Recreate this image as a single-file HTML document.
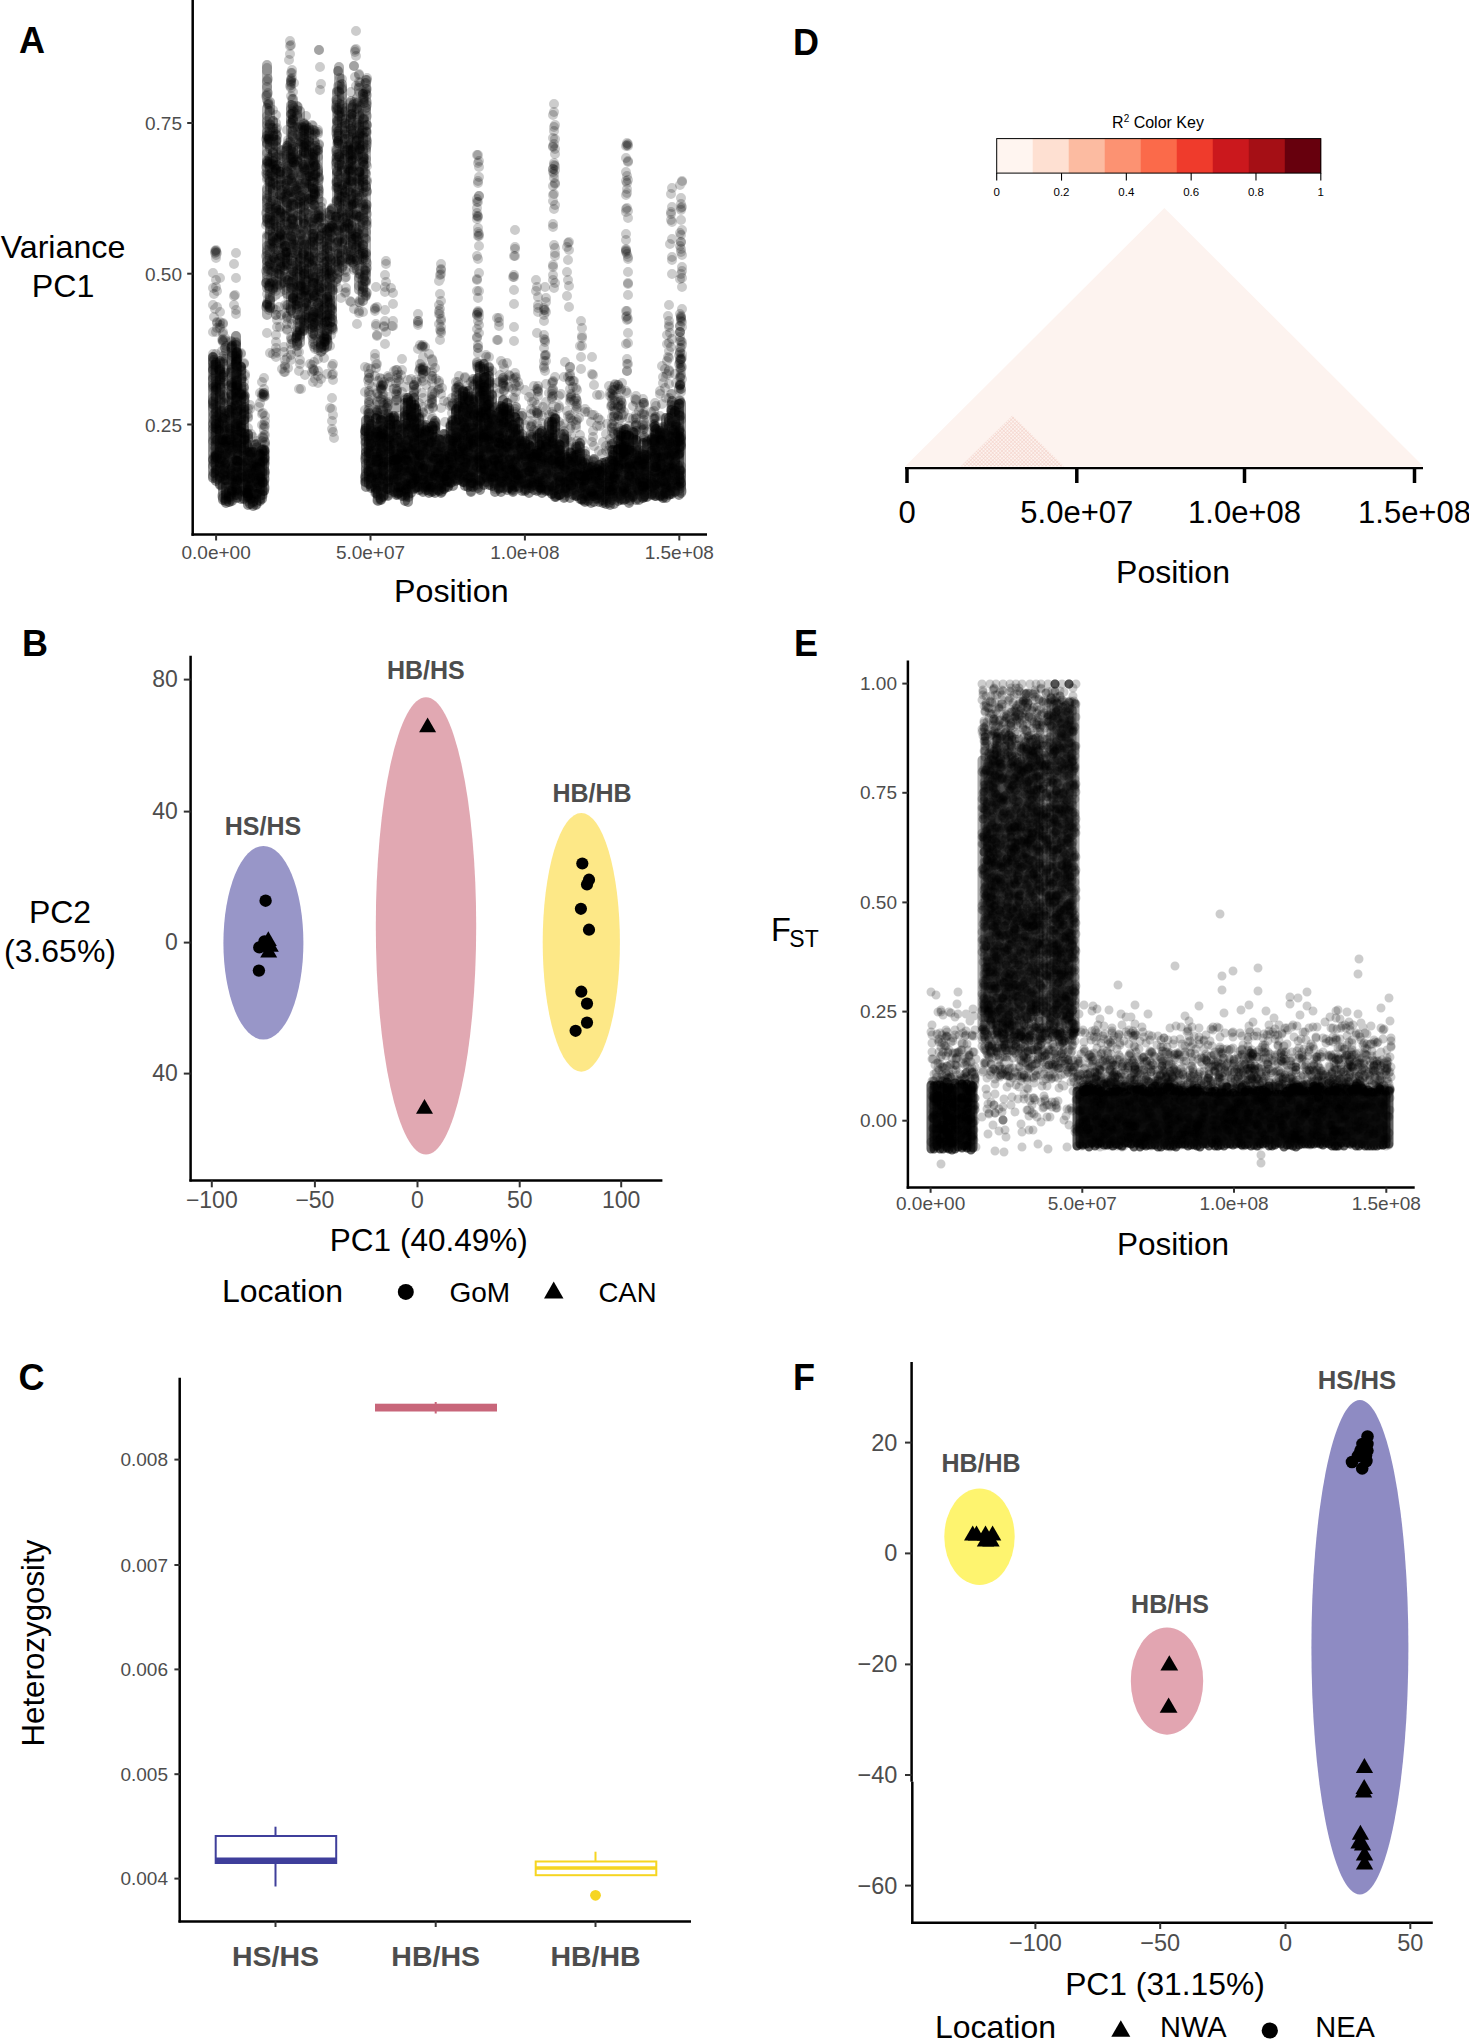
<!DOCTYPE html>
<html><head><meta charset="utf-8"><style>
html,body{margin:0;padding:0;background:#fff;}
svg{display:block;}
.s{stroke:#000;stroke-linecap:round;fill:none;}
text{font-family:"Liberation Sans",sans-serif;}
</style></head><body>
<svg width="1469" height="2040" viewBox="0 0 1469 2040">
<text x="19" y="52.8" font-size="36" text-anchor="start" font-weight="bold" fill="#000" >A</text>
<line x1="192.7" y1="0" x2="192.7" y2="535.8" stroke="#000" stroke-width="2.5"/>
<line x1="191.5" y1="534.6" x2="707" y2="534.6" stroke="#000" stroke-width="2.5"/>
<line x1="187.2" y1="123.0" x2="192.7" y2="123.0" stroke="#333" stroke-width="2"/>
<text x="182" y="130.0" font-size="19" text-anchor="end" fill="#4d4d4d" >0.75</text>
<line x1="187.2" y1="273.7" x2="192.7" y2="273.7" stroke="#333" stroke-width="2"/>
<text x="182" y="280.7" font-size="19" text-anchor="end" fill="#4d4d4d" >0.50</text>
<line x1="187.2" y1="424.5" x2="192.7" y2="424.5" stroke="#333" stroke-width="2"/>
<text x="182" y="431.5" font-size="19" text-anchor="end" fill="#4d4d4d" >0.25</text>
<line x1="216.1" y1="534.6" x2="216.1" y2="540.5" stroke="#333" stroke-width="2"/>
<text x="216.1" y="559" font-size="19" text-anchor="middle" fill="#4d4d4d" >0.0e+00</text>
<line x1="370.5" y1="534.6" x2="370.5" y2="540.5" stroke="#333" stroke-width="2"/>
<text x="370.5" y="559" font-size="19" text-anchor="middle" fill="#4d4d4d" >5.0e+07</text>
<line x1="524.9" y1="534.6" x2="524.9" y2="540.5" stroke="#333" stroke-width="2"/>
<text x="524.9" y="559" font-size="19" text-anchor="middle" fill="#4d4d4d" >1.0e+08</text>
<line x1="679.3" y1="534.6" x2="679.3" y2="540.5" stroke="#333" stroke-width="2"/>
<text x="679.3" y="559" font-size="19" text-anchor="middle" fill="#4d4d4d" >1.5e+08</text>
<text x="451.3" y="602" font-size="32.2" text-anchor="middle" fill="#000" >Position</text>
<text x="63" y="258" font-size="32.2" text-anchor="middle" fill="#000" >Variance</text>
<text x="63" y="297" font-size="32.2" text-anchor="middle" fill="#000" >PC1</text>
<text x="793.1" y="54.8" font-size="36" text-anchor="start" font-weight="bold" fill="#000" >D</text>
<rect x="996.70" y="138.6" width="36.31" height="34.5" fill="#FFF5F0"/>
<rect x="1032.71" y="138.6" width="36.31" height="34.5" fill="#FEE0D2"/>
<rect x="1068.72" y="138.6" width="36.31" height="34.5" fill="#FCBBA1"/>
<rect x="1104.73" y="138.6" width="36.31" height="34.5" fill="#FC9272"/>
<rect x="1140.74" y="138.6" width="36.31" height="34.5" fill="#FB6A4A"/>
<rect x="1176.76" y="138.6" width="36.31" height="34.5" fill="#EF3B2C"/>
<rect x="1212.77" y="138.6" width="36.31" height="34.5" fill="#CB181D"/>
<rect x="1248.78" y="138.6" width="36.31" height="34.5" fill="#A50F15"/>
<rect x="1284.79" y="138.6" width="36.31" height="34.5" fill="#67000D"/>
<rect x="996.7" y="138.6" width="324.0999999999999" height="34.5" fill="none" stroke="#000" stroke-width="1"/>
<line x1="996.7" y1="173.1" x2="996.7" y2="180.6" stroke="#000" stroke-width="1.1"/>
<text x="996.7" y="196.2" font-size="11.5" text-anchor="middle" fill="#000" >0</text>
<line x1="1061.52" y1="173.1" x2="1061.52" y2="180.6" stroke="#000" stroke-width="1.1"/>
<text x="1061.52" y="196.2" font-size="11.5" text-anchor="middle" fill="#000" >0.2</text>
<line x1="1126.34" y1="173.1" x2="1126.34" y2="180.6" stroke="#000" stroke-width="1.1"/>
<text x="1126.34" y="196.2" font-size="11.5" text-anchor="middle" fill="#000" >0.4</text>
<line x1="1191.16" y1="173.1" x2="1191.16" y2="180.6" stroke="#000" stroke-width="1.1"/>
<text x="1191.16" y="196.2" font-size="11.5" text-anchor="middle" fill="#000" >0.6</text>
<line x1="1255.98" y1="173.1" x2="1255.98" y2="180.6" stroke="#000" stroke-width="1.1"/>
<text x="1255.98" y="196.2" font-size="11.5" text-anchor="middle" fill="#000" >0.8</text>
<line x1="1320.8" y1="173.1" x2="1320.8" y2="180.6" stroke="#000" stroke-width="1.1"/>
<text x="1320.8" y="196.2" font-size="11.5" text-anchor="middle" fill="#000" >1</text>
<text x="1158" y="128" font-size="16" text-anchor="middle">R<tspan font-size="10" dy="-6">2</tspan><tspan dy="6"> Color Key</tspan></text>
<polygon points="905,466.5 1164.4,208 1423.5,466.5" fill="#FDF3EF"/>
<defs><pattern id="ch" width="2.6" height="2.6" patternUnits="userSpaceOnUse" patternTransform="rotate(45)"><path d="M0 0.3H2.6M0.3 0V2.6" stroke="#EBB5AA" stroke-width="0.7"/></pattern></defs>
<polygon points="960.6,466.5 1012.4,415.5 1064.2,466.5" fill="url(#ch)" opacity="0.55"/>
<line x1="905" y1="468.1" x2="1423" y2="468.1" stroke="#000" stroke-width="2.2"/>
<line x1="907" y1="467" x2="907" y2="483" stroke="#000" stroke-width="3.5"/>
<line x1="1076.8" y1="467" x2="1076.8" y2="483" stroke="#000" stroke-width="3.5"/>
<line x1="1244.5" y1="467" x2="1244.5" y2="483" stroke="#000" stroke-width="3.5"/>
<line x1="1414.5" y1="467" x2="1414.5" y2="483" stroke="#000" stroke-width="3.5"/>
<text x="907" y="523" font-size="31" text-anchor="middle" fill="#000" >0</text>
<text x="1076.8" y="523" font-size="31" text-anchor="middle" fill="#000" >5.0e+07</text>
<text x="1244.5" y="523" font-size="31" text-anchor="middle" fill="#000" >1.0e+08</text>
<text x="1414.5" y="523" font-size="31" text-anchor="middle" fill="#000" >1.5e+08</text>
<text x="1173" y="583" font-size="32" text-anchor="middle" fill="#000" >Position</text>
<text x="22" y="655.9" font-size="36" text-anchor="start" font-weight="bold" fill="#000" >B</text>
<ellipse cx="263.4" cy="942.8" rx="40" ry="96.8" fill="#9896C8"/>
<ellipse cx="426" cy="925.9" rx="50.2" ry="228.7" fill="#E1A8B2"/>
<ellipse cx="581.3" cy="942.3" rx="38.6" ry="129.4" fill="#FDE887"/>
<line x1="190.6" y1="655.7" x2="190.6" y2="1181.6" stroke="#000" stroke-width="2.5"/>
<line x1="189.4" y1="1180.4" x2="662.4" y2="1180.4" stroke="#000" stroke-width="2.5"/>
<line x1="183.8" y1="679.6" x2="190.6" y2="679.6" stroke="#333" stroke-width="2"/>
<text x="177.9" y="687.3000000000001" font-size="23" text-anchor="end" fill="#4d4d4d" >80</text>
<line x1="183.8" y1="811.6" x2="190.6" y2="811.6" stroke="#333" stroke-width="2"/>
<text x="177.9" y="819.3000000000001" font-size="23" text-anchor="end" fill="#4d4d4d" >40</text>
<line x1="183.8" y1="942.6" x2="190.6" y2="942.6" stroke="#333" stroke-width="2"/>
<text x="177.9" y="950.3000000000001" font-size="23" text-anchor="end" fill="#4d4d4d" >0</text>
<line x1="183.8" y1="1073.6" x2="190.6" y2="1073.6" stroke="#333" stroke-width="2"/>
<text x="177.9" y="1081.3" font-size="23" text-anchor="end" fill="#4d4d4d" >40</text>
<line x1="211.8" y1="1180.4" x2="211.8" y2="1187.3" stroke="#333" stroke-width="2"/>
<text x="211.8" y="1208.2" font-size="23" text-anchor="middle" fill="#4d4d4d" >−100</text>
<line x1="314.9" y1="1180.4" x2="314.9" y2="1187.3" stroke="#333" stroke-width="2"/>
<text x="314.9" y="1208.2" font-size="23" text-anchor="middle" fill="#4d4d4d" >−50</text>
<line x1="417.5" y1="1180.4" x2="417.5" y2="1187.3" stroke="#333" stroke-width="2"/>
<text x="417.5" y="1208.2" font-size="23" text-anchor="middle" fill="#4d4d4d" >0</text>
<line x1="519.7" y1="1180.4" x2="519.7" y2="1187.3" stroke="#333" stroke-width="2"/>
<text x="519.7" y="1208.2" font-size="23" text-anchor="middle" fill="#4d4d4d" >50</text>
<line x1="621.2" y1="1180.4" x2="621.2" y2="1187.3" stroke="#333" stroke-width="2"/>
<text x="621.2" y="1208.2" font-size="23" text-anchor="middle" fill="#4d4d4d" >100</text>
<text x="428.8" y="1251" font-size="31.5" text-anchor="middle" fill="#000" >PC1 (40.49%)</text>
<text x="60" y="922.9" font-size="32" text-anchor="middle" fill="#000" >PC2</text>
<text x="60" y="961.5" font-size="32" text-anchor="middle" fill="#000" >(3.65%)</text>
<text x="263" y="834.7" font-size="25" text-anchor="middle" font-weight="bold" fill="#4d4d4d" >HS/HS</text>
<text x="425.9" y="678.7" font-size="25" text-anchor="middle" font-weight="bold" fill="#4d4d4d" >HB/HS</text>
<text x="592" y="801.7" font-size="25" text-anchor="middle" font-weight="bold" fill="#4d4d4d" >HB/HB</text>
<circle cx="265.6" cy="900.7" r="6.2" fill="#000"/>
<circle cx="264.5" cy="941.5" r="6.2" fill="#000"/>
<circle cx="259.3" cy="947.4" r="6.2" fill="#000"/>
<circle cx="258.9" cy="970.6" r="6.2" fill="#000"/>
<polygon points="259.8,945.9 276.8,945.9 268.3,931.2" fill="#000"/>
<polygon points="260.2,957.6 277.2,957.6 268.7,942.9" fill="#000"/>
<polygon points="261.8,951.7 278.8,951.7 270.3,937.0" fill="#000"/>
<polygon points="419.1,732.3 436.1,732.3 427.6,717.6" fill="#000"/>
<polygon points="416.0,1113.7 433.0,1113.7 424.5,1099.0" fill="#000"/>
<circle cx="582.3" cy="863.5" r="6.1" fill="#000"/>
<circle cx="589" cy="879.7" r="6.1" fill="#000"/>
<circle cx="587" cy="884.5" r="6.1" fill="#000"/>
<circle cx="580.9" cy="908.8" r="6.1" fill="#000"/>
<circle cx="589" cy="929.7" r="6.1" fill="#000"/>
<circle cx="581.3" cy="991.7" r="6.1" fill="#000"/>
<circle cx="587" cy="1003.6" r="6.1" fill="#000"/>
<circle cx="587" cy="1022.6" r="6.1" fill="#000"/>
<circle cx="575.6" cy="1030.8" r="6.1" fill="#000"/>
<text x="222" y="1301.7" font-size="32" text-anchor="start" fill="#000" >Location</text>
<circle cx="405.8" cy="1291.9" r="8" fill="#000"/>
<text x="449.5" y="1302.4" font-size="28" text-anchor="start" fill="#000" >GoM</text>
<polygon points="544.0,1298.5 563.5,1298.5 553.7,1281.6" fill="#000"/>
<text x="598.5" y="1302.4" font-size="27.5" text-anchor="start" fill="#000" >CAN</text>
<text x="18.6" y="1390" font-size="36" text-anchor="start" font-weight="bold" fill="#000" >C</text>
<line x1="179.7" y1="1377.7" x2="179.7" y2="1922.6" stroke="#000" stroke-width="2.5"/>
<line x1="178.5" y1="1921.4" x2="691" y2="1921.4" stroke="#000" stroke-width="2.5"/>
<line x1="174.4" y1="1459.6" x2="179.9" y2="1459.6" stroke="#333" stroke-width="2"/>
<text x="168" y="1466.1" font-size="19" text-anchor="end" fill="#4d4d4d" >0.008</text>
<line x1="174.4" y1="1565" x2="179.9" y2="1565" stroke="#333" stroke-width="2"/>
<text x="168" y="1571.5" font-size="19" text-anchor="end" fill="#4d4d4d" >0.007</text>
<line x1="174.4" y1="1669.4" x2="179.9" y2="1669.4" stroke="#333" stroke-width="2"/>
<text x="168" y="1675.9" font-size="19" text-anchor="end" fill="#4d4d4d" >0.006</text>
<line x1="174.4" y1="1774.2" x2="179.9" y2="1774.2" stroke="#333" stroke-width="2"/>
<text x="168" y="1780.7" font-size="19" text-anchor="end" fill="#4d4d4d" >0.005</text>
<line x1="174.4" y1="1878.6" x2="179.9" y2="1878.6" stroke="#333" stroke-width="2"/>
<text x="168" y="1885.1" font-size="19" text-anchor="end" fill="#4d4d4d" >0.004</text>
<line x1="275.5" y1="1921.3" x2="275.5" y2="1927" stroke="#333" stroke-width="2"/>
<text x="275.5" y="1966" font-size="28.5" text-anchor="middle" font-weight="bold" fill="#4d4d4d" >HS/HS</text>
<line x1="435.7" y1="1921.3" x2="435.7" y2="1927" stroke="#333" stroke-width="2"/>
<text x="435.7" y="1966" font-size="28.5" text-anchor="middle" font-weight="bold" fill="#4d4d4d" >HB/HS</text>
<line x1="595.5" y1="1921.3" x2="595.5" y2="1927" stroke="#333" stroke-width="2"/>
<text x="595.5" y="1966" font-size="28.5" text-anchor="middle" font-weight="bold" fill="#4d4d4d" >HB/HB</text>
<text transform="translate(44,1643.1) rotate(-90)" font-size="31.3" text-anchor="middle">Heterozygosity</text>
<line x1="275.5" y1="1826.7" x2="275.5" y2="1836" stroke="#3F3F9B" stroke-width="2"/>
<line x1="275.5" y1="1863" x2="275.5" y2="1886.5" stroke="#3F3F9B" stroke-width="2"/>
<rect x="215.7" y="1836" width="120.5" height="27" fill="#fff" stroke="#3F3F9B" stroke-width="2"/>
<line x1="215.7" y1="1860" x2="336.2" y2="1860" stroke="#3F3F9B" stroke-width="5"/>
<rect x="375" y="1403.7" width="122" height="7.8" fill="#C8667A"/>
<line x1="435.7" y1="1402" x2="435.7" y2="1413.5" stroke="#C8667A" stroke-width="2"/>
<line x1="595.5" y1="1851.7" x2="595.5" y2="1861.5" stroke="#F6D521" stroke-width="2"/>
<rect x="535.7" y="1861.5" width="120.6" height="13.7" fill="none" stroke="#F6D521" stroke-width="2"/>
<line x1="535.7" y1="1868" x2="656.3" y2="1868" stroke="#F6D521" stroke-width="3.5"/>
<circle cx="595.5" cy="1895.3" r="5.4" fill="#F6D521"/>
<text x="794.1" y="655.8" font-size="36" text-anchor="start" font-weight="bold" fill="#000" >E</text>
<line x1="907.9" y1="660.6" x2="907.9" y2="1188.7" stroke="#000" stroke-width="2.5"/>
<line x1="906.7" y1="1187.5" x2="1414.7" y2="1187.5" stroke="#000" stroke-width="2.5"/>
<line x1="902.3" y1="683.6" x2="907.9" y2="683.6" stroke="#333" stroke-width="2"/>
<text x="897" y="690.1" font-size="19" text-anchor="end" fill="#4d4d4d" >1.00</text>
<line x1="902.3" y1="792.8" x2="907.9" y2="792.8" stroke="#333" stroke-width="2"/>
<text x="897" y="799.3" font-size="19" text-anchor="end" fill="#4d4d4d" >0.75</text>
<line x1="902.3" y1="902.4" x2="907.9" y2="902.4" stroke="#333" stroke-width="2"/>
<text x="897" y="908.9" font-size="19" text-anchor="end" fill="#4d4d4d" >0.50</text>
<line x1="902.3" y1="1011.6" x2="907.9" y2="1011.6" stroke="#333" stroke-width="2"/>
<text x="897" y="1018.1" font-size="19" text-anchor="end" fill="#4d4d4d" >0.25</text>
<line x1="902.3" y1="1120.7" x2="907.9" y2="1120.7" stroke="#333" stroke-width="2"/>
<text x="897" y="1127.2" font-size="19" text-anchor="end" fill="#4d4d4d" >0.00</text>
<line x1="930.6" y1="1187.5" x2="930.6" y2="1192.8" stroke="#333" stroke-width="2"/>
<text x="930.6" y="1209.8" font-size="19" text-anchor="middle" fill="#4d4d4d" >0.0e+00</text>
<line x1="1082.3" y1="1187.5" x2="1082.3" y2="1192.8" stroke="#333" stroke-width="2"/>
<text x="1082.3" y="1209.8" font-size="19" text-anchor="middle" fill="#4d4d4d" >5.0e+07</text>
<line x1="1234" y1="1187.5" x2="1234" y2="1192.8" stroke="#333" stroke-width="2"/>
<text x="1234" y="1209.8" font-size="19" text-anchor="middle" fill="#4d4d4d" >1.0e+08</text>
<line x1="1386.3" y1="1187.5" x2="1386.3" y2="1192.8" stroke="#333" stroke-width="2"/>
<text x="1386.3" y="1209.8" font-size="19" text-anchor="middle" fill="#4d4d4d" >1.5e+08</text>
<text x="1173" y="1254.6" font-size="31.5" text-anchor="middle" fill="#000" >Position</text>
<text x="771" y="940.6" font-size="32.5">F<tspan font-size="23" dx="-1.5" dy="6.5">ST</tspan></text>
<text x="793.1" y="1389.7" font-size="36" text-anchor="start" font-weight="bold" fill="#000" >F</text>
<ellipse cx="979.5" cy="1536.8" rx="35.2" ry="48.2" fill="#FEF46F"/>
<ellipse cx="1167" cy="1681.1" rx="36.2" ry="53.6" fill="#E2A5B1"/>
<ellipse cx="1359.9" cy="1647.3" rx="48.5" ry="247.2" fill="#8E8BC3"/>
<line x1="911.6" y1="1362" x2="911.6" y2="1781.7" stroke="#000" stroke-width="2.5"/>
<line x1="912.3" y1="1781.7" x2="912.3" y2="1924" stroke="#000" stroke-width="2.5"/>
<line x1="911.1" y1="1922.7" x2="1432.8" y2="1922.7" stroke="#000" stroke-width="2.5"/>
<line x1="905" y1="1442.6" x2="911.5" y2="1442.6" stroke="#333" stroke-width="2"/>
<text x="897.4" y="1450.6" font-size="23.5" text-anchor="end" fill="#4d4d4d" >20</text>
<line x1="905" y1="1553.4" x2="911.5" y2="1553.4" stroke="#333" stroke-width="2"/>
<text x="897.4" y="1561.4" font-size="23.5" text-anchor="end" fill="#4d4d4d" >0</text>
<line x1="905" y1="1664.4" x2="911.5" y2="1664.4" stroke="#333" stroke-width="2"/>
<text x="897.4" y="1672.4" font-size="23.5" text-anchor="end" fill="#4d4d4d" >−20</text>
<line x1="905" y1="1775.0" x2="911.5" y2="1775.0" stroke="#333" stroke-width="2"/>
<text x="897.4" y="1783.0" font-size="23.5" text-anchor="end" fill="#4d4d4d" >−40</text>
<line x1="905" y1="1885.6" x2="911.5" y2="1885.6" stroke="#333" stroke-width="2"/>
<text x="897.4" y="1893.6" font-size="23.5" text-anchor="end" fill="#4d4d4d" >−60</text>
<line x1="1035.4" y1="1922.7" x2="1035.4" y2="1929" stroke="#333" stroke-width="2"/>
<text x="1035.4" y="1950.6" font-size="23.5" text-anchor="middle" fill="#4d4d4d" >−100</text>
<line x1="1160.2" y1="1922.7" x2="1160.2" y2="1929" stroke="#333" stroke-width="2"/>
<text x="1160.2" y="1950.6" font-size="23.5" text-anchor="middle" fill="#4d4d4d" >−50</text>
<line x1="1285.5" y1="1922.7" x2="1285.5" y2="1929" stroke="#333" stroke-width="2"/>
<text x="1285.5" y="1950.6" font-size="23.5" text-anchor="middle" fill="#4d4d4d" >0</text>
<line x1="1410.3" y1="1922.7" x2="1410.3" y2="1929" stroke="#333" stroke-width="2"/>
<text x="1410.3" y="1950.6" font-size="23.5" text-anchor="middle" fill="#4d4d4d" >50</text>
<text x="1165" y="1995" font-size="31.8" text-anchor="middle" fill="#000" >PC1 (31.15%)</text>
<text x="981" y="1472" font-size="25" text-anchor="middle" font-weight="bold" fill="#4d4d4d" >HB/HB</text>
<text x="1170" y="1613" font-size="25" text-anchor="middle" font-weight="bold" fill="#4d4d4d" >HB/HS</text>
<text x="1357" y="1389" font-size="25.7" text-anchor="middle" font-weight="bold" fill="#4d4d4d" >HS/HS</text>
<polygon points="964.0,1540.6 981.4,1540.6 972.7,1525.5" fill="#000"/>
<polygon points="967.8,1540.6 985.2,1540.6 976.5,1525.5" fill="#000"/>
<polygon points="976.8,1540.6 994.2,1540.6 985.5,1525.5" fill="#000"/>
<polygon points="983.9,1540.6 1001.3,1540.6 992.6,1525.5" fill="#000"/>
<polygon points="976.8,1546.6 994.2,1546.6 985.5,1531.5" fill="#000"/>
<polygon points="982.3,1546.6 999.7,1546.6 991.0,1531.5" fill="#000"/>
<polygon points="1160.4,1670.6 1178.2,1670.6 1169.3,1655.2" fill="#000"/>
<polygon points="1159.7,1712.8 1177.5,1712.8 1168.6,1697.4" fill="#000"/>
<circle cx="1367.5" cy="1436.5" r="6.3" fill="#000"/>
<circle cx="1367.4" cy="1444" r="6.3" fill="#000"/>
<circle cx="1362.5" cy="1444" r="6.3" fill="#000"/>
<circle cx="1367.4" cy="1450.6" r="6.3" fill="#000"/>
<circle cx="1360.5" cy="1450.6" r="6.3" fill="#000"/>
<circle cx="1366" cy="1455.5" r="6.3" fill="#000"/>
<circle cx="1358" cy="1456" r="6.3" fill="#000"/>
<circle cx="1366.4" cy="1461" r="6.3" fill="#000"/>
<circle cx="1352" cy="1462" r="6.3" fill="#000"/>
<circle cx="1362.2" cy="1468.4" r="6.3" fill="#000"/>
<polygon points="1355.8,1772.9 1373.1,1772.9 1364.4,1757.9" fill="#000"/>
<polygon points="1354.9,1797.5 1372.2,1797.5 1363.6,1782.5" fill="#000"/>
<polygon points="1355.5,1794.0 1372.9,1794.0 1364.2,1779.0" fill="#000"/>
<polygon points="1351.8,1839.8 1369.1,1839.8 1360.4,1824.8" fill="#000"/>
<polygon points="1350.4,1848.4 1367.8,1848.4 1359.1,1833.4" fill="#000"/>
<polygon points="1353.9,1850.6 1371.2,1850.6 1362.6,1835.6" fill="#000"/>
<polygon points="1355.8,1860.5 1373.2,1860.5 1364.5,1845.5" fill="#000"/>
<polygon points="1355.9,1869.4 1373.2,1869.4 1364.6,1854.4" fill="#000"/>
<text x="935" y="2038" font-size="32" text-anchor="start" fill="#000" >Location</text>
<polygon points="1111.3,2036.7 1130.3,2036.7 1120.8,2020.2" fill="#000"/>
<text x="1160" y="2036.5" font-size="29" text-anchor="start" fill="#000" >NWA</text>
<circle cx="1269.8" cy="2030.5" r="8.1" fill="#000"/>
<text x="1315.3" y="2036.5" font-size="29" text-anchor="start" fill="#000" >NEA</text>
<path d="M213 357V478M223 418V500M232 346V501M241 367V499M250 452V504M260 454V501M366 420V487M376 418V493M383 421V497M394 416V492M402 425V496M411 401V493M419 418V490M429 431V493M439 439V491M448 439V487M456 409V481M465 392V486M473 400V487M484 364V485M492 395V486M501 406V492M509 408V488M519 422V488M529 445V493M537 451V491M546 439V491M555 418V497M564 434V498M573 456V495M582 462V500M591 467V503M599 465V502M610 460V505M618 449V501M626 429V499M636 440V500M644 455V497M655 426V496M663 427V498M672 401V494M681 403V493" stroke-opacity="0.42" stroke-width="10" class="s"/>
<path d="M216 363V481M226 439V503M236 336V495M244 397V499M253 452V506M262 450V499M369 413V484M378 432V501M388 428V496M397 425V495M405 403V501M414 398V489M423 445V492M432 426V492M441 440V493M451 425V483M459 406V480M468 391V487M478 378V488M486 377V482M495 416V492M503 400V488M513 425V492M522 434V491M531 447V488M540 433V488M549 422V491M559 444V495M567 457V493M576 455V496M585 454V502M594 459V502M603 463V503M612 461V500M621 436V500M629 436V503M639 456V500M647 442V497M656 429V496M666 418V498M675 411V492" stroke-opacity="0.42" stroke-width="10" class="s"/>
<path d="M220 361V485M229 410V502M237 352V498M248 434V505M256 444V505M264 450V491M371 424V488M381 420V500M390 418V490M398 438V494M408 398V502M416 408V488M426 425V490M435 421V493M444 434V489M453 421V486M463 391V482M471 405V492M480 366V490M489 376V485M499 412V489M507 403V490M515 417V487M525 441V491M534 454V490M542 431V493M552 422V494M560 445V495M570 461V498M580 443V499M588 468V501M597 469V499M606 462V504M614 463V504M624 430V500M633 432V497M643 443V498M652 438V495M660 431V496M669 418V495M679 404V495" stroke-opacity="0.42" stroke-width="10" class="s"/>
<path d="M267 65V100M267 188V222M270 102V149M270 284V308M273 201V241M276 140V185M280 162V215M281 150V211M285 179V246M287 230V265M291 149V192M291 282V311M293 204V253M297 153V194M297 335V346M300 230V295M304 172V225M304 331V331M306 212V265M309 128V177M309 296V324M313 267V302M315 190V218M318 153V211M318 298V325M321 346V352M327 230V273M330 279V323M337 91V138M339 67V114M339 253V272M342 209V250M345 192V227M348 184V227M351 143V205M353 105V141M357 98V136M359 88V149M359 277V290M363 162V188M366 80V108M366 253V282" stroke-opacity="0.3" stroke-width="10" class="s"/>
<path d="M267 108V144M267 237V288M270 158V197M273 121V163M273 250V288M276 202V247M280 215V242M281 225V264M285 253V286M287 265V294M291 204V236M293 99V160M293 266V313M297 207V241M300 111V141M300 302V343M304 232V284M306 125V154M306 278V306M309 196V235M313 157V225M313 312V334M315 239V290M318 211V256M321 207V277M324 221V285M327 282V347M332 208V246M337 149V209M339 131V164M342 84V140M342 250V268M345 227V257M348 242V259M351 215V251M353 149V206M357 136V189M359 167V216M363 94V136M363 200V260M366 108V164" stroke-opacity="0.3" stroke-width="10" class="s"/>
<path d="M267 144V171M267 305V315M270 212V263M273 170V201M273 295V297M276 268V295M280 258V292M281 276V284M287 148V208M291 105V149M291 236V261M293 160V197M297 106V139M297 251V315M300 161V209M304 124V155M304 284V321M306 162V196M306 313V319M309 247V296M313 234V267M315 146V177M315 308V335M318 268V298M321 289V346M324 291V349M330 211V279M332 261V329M337 225V279M339 175V235M342 162V195M345 126V182M348 131V164M351 101V135M351 251V262M353 220V256M357 203V270M359 224V267M363 136V162M363 269V301M366 185V253" stroke-opacity="0.3" stroke-width="10" class="s"/>
<path d="M213 370h0m0-82h0m0 171h0m0-97h0m3 113h0m7-35h0m0-65h0m0 48h0m2-3h0m11 47h0m0-70h0m1-11h0m0 75h0m0-18h0m0-32h0m4-40h0m3 11h0m1 14h0m0 5h0m2 82h0m3 1h0m2 9h0m5 1h0m0-27h0m4 4h0m2 11h0m0 13h0m4-272h0m0-88h0m3 74h0m3 48h0m1-61h0m2-73h0m0 43h0m1 118h0m2-53h0m1-56h0m1 60h0m4 78h0m1-61h0m2 28h0m3-101h0m0 97h0m1 48h0m0 16h0m0-235h0m0 30h0m0 138h0m1 25h0m0-136h0m3 92h0m1 81h0m0 17h0m1-224h0m0 34h0m1 209h0m1-39h0m0-129h0m1 12h0m3 8h0m0-76h0m6 110h0m2-35h0m1-74h0m0 152h0m2 2h0m3-131h0m0 48h0m0-85h0m1 157h0m2-47h0m3 82h0m3-65h0m4 39h0m5-79h0m0-69h0m0 99h0m0 11h0m1-8h0m1-65h0m3 50h0m4-46h0m3-2h0m0-46h0m1 67h0m0 25h0m4-32h0m0 31h0m4-96h0m2 94h0m1 66h0m0-115h0m2 18h0m1-81h0m1-19h0m0 16h0m2 363h0m1-342h0m0-38h0m2 333h0m3 42h0m4-24h0m0-129h0m1 40h0m4 21h0m0 35h0m1 14h0m1 32h0m3-134h0m3 161h0m7-39h0m1 17h0m0-1h0m5-15h0m0 8h0m3 8h0m0-56h0m2 75h0m1-36h0m0 1h0m3-53h0m3 6h0m1 51h0m2-77h0m1-33h0m1 131h0m3 10h0m1-143h0m5 101h0m0-6h0m1 45h0m10-21h0m3-78h0m2 89h0m4-7h0m5-66h0m6 3h0m3-11h0m0 2h0m1 61h0m1-40h0m1 63h0m3-3h0m2-2h0m1-6h0m0-7h0m0-28h0m0 7h0m1-15h0m1 39h0m1-51h0m3-261h0m0 64h0m1 262h0m1-285h0m1 285h0m0-117h0m0 21h0m3 29h0m1-36h0m0 99h0m1 0h0m1-120h0m0 60h0m3 6h0m2-2h0m2 45h0m1 6h0m0-52h0m3-102h0m1 88h0m1 56h0m0-69h0m1 45h0m1-20h0m2-32h0m0 65h0m9 19h0m1 21h0m0-93h0m2 19h0m6 31h0m1 27h0m9-29h0m0-8h0m3-8h0m5 14h0m7 29h0m2-15h0m1-1h0m7-12h0m3 17h0m5 7h0m4-189h0m2 118h0m0 17h0m0 31h0m1 17h0m6-43h0m0-19h0m2 45h0m0 6h0m0 24h0m3-130h0m2 155h0m8-21h0m14 18h0m1-11h0m5-59h0m0 31h0m1-9h0m0 41h0m1-5h0m1-12h0m2-17h0m4-57h0m3 45h0m2-194h0m0 60h0m3 158h0m7 9h0m0-12h0m1 6h0m3-5h0m2-53h0m1 64h0m2 1h0m9-39h0m6 0h0m1 7h0m1 21h0m4 9h0m1-116h0m1 97h0m1 17h0m0-18h0m0-152h0m3 125h0m0 54h0m0-58h0m3 40h0m3 0h0m1-30h0m2-115h0m0 123h0" stroke-opacity="0.2" stroke-width="10" class="s"/>
<path d="M214 294h0m2 130h0m0-172h0m3 140h0m4 78h0m0-106h0m1 105h0m1-38h0m3 22h0m1-20h0m1 7h0m2-95h0m3 140h0m1-123h0m0 23h0m1 96h0m3-50h0m11 23h0m0 15h0m2 6h0m1 1h0m5-20h0m6-30h0m1-213h0m1 90h0m0-51h0m2-87h0m0 79h0m3-80h0m2 19h0m2 3h0m0-57h0m1 198h0m0-121h0m2 76h0m6 78h0m1-107h0m1 71h0m0-8h0m4-271h0m1 91h0m0-5h0m1-25h0m0 14h0m1 18h0m2 167h0m2-117h0m2 142h0m1-130h0m0 70h0m0-54h0m2 37h0m0-60h0m1-22h0m0-48h0m0 108h0m0-99h0m1 52h0m0-38h0m0 150h0m4-130h0m3 34h0m1-46h0m0 185h0m1-157h0m2 136h0m2 0h0m1-129h0m0 27h0m2 64h0m5 56h0m0-108h0m3 46h0m1-12h0m0-3h0m0-31h0m0-13h0m2 95h0m0 99h0m1 6h0m3-227h0m0-26h0m1 38h0m0-28h0m1-31h0m3 55h0m0 65h0m2-42h0m0-73h0m3 51h0m2-47h0m2 111h0m0-2h0m6-12h0m0-52h0m1-70h0m0 1h0m2 104h0m0-59h0m1-88h0m3 124h0m1 3h0m0-92h0m1 163h0m1 183h0m1-282h0m2 196h0m0 25h0m7 88h0m0-54h0m2 41h0m3-92h0m2 3h0m1 48h0m0 58h0m3-12h0m1-79h0m1 56h0m1-40h0m1-132h0m2 178h0m2-6h0m1-25h0m1-37h0m0-3h0m1 98h0m1-33h0m2 2h0m4-7h0m6-32h0m1 23h0m2-7h0m15 4h0m1 12h0m2-53h0m0 2h0m1 25h0m3 59h0m2 2h0m0-21h0m3 19h0m0 1h0m0-42h0m1-4h0m6-5h0m4-4h0m7 42h0m1-16h0m3-51h0m1-2h0m0 34h0m1 9h0m3-41h0m1 13h0m3 22h0m2 4h0m3-235h0m1 169h0m1 67h0m0-215h0m1 191h0m0 29h0m1-34h0m2 51h0m1-38h0m1 2h0m3-4h0m1-57h0m1 60h0m1 18h0m3-64h0m1 99h0m0-8h0m4-21h0m0-136h0m2 67h0m0 20h0m2-27h0m4 42h0m3-11h0m5-183h0m3 227h0m7-32h0m5 46h0m1-62h0m6 27h0m1 34h0m2 0h0m1-18h0m1 38h0m0-26h0m0-32h0m4-120h0m3 175h0m0-45h0m5-1h0m1-22h0m0 37h0m1 11h0m0-5h0m8-9h0m1 13h0m2-7h0m3-7h0m14 29h0m1-30h0m3 20h0m1 27h0m8-72h0m3 45h0m0 22h0m13-35h0m1-32h0m0 46h0m4-87h0m1 65h0m0 28h0m2-43h0m0-30h0m0 28h0m1 42h0m2 0h0m3-111h0m6 132h0m3-38h0m7-28h0m3 36h0m9-7h0m1 4h0m1 23h0m6 12h0m9-88h0m0 54h0m3 16h0m1-47h0m0 26h0m3-4h0m2-85h0m0 46h0m1-235h0" stroke-opacity="0.2" stroke-width="10" class="s"/>
<path d="M213 354h0m1 119h0m9-117h0m2 16h0m1 69h0m0-95h0m3 83h0m3 33h0m1 21h0m2-78h0m1-52h0m0 40h0m1 98h0m1-86h0m3 1h0m0-11h0m4-21h0m4 116h0m4-37h0m3-5h0m1 56h0m0-30h0m4-20h0m1 18h0m1-34h0m1 44h0m1-66h0m2-263h0m0 25h0m1-39h0m1 147h0m1-111h0m0 131h0m1-104h0m3-36h0m2 176h0m1-163h0m0 141h0m4-108h0m1-14h0m0 31h0m0-73h0m10 57h0m0 14h0m1 18h0m3 56h0m1-1h0m0 33h0m1-37h0m2-51h0m0-117h0m0 110h0m0-111h0m1 164h0m2-61h0m2 45h0m5-88h0m0 142h0m3-133h0m0 103h0m1-16h0m0-26h0m0-127h0m4 139h0m3-185h0m3 184h0m2 14h0m1 33h0m0-37h0m5-51h0m0 92h0m0-10h0m5-207h0m1 128h0m0-87h0m0 99h0m1-29h0m0-9h0m0-47h0m3 40h0m0-88h0m0 42h0m3-28h0m0 135h0m0-61h0m1-14h0m2 45h0m5-58h0m2-93h0m3 78h0m1 85h0m0-130h0m4 144h0m0-68h0m4-97h0m0 204h0m2 107h0m1 21h0m8-27h0m2 44h0m1-2h0m2-50h0m5 28h0m0 75h0m2-1h0m5-30h0m1-38h0m6 30h0m4-10h0m6 9h0m2-55h0m0 4h0m0-11h0m3 90h0m5-40h0m4-10h0m7 60h0m6-7h0m2-159h0m0 143h0m0-56h0m0 52h0m1 31h0m3-35h0m3 5h0m1 8h0m8-36h0m2-48h0m5 47h0m0-38h0m4 31h0m2 27h0m1-37h0m2 11h0m0 20h0m0-9h0m1-27h0m3-119h0m1 164h0m0 25h0m0-113h0m0 41h0m2 25h0m4-48h0m2 49h0m0-1h0m3-20h0m0 60h0m2 4h0m4-35h0m3 17h0m0-30h0m0-16h0m4-6h0m2 15h0m5-12h0m0 31h0m3 44h0m1-96h0m0 78h0m0-22h0m2-196h0m1 217h0m5-24h0m4 1h0m1 5h0m2 19h0m6 12h0m2-10h0m8-159h0m0 29h0m4 91h0m4 0h0m1-284h0m0-8h0m1 150h0m2 209h0m4-12h0m0-40h0m4-6h0m0 23h0m1 5h0m2-8h0m4 26h0m2-98h0m3 71h0m4 1h0m5 19h0m3-5h0m3 19h0m12 9h0m7-31h0m4 8h0m4-38h0m3-50h0m0 70h0m1-77h0m2 74h0m2 24h0m0 2h0m0-31h0m1-198h0m1 89h0m8 72h0m8 44h0m2 16h0m8 18h0m1-76h0m1 37h0m6 42h0m1-67h0m0 42h0m2 13h0m9 7h0m1-29h0m4-62h0m1 53h0m0-268h0m0 156h0m0 44h0m1 98h0m0-124h0m0 78h0m1-255h0" stroke-opacity="0.2" stroke-width="10" class="s"/>
<path d="M214 365h0m3 114h0m0-69h0m2 20h0m1-102h0m3 54h0m2-34h0m5 81h0m1-68h0m1 86h0m0 45h0m0-97h0m4 46h0m0-96h0m2 89h0m3 57h0m0-72h0m1 29h0m3-15h0m8 69h0m1-24h0m3 5h0m3-5h0m2-22h0m0-62h0m7-257h0m1 50h0m2-59h0m0 92h0m1 18h0m0-1h0m3 115h0m3-168h0m1 27h0m1 29h0m6 23h0m0 67h0m1-47h0m3-202h0m2 216h0m0-26h0m0 9h0m3-17h0m1 11h0m0-147h0m1 74h0m0 14h0m3 100h0m0-110h0m0-21h0m0 50h0m2-27h0m1 123h0m0-106h0m1 54h0m0 4h0m1-9h0m3-43h0m0 32h0m4-122h0m1 65h0m1-63h0m3 217h0m0-118h0m3 33h0m1-40h0m0 54h0m6 14h0m2-63h0m1 88h0m0-112h0m5 47h0m4-184h0m1 220h0m5-123h0m0 76h0m2-45h0m3-75h0m0-23h0m5 50h0m2 42h0m2 103h0m3-124h0m3 28h0m1 7h0m1 257h0m8-8h0m1 11h0m0-64h0m0 90h0m1-65h0m2 20h0m1 6h0m2-50h0m4 27h0m2 39h0m7-77h0m2 91h0m1-109h0m0 104h0m2-8h0m5-91h0m0 37h0m1 62h0m4-17h0m3 7h0m1 12h0m5-25h0m0-94h0m3 83h0m2 24h0m1-105h0m2 114h0m4-7h0m0-102h0m0 21h0m1 11h0m0 82h0m0-55h0m14 47h0m4-39h0m1-2h0m0 10h0m4-40h0m0-22h0m1 43h0m2 7h0m6-11h0m3 39h0m3 11h0m3-77h0m0 32h0m3 23h0m1-108h0m6 100h0m1-71h0m3 27h0m1 53h0m0-17h0m0-59h0m1 69h0m2 5h0m0-36h0m1 64h0m1-11h0m4-9h0m0-9h0m1-23h0m1-5h0m3-48h0m1 29h0m2 20h0m0-11h0m1-3h0m0-50h0m5 78h0m1 0h0m1-137h0m2 141h0m2 41h0m0-57h0m1 52h0m10-10h0m2-44h0m6 23h0m0-12h0m3 49h0m2-30h0m4-2h0m0 35h0m2-32h0m0-34h0m1-9h0m3-24h0m1-111h0m0-133h0m1 16h0m1 42h0m1 292h0m14-123h0m1 22h0m3 86h0m3-33h0m8-37h0m1 82h0m2-22h0m12 6h0m2 4h0m1-10h0m3-26h0m6 18h0m0-47h0m1-22h0m1 55h0m7-19h0m1 3h0m0 2h0m2 15h0m2-202h0m2 84h0m0-187h0m1 290h0m0 41h0m4-10h0m3-44h0m0 4h0m4 33h0m3 25h0m0 5h0m1 6h0m1-81h0m1 63h0m1 5h0m4 11h0m5-9h0m5-21h0m0 7h0m8-45h0m1 51h0m1 11h0m0-32h0m5-73h0m4 87h0m0-237h0m0 145h0m1 69h0" stroke-opacity="0.2" stroke-width="10" class="s"/>
<path d="M213 460h0m1-69h0m2 79h0m0-58h0m6-72h0m1-16h0m6 62h0m1 45h0m1-45h0m5 20h0m0 77h0m0-134h0m1 93h0m0 39h0m0 9h0m1-64h0m0 45h0m6-15h0m3 37h0m4-14h0m4-34h0m2 34h0m0-12h0m2-60h0m4 65h0m1-4h0m0-73h0m1 67h0m0-11h0m2-232h0m1 36h0m5 35h0m3-85h0m1 33h0m3-43h0m1-2h0m3 55h0m3-34h0m0-66h0m4 9h0m0-43h0m0-29h0m0 252h0m1-105h0m0-12h0m1 78h0m1-135h0m0 64h0m4 79h0m0-29h0m0-110h0m2 123h0m0-131h0m0 129h0m1-21h0m0 19h0m0-110h0m3 26h0m0-35h0m5 123h0m0 30h0m0-170h0m0 6h0m1 16h0m3 143h0m2 12h0m0-29h0m3 21h0m0-168h0m1 26h0m4 78h0m1-22h0m3 89h0m1-23h0m3 23h0m7-236h0m0 48h0m0-63h0m0 39h0m1 87h0m0-43h0m0-63h0m2 122h0m4-58h0m0 43h0m1 17h0m1-36h0m1 43h0m2-96h0m0 129h0m0-35h0m2-106h0m1 45h0m4-8h0m0-14h0m2-2h0m1 82h0m3 28h0m2 192h0m0-156h0m0-6h0m1-192h0m0 140h0m1-43h0m0-48h0m0 59h0m4 253h0m7-18h0m2-48h0m2 5h0m0 96h0m5-72h0m2 44h0m0-26h0m1 55h0m3-4h0m1-15h0m2 18h0m1-51h0m1-12h0m3 70h0m3 4h0m3-20h0m4-4h0m0 13h0m0-18h0m1-45h0m4-3h0m2-92h0m1 147h0m1-1h0m3-29h0m3 49h0m3-10h0m7-54h0m2 44h0m1 10h0m1-137h0m0 139h0m1-27h0m1 35h0m8-81h0m7 35h0m6 27h0m4-13h0m1 24h0m1-31h0m0-47h0m1 76h0m1-34h0m0 43h0m0-22h0m1-12h0m1-73h0m1 82h0m0-47h0m0 57h0m3-263h0m0 71h0m0 59h0m1 31h0m0 20h0m0-77h0m2 130h0m1-8h0m3 9h0m0-45h0m0 39h0m1 32h0m0-92h0m3 106h0m1-103h0m1 31h0m2-1h0m2 51h0m7-36h0m2 35h0m1 12h0m6-8h0m2 12h0m1-47h0m2-45h0m0 99h0m0-99h0m1 8h0m2 91h0m4-39h0m3 29h0m3-8h0m1-14h0m3 29h0m2 2h0m3-51h0m3 49h0m1 9h0m4-202h0m0 69h0m1-58h0m0 149h0m7-172h0m2 144h0m4 76h0m1-34h0m5 36h0m8-76h0m2 41h0m2-54h0m8 77h0m8-20h0m0 0h0m0-28h0m1-52h0m1 84h0m3 1h0m9 6h0m7-44h0m1 3h0m3 14h0m0-60h0m2 53h0m1 23h0m1-62h0m3 46h0m1 2h0m0-60h0m1-32h0m1-197h0m0 110h0m1 217h0m4 6h0m0-44h0m3 4h0m0 21h0m7 13h0m0 5h0m1-28h0m3 28h0m0-13h0m8-62h0m1 46h0m1 14h0m5-113h0m4 108h0m3-20h0m4-10h0m2 3h0m4-43h0m1 25h0m0-183h0m1-26h0m1 67h0m0 22h0" stroke-opacity="0.2" stroke-width="10" class="s"/>
<path d="M214 420h0m0-33h0m2 42h0m0-174h0m0-4h0m4 120h0m3 57h0m0 22h0m0-118h0m0 103h0m2 11h0m1-27h0m0 61h0m0-58h0m5-37h0m1 82h0m0-82h0m2-80h0m1 175h0m1 3h0m0-141h0m0 59h0m0-36h0m1 33h0m0-32h0m0 123h0m1-51h0m0 16h0m3 7h0m1-56h0m0-7h0m2 63h0m0-53h0m1 29h0m6 62h0m1-10h0m9 9h0m4-39h0m0 29h0m1-181h0m1-182h0m2 99h0m1-6h0m0 47h0m0-91h0m3 9h0m6-12h0m1 63h0m0 41h0m4-5h0m1-15h0m2-80h0m5-102h0m1 133h0m0-54h0m1 18h0m0 3h0m2-8h0m1 84h0m0-49h0m1-65h0m0 117h0m2 46h0m1-13h0m0-26h0m2-61h0m0-70h0m2 162h0m0-35h0m1-124h0m3 143h0m0-144h0m1 16h0m0-16h0m2 52h0m1 200h0m1-121h0m0-19h0m1 81h0m4 5h0m0-70h0m3 13h0m2 0h0m1-17h0m0 88h0m0-39h0m1 13h0m1-19h0m2-12h0m1-7h0m3-61h0m0 59h0m3-167h0m1-9h0m2 117h0m2-104h0m1 58h0m3-21h0m1 138h0m2-93h0m3-34h0m2 33h0m0-23h0m1 31h0m0 2h0m3-23h0m3-47h0m0 43h0m2 109h0m1-41h0m1-53h0m1 84h0m1 156h0m0-300h0m0 142h0m0 155h0m1-349h0m5 358h0m0-7h0m5 6h0m0-130h0m1 109h0m3 70h0m4-211h0m6 168h0m3 14h0m4 6h0m1-22h0m3-13h0m5-16h0m1 74h0m1 11h0m2-47h0m1-22h0m2 52h0m0-94h0m1 91h0m0-17h0m0 8h0m4-29h0m4-32h0m12 41h0m4 38h0m2-212h0m1 173h0m0 15h0m3 18h0m3-21h0m2 24h0m2-30h0m1-12h0m3-28h0m0 8h0m1 54h0m6-28h0m0-10h0m1 45h0m1-69h0m0 15h0m0-50h0m7 105h0m2-104h0m5 61h0m2 16h0m0-47h0m5 6h0m3 24h0m6 11h0m5 29h0m3-95h0m1 15h0m4 42h0m2 36h0m0-43h0m2 55h0m1-20h0m3-20h0m2 26h0m6-10h0m4 18h0m2-5h0m4-21h0m1 2h0m1-168h0m1 146h0m4 24h0m4-90h0m0 79h0m2 2h0m0 3h0m1-2h0m1-3h0m3-22h0m1 2h0m0-258h0m11 283h0m1-15h0m5-22h0m4 62h0m2-33h0m1-43h0m0 56h0m3-1h0m6 0h0m2 16h0m4-4h0m0 12h0m1-2h0m4 14h0m3-11h0m2 0h0m3-19h0m2 28h0m3-27h0m2 24h0m0-30h0m3 14h0m3-42h0m3 2h0m7-254h0m6 255h0m2-17h0m7 50h0m1-65h0m7 76h0m1-11h0m4-1h0m0-34h0m3 25h0m1 4h0m6 14h0m0-28h0m0 41h0m2-21h0m1-25h0m3-255h0m3 268h0m0-17h0m4-26h0m0 17h0m1-98h0m0 53h0m1-11h0m0 65h0m0-121h0" stroke-opacity="0.2" stroke-width="10" class="s"/>
<path d="M214 463h0m0-87h0m0 29h0m0-38h0m2 90h0m0-29h0m0 43h0m3-19h0m0-76h0m0-10h0m0 64h0m0-67h0m1 47h0m2 30h0m0 26h0m1-48h0m0 57h0m1 1h0m2-107h0m3 58h0m1 64h0m1-108h0m1-3h0m3 41h0m2 76h0m0-70h0m1 27h0m3-87h0m1 117h0m2-55h0m1 55h0m0-23h0m2 40h0m0-8h0m6 9h0m7-109h0m0 68h0m2 18h0m5-175h0m1-96h0m2 75h0m0-159h0m3 113h0m0-76h0m1 106h0m0-131h0m2 80h0m1 34h0m0-64h0m2 62h0m1 79h0m1-110h0m1 50h0m3-83h0m2-38h0m4-37h0m0 116h0m1-4h0m1 40h0m1-78h0m3-23h0m0 91h0m1-108h0m0 143h0m2 49h0m1-162h0m2 22h0m1-42h0m0 170h0m6-142h0m2 146h0m1-197h0m0 73h0m2-8h0m0 10h0m2 56h0m1 60h0m1-176h0m2 173h0m6 19h0m3-94h0m1 36h0m0-18h0m2-14h0m3-46h0m2 87h0m4-28h0m3-149h0m1 106h0m2 10h0m2-56h0m1 60h0m0-114h0m0 89h0m1-2h0m1 59h0m4-48h0m3 12h0m3-50h0m0-20h0m1 97h0m0-157h0m2 34h0m0 43h0m2 295h0m1 5h0m2-105h0m5 114h0m1-25h0m1-53h0m0 52h0m4 9h0m1-33h0m2-89h0m2 99h0m1 52h0m0-98h0m3 19h0m2 61h0m3-46h0m1-10h0m0 7h0m2 65h0m0-12h0m8 0h0m1-81h0m5 38h0m4 43h0m1-167h0m5 166h0m3-48h0m6-6h0m0-47h0m1 51h0m2 45h0m5 9h0m1-183h0m15 95h0m1 12h0m1 46h0m5-62h0m4 60h0m4 28h0m0-4h0m3-21h0m3-256h0m0 226h0m0 42h0m1-156h0m0 93h0m3 8h0m11-41h0m7 72h0m1-12h0m0 46h0m2 6h0m1-74h0m1 57h0m0-3h0m8 1h0m1 26h0m0-40h0m0 5h0m1-165h0m0-34h0m0 71h0m4 109h0m1 19h0m0-16h0m2 2h0m1 33h0m3-20h0m3-6h0m1 1h0m2-2h0m0-21h0m1 32h0m4 0h0m1-47h0m5 12h0m2-88h0m1 153h0m0-55h0m1-78h0m0 130h0m0-183h0m3 151h0m4 40h0m2-7h0m0-22h0m6-38h0m5 61h0m1-9h0m4-59h0m0 64h0m0-10h0m0 11h0m2-13h0m0 14h0m3-60h0m1 71h0m3-20h0m2 2h0m0 0h0m15-10h0m10-44h0m3 15h0m3 14h0m0-56h0m0 67h0m1 13h0m0-81h0m0 21h0m1 29h0m20-20h0m1 39h0m1 23h0m3-81h0m2 51h0m1-4h0m1 33h0m0-34h0m10-14h0m1 6h0m0 27h0m2-22h0m2 3h0m1-37h0m5 58h0m0 18h0m1-30h0m4-129h0m0 128h0m0 33h0m1-4h0m1-9h0m6-26h0m3-66h0" stroke-opacity="0.2" stroke-width="10" class="s"/>
<path d="M216 390h0m0-140h0m1 208h0m2-78h0m1 98h0m2-88h0m0 10h0m1-61h0m0 54h0m6 41h0m6-53h0m1-36h0m1 116h0m0-101h0m4 20h0m0 30h0m1 33h0m0-73h0m3 93h0m0 30h0m5-25h0m0 17h0m7-14h0m0 16h0m3-24h0m0-60h0m0 62h0m2-51h0m2 37h0m0-58h0m0 35h0m0 2h0m1-34h0m1-223h0m1 62h0m0-154h0m0-10h0m0-3h0m0 140h0m0-28h0m1-78h0m0 118h0m0 39h0m1-92h0m1 141h0m0-144h0m2 77h0m1-104h0m0-5h0m3 119h0m3 23h0m3-84h0m0 59h0m4-94h0m2 16h0m0 0h0m2-29h0m3-24h0m1 44h0m0 85h0m2-93h0m1 0h0m1-4h0m2 133h0m1-38h0m0-38h0m0-16h0m0-44h0m2-14h0m0 106h0m1-109h0m1 5h0m1 145h0m0 10h0m0 28h0m1-66h0m2 53h0m0-14h0m0-140h0m1 4h0m3-20h0m0 54h0m0 155h0m1-169h0m5 64h0m2-28h0m3 13h0m3 91h0m5 60h0m5-221h0m0 116h0m1-134h0m4 106h0m1-106h0m2 65h0m0-66h0m0-11h0m2 63h0m1 1h0m0 25h0m1-22h0m8 7h0m3-26h0m2-41h0m1 118h0m0-67h0m1 106h0m2 138h0m0-145h0m3 143h0m0 15h0m1-25h0m5 74h0m0-42h0m1 15h0m0-51h0m1 85h0m0-3h0m1-17h0m5-60h0m1 20h0m2-174h0m2 153h0m0 18h0m1 1h0m2 28h0m2-168h0m3 131h0m5 47h0m0-10h0m11 23h0m2-11h0m0-25h0m0-5h0m0-38h0m1 22h0m1-47h0m3 86h0m1-121h0m2 72h0m0 9h0m1-2h0m0 39h0m4-15h0m2 14h0m2 9h0m0-3h0m1 19h0m0-115h0m2 52h0m5 16h0m0 49h0m3-42h0m12-20h0m5-32h0m3 72h0m1-67h0m2 56h0m3-18h0m0 7h0m0-48h0m0 46h0m1-27h0m2 42h0m2-51h0m4 11h0m1-65h0m0-170h0m1-16h0m1 253h0m6-65h0m0 56h0m1 52h0m3-54h0m1 5h0m2 63h0m2-5h0m4 16h0m0 0h0m0-24h0m0-26h0m2-77h0m3 61h0m0-54h0m0 96h0m4-16h0m0 14h0m1-2h0m4-12h0m2 0h0m1 33h0m2-43h0m14 38h0m5-23h0m1-64h0m0 93h0m5-37h0m2 33h0m4-14h0m0-15h0m4-8h0m2 0h0m0 10h0m1 3h0m5 10h0m4 24h0m5-112h0m1 21h0m3 74h0m2-24h0m1 2h0m3 39h0m0-2h0m1 0h0m1 13h0m10-5h0m5 4h0m1-20h0m2-58h0m2 66h0m7 17h0m1-24h0m0 13h0m3 5h0m1-36h0m0 28h0m4-40h0m0 30h0m1-11h0m2-53h0m3-3h0m5 23h0m0 40h0m7-50h0m3 35h0m1-2h0m2 28h0m2-49h0m2 22h0m6-19h0m0 11h0m2-24h0m1 17h0m2 39h0m4-25h0m1-25h0m1 24h0m2 15h0m0-103h0m0 101h0m1-34h0m3 5h0m1-10h0m1-21h0m1-171h0m2 225h0m4-21h0m1-36h0m1 43h0m1 24h0" stroke-opacity="0.2" stroke-width="10" class="s"/>
<path d="M214 436h0m1-40h0m0-145h0m1 173h0m1-36h0m2 26h0m5 81h0m1-52h0m1 20h0m0 24h0m3-74h0m1 84h0m0-2h0m2-1h0m0-6h0m1-52h0m4-49h0m4 89h0m0-7h0m1 6h0m2-111h0m4 64h0m2 72h0m4 1h0m3-36h0m10-171h0m2-6h0m0 19h0m1-101h0m0 101h0m0-165h0m1 102h0m1-68h0m2 45h0m2-52h0m0-12h0m1-21h0m2 101h0m1 48h0m5-69h0m0 30h0m1-29h0m1 35h0m1 29h0m1-221h0m1-19h0m1 278h0m0-50h0m5-36h0m0-17h0m1 49h0m3-78h0m0-3h0m0 146h0m1-44h0m0 36h0m3-170h0m2-23h0m0 159h0m1-25h0m1-49h0m1-41h0m1-20h0m3 124h0m1 3h0m1-114h0m3 54h0m0-63h0m0 12h0m0 45h0m0-42h0m3 122h0m1 21h0m1 9h0m1 14h0m0 8h0m3-13h0m5-14h0m1 3h0m3-164h0m1 85h0m0-69h0m1 56h0m0-99h0m0-23h0m1 93h0m0 31h0m1-116h0m1 86h0m1-75h0m0 103h0m7 4h0m0-64h0m2 86h0m2-68h0m1 27h0m3 45h0m2-121h0m1-23h0m3 98h0m0-122h0m2 339h0m2-306h0m0 67h0m1 219h0m4 76h0m0-58h0m4 31h0m0-29h0m2 30h0m0 19h0m3-34h0m0 6h0m0 26h0m2 3h0m0-52h0m11-40h0m0 86h0m0-57h0m3-27h0m0 80h0m4-28h0m4 36h0m1-19h0m1-13h0m5-11h0m2-43h0m0-3h0m0 18h0m2 68h0m4-20h0m0-27h0m2 51h0m0-118h0m1 82h0m0-87h0m2 95h0m0-21h0m4-27h0m6 55h0m0 16h0m4-86h0m2-70h0m3 165h0m1-62h0m0 29h0m6-2h0m1 2h0m6 22h0m0-91h0m0 23h0m2 23h0m6 35h0m5-24h0m1 33h0m1 11h0m4-20h0m0-41h0m1-77h0m0 70h0m3-32h0m2 46h0m0 21h0m2-41h0m5 41h0m5 12h0m4-19h0m1 25h0m1-59h0m0 69h0m2-95h0m4 98h0m2-40h0m0-30h0m1 7h0m0 16h0m5-187h0m1 160h0m3-21h0m2 55h0m4 15h0m1 33h0m5-21h0m1-22h0m5 8h0m3-9h0m0 3h0m2 9h0m6-22h0m4-3h0m7-26h0m2 28h0m5 54h0m0-6h0m3-240h0m10 241h0m1-14h0m2-28h0m3 22h0m8 29h0m4-20h0m1 19h0m4-28h0m1 28h0m7-18h0m0 29h0m3-112h0m5 26h0m0 45h0m0-11h0m3-61h0m1 65h0m2 16h0m0-38h0m2-198h0m1 233h0m1-172h0m7 104h0m5 81h0m3-81h0m5 59h0m3-7h0m3-40h0m0 28h0m1 55h0m1-50h0m4-10h0m1 48h0m2-54h0m0 41h0m2 15h0m6 2h0m1-279h0m0 215h0m0 49h0m3-22h0m1-12h0m5-185h0m1 26h0" stroke-opacity="0.2" stroke-width="10" class="s"/>
<path d="M213 385h0m0-17h0m1-3h0m0 98h0m0-48h0m2-34h0m0-27h0m0 11h0m1 92h0m0-2h0m3-38h0m2 70h0m0-76h0m3 60h0m1-52h0m0-68h0m3 145h0m0-56h0m0 32h0m1 3h0m4-211h0m1 171h0m1 49h0m1-103h0m0 16h0m0 70h0m1-80h0m3 41h0m0 55h0m0-88h0m3-32h0m3 122h0m1 11h0m0-36h0m2 14h0m7-19h0m2 25h0m1-25h0m2 40h0m0-98h0m5-64h0m0-158h0m3 29h0m3-28h0m1 67h0m2 0h0m3 64h0m1-112h0m1-5h0m1 20h0m3 56h0m2 63h0m0-199h0m0 64h0m1-31h0m3 60h0m0 87h0m0-110h0m0-46h0m1 64h0m1-97h0m7 140h0m0-124h0m1 181h0m2-77h0m0 35h0m1 37h0m1-143h0m0-27h0m1 98h0m0 8h0m3-118h0m0 147h0m3 47h0m0-9h0m1 26h0m1-148h0m0 118h0m3-147h0m2 46h0m0 2h0m1-123h0m1 146h0m1 69h0m0-90h0m3 87h0m2-5h0m5 69h0m4-149h0m1-125h0m0 95h0m1-44h0m1 22h0m6-6h0m0 31h0m0-59h0m0 108h0m1-18h0m3-41h0m1-9h0m0 58h0m6-198h0m3 237h0m1-119h0m0 125h0m3-81h0m2-22h0m0-1h0m1 282h0m3 27h0m1-10h0m7-58h0m1 18h0m0 40h0m3 7h0m0-87h0m2 22h0m1-6h0m2-141h0m2 114h0m2 110h0m0-63h0m7-50h0m0 59h0m8 32h0m3-4h0m3-45h0m3-25h0m2 17h0m1 69h0m0-25h0m3-19h0m3 7h0m7 48h0m3-25h0m2-34h0m0-37h0m1-14h0m0 64h0m3-129h0m2-50h0m7 206h0m0 17h0m2-13h0m3-50h0m0 9h0m2 0h0m1-11h0m0 6h0m4 9h0m3-41h0m1 34h0m1 46h0m3-18h0m4 19h0m1-60h0m1-32h0m3-22h0m0 122h0m2-13h0m1-99h0m1 12h0m2 63h0m1-8h0m5-17h0m3 25h0m0-9h0m2 6h0m1 0h0m5 43h0m0-1h0m9-22h0m0-90h0m4 62h0m2 36h0m0-56h0m0 45h0m1 10h0m3 8h0m0-34h0m9 30h0m3-41h0m7-127h0m1 169h0m6-12h0m3 8h0m4-90h0m1 55h0m1-264h0m2 245h0m9-57h0m2 97h0m3-78h0m0 72h0m1 19h0m0 19h0m5-81h0m5-89h0m4 142h0m4 36h0m5-7h0m1 7h0m2-11h0m3-93h0m2 78h0m4-22h0m3-65h0m1 105h0m1-85h0m1 44h0m0 10h0m2-39h0m1 40h0m2 12h0m4 23h0m1-35h0m0 3h0m1-17h0m3-5h0m0 50h0m13-1h0m3-8h0m2-40h0m10-24h0m1 30h0m7 4h0m0 0h0m3-19h0m0 16h0m0 44h0m1-40h0m0 32h0m3-20h0m6-92h0m4-10h0m1 37h0m0 30h0" stroke-opacity="0.2" stroke-width="10" class="s"/>
<path d="M216 365h0m3 98h0m1-78h0m2 71h0m1-81h0m0-13h0m0 81h0m3-31h0m3-2h0m1 40h0m0-37h0m0 8h0m1-8h0m0-66h0m1 40h0m0 58h0m0 29h0m3-48h0m1 55h0m0-2h0m5-85h0m0-40h0m3 66h0m1-1h0m2 78h0m1-88h0m8 61h0m1-29h0m0 47h0m3-23h0m3-29h0m0 16h0m0-58h0m1 41h0m0 3h0m1 41h0m0-7h0m1-189h0m6-12h0m2 2h0m2-131h0m0 120h0m5-111h0m1 84h0m3 42h0m2 11h0m1 80h0m0-111h0m0-107h0m0 31h0m3 179h0m0-277h0m1 115h0m2-71h0m12 118h0m0-64h0m0 142h0m0-158h0m0 115h0m0 3h0m4-38h0m3-93h0m1 195h0m0-122h0m0 6h0m4-99h0m1-82h0m0 168h0m2 130h0m1-3h0m2-103h0m3 98h0m2-83h0m3-31h0m4-126h0m0 167h0m1-84h0m0-62h0m0-11h0m1 44h0m0-13h0m0 4h0m1-22h0m0-1h0m0 57h0m0-22h0m2 16h0m0-72h0m1 67h0m3 24h0m3 59h0m0-127h0m0 83h0m0-61h0m2 23h0m1 91h0m1-100h0m2 108h0m2-115h0m0 11h0m1-55h0m1 124h0m1-158h0m1 58h0m4 27h0m1-77h0m0 155h0m1 204h0m1-337h0m1 346h0m2 13h0m6 18h0m2-71h0m3 70h0m1-1h0m2 5h0m0-158h0m2-45h0m1 141h0m1-5h0m1 21h0m0 28h0m4-43h0m1 55h0m2-85h0m1 74h0m2-9h0m6-2h0m2 2h0m0-7h0m1-34h0m1 11h0m1 42h0m3 12h0m2-18h0m0-17h0m4 5h0m1 10h0m2 8h0m1-16h0m0-87h0m3 62h0m6-71h0m0 101h0m1-98h0m12 92h0m2 28h0m4-13h0m5-14h0m0-67h0m6 60h0m1-42h0m0-11h0m0-5h0m0 65h0m1-32h0m0-26h0m1 61h0m1-28h0m2 27h0m0-38h0m0 32h0m0 27h0m2-37h0m1 4h0m6-229h0m2-55h0m4 217h0m2 40h0m1 41h0m3-9h0m0-79h0m1 82h0m3 21h0m0-8h0m1 3h0m1-20h0m0 40h0m4-36h0m2 29h0m2-12h0m0-37h0m1-22h0m8 74h0m1-41h0m9 0h0m10 13h0m0 26h0m3-15h0m3-34h0m2 53h0m0-2h0m3-7h0m6-85h0m3 31h0m1-35h0m2 66h0m0-289h0m3 311h0m2-13h0m4-21h0m0-6h0m4-177h0m2 219h0m0-27h0m1 0h0m0 34h0m0-32h0m5 18h0m4-4h0m2 8h0m0-1h0m3 20h0m8 1h0m1-25h0m8 0h0m3-1h0m1 13h0m3-16h0m0 2h0m3 19h0m1-3h0m1-17h0m0-71h0m0 10h0m3 84h0m1-93h0m3 97h0m5-300h0m1 116h0m0-166h0m3 298h0m0 18h0m3-23h0m2 24h0m1-37h0m1 69h0m3-24h0m0 17h0m1-59h0m2 70h0m2-11h0m1-15h0m5-32h0m2 25h0m1-33h0m1 40h0m0-48h0m0 16h0m1 31h0m1-13h0m4-6h0m1-11h0m3 52h0m6-41h0m1-1h0m2-9h0m1-37h0m1 46h0m3-63h0m1-36h0m1 13h0m0 72h0m0 49h0m1-141h0m0-90h0" stroke-opacity="0.2" stroke-width="10" class="s"/>
<path d="M213 408h0m0-38h0m3 71h0m3-10h0m0 8h0m1-70h0m5 49h0m0-2h0m1-33h0m5 93h0m1-25h0m0-109h0m3 14h0m5 89h0m1 26h0m0-46h0m1 49h0m2-87h0m1 95h0m0-45h0m0 12h0m0-39h0m0-14h0m2 49h0m1 44h0m2 10h0m10-13h0m1 3h0m2-28h0m3-294h0m0 104h0m1-81h0m1-62h0m1 11h0m5 3h0m2 4h0m0 65h0m0 58h0m5-46h0m0-73h0m1 219h0m0-93h0m3-37h0m2-93h0m1 85h0m4 51h0m0-63h0m1 37h0m0-12h0m4 63h0m7-62h0m0 29h0m5 44h0m3-77h0m2-12h0m1 23h0m3 37h0m0-5h0m1 7h0m0 21h0m3 3h0m2-59h0m1 86h0m2-111h0m2 83h0m1-74h0m0-11h0m1 31h0m2-51h0m5-22h0m0 44h0m1-87h0m2 112h0m1 6h0m1-58h0m2-70h0m1-16h0m2 67h0m0-16h0m2 6h0m1-60h0m1 65h0m1-13h0m1 142h0m2-93h0m0 21h0m1 23h0m2-5h0m0-109h0m1 4h0m2 130h0m1-121h0m3-67h0m2 345h0m1-46h0m2 92h0m1-15h0m0 9h0m3-6h0m2-3h0m0-133h0m3 124h0m3-56h0m1 36h0m0 37h0m0-150h0m6 115h0m0 16h0m1-38h0m2 61h0m0-62h0m4-40h0m4 71h0m1-4h0m3 23h0m0-57h0m0 3h0m1 31h0m2-4h0m0 56h0m0-82h0m1 34h0m2 36h0m3-2h0m0-8h0m0-90h0m5 18h0m4 65h0m2-33h0m1-5h0m0 55h0m3-46h0m3-20h0m4 26h0m5 14h0m1 33h0m2-27h0m1-4h0m2 25h0m0-12h0m3-34h0m1 33h0m2-26h0m0 23h0m3-51h0m0 23h0m1 21h0m2-43h0m12 13h0m3 27h0m0 5h0m3-98h0m1 119h0m0-269h0m1 217h0m5-54h0m0-11h0m0 91h0m0-69h0m1 84h0m0-41h0m3 2h0m1-79h0m6 26h0m12 94h0m2-52h0m1 16h0m3 44h0m3-26h0m2-29h0m8 43h0m3-76h0m0 62h0m2-25h0m3 42h0m4-164h0m0 170h0m4-38h0m1-3h0m0 45h0m3 3h0m6-47h0m1 30h0m2-318h0m4 325h0m0-3h0m0-26h0m1 33h0m0-13h0m5 19h0m2-13h0m0-65h0m6 51h0m27 21h0m7 9h0m2-5h0m1-11h0m2-82h0m1 17h0m1 82h0m4-30h0m3 36h0m0-86h0m1 24h0m0-19h0m0 79h0m1-43h0m4-271h0m0 312h0m1-238h0m0-39h0m2 248h0m3-22h0m0-5h0m3 8h0m11 13h0m5-9h0m2 37h0m2-25h0m9-33h0m4 6h0m0-78h0m3-84h0m4 171h0m0-18h0m2 8h0m3-87h0m0-74h0" stroke-opacity="0.2" stroke-width="10" class="s"/>
<path d="M213 402h0m3 30h0m3 15h0m0-20h0m1 57h0m0-159h0m1 134h0m4 16h0m1 19h0m5-24h0m3-174h0m2 181h0m0-17h0m2 33h0m4-115h0m2 69h0m0 5h0m3 37h0m1 8h0m3-27h0m0-7h0m8 24h0m0 2h0m1-12h0m2-15h0m2-3h0m0 0h0m3-323h0m2 174h0m1-46h0m0-38h0m3-90h0m0 29h0m3 183h0m1-183h0m0 122h0m2-48h0m0-10h0m0 45h0m2-48h0m1 15h0m0 42h0m3-59h0m0 14h0m0 44h0m1-30h0m0-27h0m1-56h0m0 34h0m4-28h0m0 49h0m0 15h0m0 100h0m1-215h0m4 62h0m1 38h0m1 31h0m1 134h0m1-69h0m1-183h0m2 31h0m0-41h0m2 74h0m1 102h0m1-72h0m3-57h0m2 154h0m0 8h0m1-95h0m0 7h0m1-50h0m0 125h0m0-89h0m4 116h0m4-99h0m2 58h0m0-63h0m5 83h0m3-40h0m0-14h0m4-44h0m0-68h0m1 115h0m6-113h0m3-13h0m1-2h0m1 19h0m1 55h0m1-32h0m1-10h0m0-53h0m2 31h0m3 40h0m1 3h0m0 121h0m0-87h0m0-134h0m2 95h0m1-18h0m0 36h0m2-70h0m1 51h0m0-63h0m1 86h0m0-87h0m1 137h0m1-90h0m0 289h0m0-209h0m0-50h0m1-115h0m2 289h0m0-10h0m0 68h0m0 20h0m2-36h0m1 10h0m3 24h0m0-151h0m3 151h0m0 2h0m5-77h0m1-3h0m1-61h0m2 82h0m2 21h0m4-120h0m1 139h0m2-73h0m1 30h0m1 58h0m0-15h0m0-70h0m10 99h0m0-32h0m0 48h0m5-17h0m2-66h0m0 56h0m2-28h0m2-62h0m4 116h0m1-21h0m2-95h0m4 104h0m3-45h0m2 22h0m9-18h0m0-33h0m5 51h0m1 7h0m2-46h0m1 46h0m2 20h0m5-7h0m3-17h0m2-78h0m2 70h0m0-29h0m3 66h0m4-85h0m3-84h0m1 6h0m2 74h0m0 44h0m0-40h0m1 14h0m3 45h0m0-71h0m1 78h0m1 12h0m1-71h0m5 68h0m0-74h0m1 69h0m2-30h0m4-121h0m0 117h0m0 11h0m5-56h0m0-4h0m6 28h0m5 54h0m1 10h0m6-62h0m0 30h0m3 11h0m0 10h0m0 17h0m0-3h0m1-18h0m11 21h0m1-46h0m0-46h0m0 61h0m1-10h0m1 27h0m1-8h0m2-55h0m2-65h0m1 129h0m1-16h0m2 28h0m0 3h0m4-317h0m0 58h0m0-112h0m6 293h0m1 46h0m5 15h0m0 23h0m0-9h0m2-9h0m1-231h0m1 64h0m1 162h0m4 1h0m2-64h0m4 63h0m1-100h0m0-12h0m3 130h0m7 5h0m1-50h0m0 25h0m0 23h0m0-12h0m6 13h0m1-2h0m0 9h0m3-44h0m1 3h0m0-15h0m0 58h0m11-20h0m1-69h0m0 54h0m0-51h0m0 62h0m6 4h0m3 7h0m0 3h0m2-281h0m1 162h0m0 79h0m1-86h0m0-220h0m1 336h0m6-21h0m0-26h0m1 47h0m8-16h0m1 1h0m2 25h0m9-23h0m0-61h0m1 25h0m8-13h0m2-83h0m2 130h0m3 7h0m7-18h0m1-128h0m1 33h0m0 30h0m0 99h0m1-161h0" stroke-opacity="0.2" stroke-width="10" class="s"/>
<path d="M214 446h0m2-29h0m1 12h0m0-10h0m2-49h0m1 24h0m1-6h0m2 0h0m0-54h0m2 130h0m0 8h0m0-134h0m4 77h0m2-63h0m0 145h0m2-91h0m2-14h0m1-30h0m1 71h0m4 45h0m4-71h0m3 10h0m2 38h0m0 40h0m4-1h0m9-11h0m2-62h0m0 43h0m2-189h0m0 0h0m0-8h0m1-163h0m1 178h0m4 72h0m3-208h0m0 62h0m0-38h0m1 183h0m3-98h0m0-38h0m1 39h0m1-42h0m2 138h0m1-106h0m1-62h0m0 18h0m2-36h0m0 30h0m3 11h0m1-29h0m2-16h0m3 174h0m0-226h0m0 191h0m9-185h0m0 28h0m3 119h0m4-70h0m1-31h0m0 209h0m1-196h0m0-42h0m2 179h0m1-125h0m0 116h0m0 39h0m4-114h0m0 95h0m2 16h0m2-7h0m4-17h0m0-42h0m0 73h0m3-18h0m3-67h0m0-94h0m1 5h0m5 17h0m9 53h0m0-92h0m0 11h0m2 43h0m1-138h0m2-10h0m0 120h0m4-4h0m0 52h0m2 68h0m2-148h0m2 308h0m0-302h0m0 105h0m1-89h0m3 293h0m5-151h0m0 154h0m1-16h0m0-13h0m2 58h0m3-32h0m0 8h0m0-37h0m1 41h0m1-51h0m0-23h0m2-110h0m2 144h0m1-14h0m0-11h0m3 62h0m3-43h0m2 24h0m0-66h0m0 81h0m1-3h0m2 7h0m0-44h0m2 24h0m4-48h0m0 30h0m1-7h0m9-6h0m1 70h0m0-8h0m2-154h0m1 89h0m0 41h0m4-12h0m0 18h0m0-88h0m2-26h0m7 80h0m0-10h0m1 40h0m2-31h0m5-151h0m2 206h0m8 1h0m1-17h0m5-3h0m1-13h0m3 19h0m0-13h0m2-33h0m0 11h0m0 6h0m1 43h0m2-11h0m4-70h0m4-4h0m4-82h0m1 112h0m1 53h0m0-189h0m1 166h0m1-8h0m2-22h0m0-5h0m0-27h0m2-8h0m0 10h0m1 13h0m1 12h0m1 26h0m1 13h0m1-25h0m0-54h0m5 81h0m3-123h0m1 83h0m1 38h0m0 11h0m4 4h0m0-23h0m2-4h0m0 9h0m2-55h0m1 37h0m3 24h0m3 7h0m0-10h0m1-54h0m15 25h0m3 51h0m0-26h0m0-46h0m0 74h0m6-40h0m0 37h0m2-45h0m4 42h0m2 11h0m0-22h0m4-74h0m1 12h0m0-25h0m2 46h0m0 22h0m1-42h0m2 55h0m1 4h0m0-44h0m5 16h0m6 51h0m0-41h0m3 13h0m0-80h0m3 74h0m1 5h0m2-11h0m0-2h0m0 40h0m4 7h0m0-17h0m2-68h0m3 67h0m3 20h0m3-34h0m13 13h0m3-79h0m4 89h0m4-36h0m0-16h0m0-26h0m4 45h0m1-6h0m1 42h0m0-60h0m1 1h0m2-240h0m1-28h0m1 302h0m0 13h0m8-11h0m5-1h0m1-39h0m0 32h0m1-17h0m8 54h0m2-76h0m2 11h0m4 11h0m1 36h0m2 20h0m3-14h0m3-32h0m3 37h0m0-19h0m1-62h0m1 48h0m1-47h0m1 77h0m2-16h0m0 23h0m1-101h0m1-29h0m0 108h0m0-28h0m0-104h0m0-23h0m0 90h0m1-44h0" stroke-opacity="0.2" stroke-width="10" class="s"/>
<path d="M214 360h0m1-51h0m1 117h0m0 29h0m1-35h0m0-113h0m6 102h0m0-14h0m0-53h0m2 85h0m0-1h0m1 13h0m0-36h0m0 92h0m4-56h0m5-33h0m2 40h0m1 10h0m4-4h0m2-42h0m1-34h0m3 103h0m11 21h0m3-51h0m2-60h0m0 3h0m3-255h0m0-5h0m1 167h0m1-117h0m0 115h0m2-135h0m2 120h0m0-121h0m1 6h0m2 143h0m1-55h0m2 15h0m0-96h0m1 39h0m1 22h0m4-4h0m0 28h0m0-18h0m6-159h0m0 206h0m0 62h0m1-89h0m0-58h0m1 39h0m4 62h0m1-34h0m2-74h0m1 100h0m0-20h0m2-21h0m0 73h0m0-36h0m1-153h0m0 28h0m0-2h0m1 141h0m1-153h0m4 31h0m2 24h0m2 88h0m0-105h0m0 35h0m1-44h0m0 167h0m0-161h0m0 191h0m0-248h0m3 252h0m1-75h0m2-61h0m1-45h0m0 145h0m5 27h0m0-133h0m2-13h0m3 20h0m4-32h0m1 58h0m0-103h0m0 71h0m4-43h0m0 37h0m1-78h0m3 70h0m1-109h0m4 117h0m1 66h0m0-210h0m5 58h0m0 42h0m1-84h0m1 12h0m1 122h0m0-156h0m0 86h0m0 114h0m0-69h0m4-34h0m0-33h0m1 83h0m1 177h0m0 47h0m1-29h0m0 30h0m0-271h0m2 232h0m2 28h0m1-3h0m5-157h0m4 154h0m0 59h0m1-74h0m2-41h0m0 90h0m0 17h0m5-68h0m5 36h0m1-32h0m3 1h0m0 12h0m2 47h0m0-22h0m6-49h0m1 47h0m0-32h0m5 49h0m1-54h0m3 47h0m0-40h0m1-17h0m3 34h0m1-34h0m2-24h0m1 64h0m3-26h0m3 15h0m0-14h0m0 10h0m2 45h0m1-88h0m4 54h0m0 20h0m2-9h0m1 13h0m9-4h0m5-35h0m3-2h0m0-24h0m2 61h0m1-71h0m1 24h0m0 34h0m0-5h0m3-37h0m0-14h0m8 23h0m0 64h0m2-95h0m4-31h0m0 27h0m2-79h0m1 168h0m1-21h0m3-69h0m0 78h0m4-64h0m1-16h0m0 52h0m4-10h0m1 29h0m8 13h0m1-49h0m0-10h0m0 25h0m3-18h0m2 66h0m2-59h0m2 42h0m4-52h0m2 59h0m4-20h0m10-55h0m0 22h0m6-9h0m3 42h0m0 2h0m2 24h0m1-117h0m0-45h0m2 126h0m1 27h0m2-14h0m3 0h0m2-215h0m1 230h0m0-350h0m0 14h0m0 10h0m5 284h0m1 41h0m2 5h0m6-229h0m2 209h0m2 3h0m3 20h0m0-54h0m0-6h0m1 22h0m3 2h0m2 41h0m6-20h0m2 8h0m3-44h0m0 30h0m4 26h0m10 13h0m5-76h0m1 31h0m2 24h0m0 1h0m3-74h0m0-4h0m4 85h0m2-40h0m2-12h0m0 33h0m1-75h0m5 71h0m4-68h0m0 6h0m4 80h0m2-17h0m1 14h0m4-47h0m9 18h0m5-11h0m1 33h0m7-51h0m2-209h0m1 191h0m2 27h0m6-30h0m0-52h0m1 44h0m0 90h0m0 1h0" stroke-opacity="0.2" stroke-width="10" class="s"/>
<path d="M214 439h0m2 17h0m1 23h0m2-109h0m0 53h0m1-54h0m0 11h0m5 12h0m1 6h0m3 50h0m3 42h0m4-11h0m0-19h0m1-14h0m0-87h0m1 52h0m3 40h0m1 14h0m0-76h0m1 36h0m1 52h0m1-32h0m2 23h0m1-21h0m6 15h0m3 19h0m3 1h0m1-20h0m6-301h0m1-68h0m2 207h0m2-40h0m1-68h0m0-4h0m0 60h0m0-95h0m3-19h0m0 5h0m0 2h0m1 49h0m0 91h0m4-18h0m0-67h0m3 176h0m0-111h0m0-14h0m2-82h0m5-92h0m1 98h0m5-57h0m0 179h0m3 43h0m1-76h0m0-118h0m0 116h0m2-102h0m2 88h0m4-103h0m1 36h0m3 192h0m1-214h0m1 123h0m0-67h0m1-61h0m2 67h0m4 11h0m0 105h0m1-71h0m3 45h0m1-94h0m0 84h0m3-27h0m0 37h0m2 20h0m1 47h0m0-44h0m0-72h0m4-76h0m0-22h0m0 66h0m2-115h0m3-6h0m0 138h0m0-164h0m3 150h0m1-78h0m3 16h0m2-16h0m0-14h0m2 44h0m0-9h0m2-120h0m1 196h0m2-92h0m1-82h0m0 53h0m1 9h0m4 38h0m0-9h0m2 282h0m0-299h0m0 25h0m1-48h0m2 323h0m3-61h0m3-33h0m1 65h0m1 60h0m1-26h0m0 25h0m3-88h0m0 48h0m1 38h0m0-46h0m0 13h0m5 3h0m0 43h0m0-81h0m6 42h0m3 35h0m1-60h0m0 32h0m5-65h0m2 81h0m1-61h0m1 56h0m0-10h0m1-49h0m1 86h0m0-26h0m5-50h0m2 25h0m2 43h0m2-20h0m1-28h0m5-9h0m0 29h0m1-10h0m2-13h0m1 21h0m0 12h0m3-87h0m0 12h0m0-34h0m0 5h0m0 11h0m1 14h0m5 100h0m5-27h0m2 12h0m3-2h0m3-24h0m1 14h0m0-3h0m0-39h0m4-39h0m2 32h0m1 38h0m3 1h0m2-52h0m5 27h0m8 9h0m1-178h0m2 132h0m1 79h0m2-103h0m3 81h0m0-11h0m1 25h0m3-22h0m11-1h0m3-26h0m3 75h0m0-79h0m2 69h0m1 6h0m0-32h0m5-54h0m1 69h0m2 8h0m7-19h0m0 33h0m3-37h0m0 32h0m3-47h0m1 35h0m1-13h0m5-73h0m0 104h0m1-33h0m3 7h0m0-48h0m4 59h0m0-8h0m2-8h0m3 14h0m1-35h0m1-24h0m2 71h0m0-237h0m0 5h0m4 211h0m1 17h0m0-26h0m0 0h0m8-78h0m2 82h0m0 12h0m3-13h0m14 17h0m4 1h0m9 4h0m3-14h0m6 24h0m0-10h0m4-12h0m0 28h0m5-80h0m6 48h0m2-214h0m0 207h0m0-11h0m0-300h0m7 260h0m1 66h0m10-67h0m1 87h0m6-15h0m5 7h0m1-18h0m5-7h0m1-1h0m2 30h0m0-41h0m4-49h0m6 87h0m0-9h0m1 8h0m2-43h0m2-56h0m0-106h0m1 191h0m0-4h0m1-195h0m0 83h0" stroke-opacity="0.2" stroke-width="10" class="s"/>
<path d="M214 473h0m0-100h0m0 41h0m5-47h0m0 33h0m0 55h0m1-133h0m0 137h0m3-119h0m0 116h0m2-9h0m1-74h0m0-32h0m3 156h0m1-124h0m3 14h0m2-9h0m1-7h0m0 19h0m1 105h0m1-46h0m3 11h0m1 31h0m3-14h0m3-59h0m0 51h0m5-32h0m12 8h0m2-241h0m0-6h0m0 106h0m1-199h0m0 181h0m0-124h0m2 69h0m0 67h0m0-82h0m0 84h0m3-91h0m0-99h0m0 198h0m1-50h0m5-22h0m1-64h0m7 92h0m0-42h0m1 83h0m0-115h0m0 63h0m2-167h0m1-6h0m0 275h0m1-172h0m0 81h0m0-73h0m1-34h0m1 31h0m2 117h0m2 18h0m2-168h0m0 73h0m3-5h0m2-95h0m0 189h0m0 58h0m0-113h0m4-9h0m1-91h0m2 67h0m1-76h0m0 98h0m1-98h0m1 62h0m0 102h0m4-118h0m2 180h0m3-80h0m5 19h0m2-10h0m1 90h0m4-290h0m1 49h0m4 21h0m2-25h0m0 65h0m2 60h0m1-170h0m2 46h0m0 6h0m1-21h0m1 162h0m0-136h0m0-20h0m1-27h0m1 66h0m0-57h0m1 130h0m0-150h0m3 40h0m0 90h0m3-41h0m5-38h0m1 319h0m1-388h0m0 339h0m5 18h0m0 40h0m0-23h0m1 18h0m5-79h0m0 10h0m1 34h0m3-10h0m0-48h0m1 50h0m1-38h0m0 70h0m1 0h0m4 12h0m5-47h0m0 17h0m1-35h0m2-16h0m1-2h0m1 60h0m0 14h0m0-20h0m3 38h0m4-58h0m0 21h0m0-9h0m0 50h0m2-80h0m0 69h0m1-82h0m3 87h0m4-84h0m1 25h0m2-107h0m0 159h0m1-64h0m1 15h0m0-12h0m3-76h0m0 100h0m3 43h0m3-134h0m0 55h0m2 33h0m1-1h0m0 15h0m2 14h0m7-6h0m0-195h0m4 187h0m5-16h0m0 0h0m2-34h0m5-18h0m2 16h0m1 11h0m4 20h0m1 32h0m0-19h0m3-6h0m9-80h0m2-116h0m5 188h0m4-34h0m1 1h0m0 81h0m0-17h0m3-58h0m1 60h0m8 20h0m3-43h0m3-29h0m0 54h0m3-2h0m2 23h0m3-234h0m0 203h0m7-19h0m0 44h0m0-30h0m16 25h0m1-26h0m5-105h0m5 98h0m4 0h0m1-252h0m1 62h0m0 197h0m0 41h0m3 1h0m0-36h0m1 10h0m2-23h0m0 16h0m6-29h0m3-31h0m0 27h0m1 27h0m2 21h0m1 13h0m2-4h0m0-23h0m1-2h0m0 22h0m2-8h0m1-129h0m2 115h0m2 20h0m4-11h0m5 0h0m12-2h0m7-24h0m9 4h0m0-42h0m3 51h0m2-205h0m2 31h0m0 36h0m6 134h0m2-18h0m3 26h0m5-46h0m13 63h0m8-45h0m1 11h0m3-73h0m1 101h0m0-29h0m2 32h0m0-19h0m0-117h0m3 94h0m4 24h0m1 14h0m1-25h0" stroke-opacity="0.2" stroke-width="10" class="s"/>
<path d="M213 305h0m3 93h0m4-3h0m0 37h0m2 8h0m0 56h0m1-77h0m1 79h0m1-150h0m0 63h0m1-58h0m5 116h0m0-99h0m1 129h0m3-85h0m1 74h0m0-127h0m1 11h0m4 55h0m1-13h0m2 26h0m8 13h0m4 10h0m12-246h0m1-113h0m1 43h0m1 26h0m3 74h0m0-23h0m2 91h0m0-102h0m0 78h0m1-156h0m4 78h0m3 134h0m0-150h0m2 19h0m1 101h0m5-155h0m1 115h0m0-158h0m1-36h0m3 147h0m1 39h0m3-94h0m3 116h0m2 24h0m3-139h0m1 122h0m2-173h0m1 135h0m0 23h0m0-94h0m5 187h0m0-228h0m0 88h0m1 98h0m1-267h0m5 256h0m2-76h0m0 1h0m0 39h0m2-16h0m1 26h0m3 135h0m0-141h0m3-74h0m1 62h0m5-113h0m2 3h0m6-66h0m3 140h0m1-41h0m0-68h0m1-84h0m1 194h0m1-98h0m0 116h0m1-25h0m0-20h0m1-92h0m0 177h0m0-220h0m4 208h0m1-125h0m1 8h0m0 124h0m4 112h0m2 42h0m0 21h0m1-18h0m4-86h0m1 81h0m1-30h0m3-20h0m1 50h0m1-15h0m6 19h0m0 9h0m1-80h0m3-56h0m0 133h0m0-38h0m0-100h0m1 119h0m2-32h0m1-17h0m0 46h0m4 55h0m0-117h0m0 77h0m0 40h0m1-46h0m3 7h0m6-57h0m1 24h0m2-23h0m9 16h0m3 73h0m3-58h0m12-101h0m3 132h0m9-18h0m3-49h0m0 18h0m2 8h0m4 4h0m0 25h0m1-9h0m1-10h0m0 47h0m3-51h0m1 36h0m9-131h0m0-16h0m1-97h0m0 20h0m0 185h0m2-25h0m1 84h0m0-79h0m2 15h0m1 11h0m7-1h0m1 29h0m2 16h0m4-22h0m2-33h0m3 17h0m0 17h0m1 4h0m6-35h0m3 9h0m5 52h0m0-12h0m0-12h0m1-13h0m2 40h0m4-23h0m1 23h0m2-39h0m6 10h0m0 20h0m2-194h0m2 111h0m1 88h0m5-171h0m4 136h0m0 2h0m0-5h0m4 19h0m1-27h0m1 58h0m1-59h0m5 29h0m4-37h0m4-8h0m1 64h0m1-99h0m1 104h0m1-8h0m4-25h0m1 19h0m5 28h0m11-33h0m3 13h0m3 16h0m3-27h0m1 21h0m3-4h0m0 4h0m6-38h0m0-52h0m0 28h0m3-23h0m0 26h0m3 28h0m0-73h0m3 44h0m0-21h0m5 51h0m1 34h0m0-10h0m0-340h0m6 293h0m1-3h0m2 10h0m2 47h0m5-39h0m1-31h0m0 7h0m1 48h0m2 0h0m1-30h0m3-5h0m0 19h0m1 28h0m0-41h0m1 37h0m1-56h0m1 40h0m1-23h0m0-27h0m4 19h0m1 20h0m2 31h0m1 1h0m2 6h0m0-11h0m3 10h0m1-48h0m0-201h0m4 186h0m0 36h0m1-3h0m3 2h0m1-27h0m0 16h0m0 22h0m1-116h0m1-118h0" stroke-opacity="0.2" stroke-width="10" class="s"/>
<path d="M213 364h0m0 34h0m0 7h0m0-45h0m0 41h0m1 26h0m0 30h0m2-177h0m1 189h0m2 2h0m0-67h0m3 44h0m1-46h0m0 72h0m2 6h0m0 21h0m4-55h0m0 34h0m0-38h0m0-30h0m1 16h0m0 74h0m0-24h0m1-39h0m1-43h0m0 84h0m1-127h0m5 5h0m3 51h0m3 11h0m4 24h0m2-35h0m3 57h0m3-21h0m3 33h0m0-27h0m1 19h0m2-45h0m2-32h0m3-147h0m0-151h0m1-16h0m1 156h0m0 52h0m1 66h0m3-232h0m0 69h0m4 4h0m2 16h0m2-31h0m0 88h0m1-10h0m2 13h0m0-70h0m1 165h0m2-7h0m3-312h0m1 109h0m0-67h0m0 118h0m1-128h0m0 88h0m1 105h0m5-50h0m1 131h0m1-172h0m1 106h0m2-32h0m1-75h0m2 34h0m0 56h0m0-91h0m0-52h0m0 177h0m1-22h0m5-121h0m0 27h0m0 185h0m0-7h0m1-32h0m0-207h0m1 156h0m1-5h0m0-58h0m0 77h0m3-7h0m0-159h0m0 184h0m3-97h0m0 19h0m3 0h0m0 37h0m1 58h0m1-56h0m3-43h0m3 84h0m0 11h0m0-118h0m6-89h0m1-28h0m0 161h0m4-3h0m2-28h0m0 71h0m0-110h0m0-8h0m1 65h0m0-47h0m2 10h0m1 12h0m1-60h0m0 40h0m0-2h0m4 66h0m0-20h0m2-11h0m1-105h0m0 56h0m1 14h0m1 81h0m7 199h0m0-17h0m0-217h0m1 24h0m2 170h0m8 23h0m0-41h0m1-18h0m0 43h0m3 59h0m2-32h0m5-51h0m0 38h0m1-36h0m0 57h0m1-23h0m4-8h0m0 24h0m5-88h0m2 55h0m1 16h0m4 38h0m1-18h0m4-44h0m1-15h0m1 60h0m1-13h0m0-37h0m0 2h0m1-3h0m3 43h0m2-100h0m5 70h0m1 35h0m0 4h0m2 6h0m1 3h0m1-1h0m1-23h0m1-15h0m2-20h0m1-55h0m3 84h0m1-171h0m1-2h0m1 194h0m3 4h0m3-14h0m4-5h0m2-55h0m3 40h0m3 0h0m3 25h0m2 0h0m1-63h0m2 58h0m4-28h0m1 27h0m0 21h0m1-44h0m1 34h0m0-58h0m0 32h0m0-18h0m4 34h0m0-308h0m0 281h0m0 3h0m1-114h0m1 61h0m4 79h0m0-34h0m4-26h0m1-21h0m0 39h0m0 19h0m0 7h0m2-36h0m2 68h0m1-4h0m3-137h0m1 113h0m1 13h0m11 13h0m5-67h0m4 62h0m9 11h0m0-44h0m1 30h0m2-7h0m2 7h0m9 15h0m4-46h0m0-79h0m4 73h0m2 26h0m0 11h0m0-74h0m1-211h0m1 23h0m0-105h0m1 66h0m4 306h0m11-109h0m0 1h0m7 97h0m0-11h0m2 21h0m0-4h0m0-53h0m13 50h0m2-22h0m0 14h0m5 20h0m0-15h0m6 5h0m4 12h0m1-8h0m2 5h0m1-6h0m1-39h0m0 28h0m0-46h0m4 42h0m4-17h0m0 58h0m1-13h0m1-52h0m2 53h0m0-306h0m1 190h0m10 127h0m2-19h0m0-29h0m0 12h0m1 16h0m2 12h0m2-29h0m3 26h0m5-5h0m0-38h0m2 41h0m2-45h0m7 16h0m0 19h0m3 12h0m2-171h0m0 41h0m1-32h0m1 130h0m2-61h0m6 93h0m0-44h0m1 33h0m1-37h0m0-71h0m0 79h0m0-61h0m1-69h0m0 154h0m0-27h0m0-202h0m1 249h0" stroke-opacity="0.2" stroke-width="10" class="s"/>
<path d="M213 466h0m0-193h0m1 177h0m2-5h0m0-113h0m0 53h0m3-10h0m0-5h0m1-92h0m4 202h0m2 12h0m3 2h0m2-153h0m0 153h0m0-60h0m5-69h0m0-55h0m0-32h0m1 84h0m1 99h0m3-94h0m0 56h0m0 51h0m1-95h0m3 114h0m4-4h0m0 0h0m1-11h0m0 1h0m4 19h0m9-61h0m0 46h0m4-284h0m0 19h0m1 52h0m1-130h0m1 132h0m0-62h0m6-1h0m0 9h0m1-78h0m0 133h0m2-53h0m1 13h0m0-59h0m1 141h0m7-170h0m2-91h0m0 193h0m1-127h0m1 25h0m1 154h0m3-108h0m2-84h0m0 141h0m2 116h0m3-124h0m1-89h0m5 71h0m0 76h0m3-160h0m1 190h0m0-173h0m0 128h0m1-116h0m0 69h0m1 10h0m6 46h0m0 45h0m2-91h0m1 62h0m1 37h0m0-32h0m0 4h0m1-55h0m3 64h0m1-38h0m3 76h0m3-215h0m0-20h0m1 14h0m2 83h0m0-91h0m1-31h0m11 25h0m0 14h0m1 83h0m1-71h0m1 110h0m2-120h0m0 88h0m1-43h0m1-88h0m0 85h0m1-57h0m4 8h0m1-13h0m0 153h0m2-46h0m1-90h0m1 238h0m9 85h0m1-84h0m0 2h0m1 54h0m2 16h0m1-8h0m1 17h0m2-170h0m2 197h0m1-41h0m0-14h0m2 14h0m2-122h0m1 106h0m5 60h0m1-17h0m0-18h0m2-3h0m4-30h0m3-24h0m2 13h0m1 2h0m0-8h0m0 62h0m0-7h0m1-44h0m3 38h0m3-20h0m5 40h0m0-64h0m0-42h0m3 63h0m2 54h0m1-3h0m4-77h0m0 84h0m2-15h0m4-13h0m8 13h0m1-20h0m2-31h0m2-5h0m0-22h0m5 46h0m2 7h0m0-64h0m5 38h0m7-16h0m0 25h0m2-35h0m1 48h0m5-251h0m1 261h0m0-73h0m1 79h0m0-47h0m4 2h0m0 53h0m1-64h0m3-40h0m3 74h0m0-9h0m3 52h0m0-36h0m4-19h0m1 51h0m1-35h0m1-9h0m1 48h0m0-25h0m1-39h0m0 55h0m2-32h0m1-24h0m1-4h0m17 35h0m6-36h0m0 69h0m1-1h0m0-27h0m6 3h0m0 11h0m1-28h0m2 10h0m1 8h0m0 29h0m7-52h0m3-6h0m1-165h0m0 159h0m0 37h0m0-18h0m2-260h0m1 313h0m2-45h0m1-1h0m1 32h0m0-32h0m8 32h0m4-5h0m1 1h0m3-80h0m3 57h0m1-20h0m5 45h0m0-6h0m6 5h0m0-57h0m2 72h0m5-13h0m1 3h0m1-58h0m12 6h0m1 23h0m2-70h0m0 95h0m0 8h0m0-102h0m3 98h0m1 14h0m3-7h0m4-50h0m0-6h0m0-118h0m3 132h0m0 19h0m0 15h0m0-11h0m5-8h0m6-7h0m4-7h0m0 11h0m1 34h0m1-39h0m2 29h0m7-82h0m0 4h0m5 76h0m0 12h0m6-97h0m3 58h0m2-109h0m1 66h0m1 24h0m1 16h0m2 17h0m0-46h0m4 18h0m0-110h0m0 31h0m0 14h0m1-173h0m1 138h0m0 16h0" stroke-opacity="0.2" stroke-width="10" class="s"/>
<path d="M214 456h0m2 10h0m0-208h0m1 125h0m0-130h0m2 170h0m1-51h0m2 45h0m2 12h0m1 27h0m0-22h0m0 30h0m1-105h0m0 137h0m0-16h0m3 19h0m2-134h0m1 115h0m3-185h0m0 129h0m0 37h0m1-208h0m0 102h0m1 25h0m0-22h0m0 27h0m5 65h0m0-56h0m3 96h0m0-10h0m0-46h0m2 17h0m3 27h0m2-20h0m12-19h0m0 52h0m1-48h0m0-8h0m2-234h0m0-85h0m3-5h0m3 47h0m1 100h0m2-32h0m0-57h0m1 87h0m3-79h0m0 58h0m1-53h0m1-22h0m3-1h0m1 35h0m0 36h0m4 79h0m1-158h0m0-72h0m1 149h0m1-92h0m0 61h0m1 75h0m0 15h0m0-59h0m2-63h0m0 173h0m1-11h0m1-12h0m6-146h0m1-43h0m4 61h0m0-54h0m0 123h0m1-57h0m2 90h0m1 28h0m1-79h0m0 58h0m5-74h0m0-31h0m3 119h0m2 48h0m0-74h0m6 124h0m0-176h0m2 189h0m7-264h0m0-40h0m2-1h0m1-27h0m3 76h0m1 15h0m0-2h0m4 66h0m1-45h0m0 38h0m0-83h0m2 68h0m0-106h0m1 50h0m2 54h0m3-37h0m1-34h0m0-56h0m3 21h0m1-13h0m1 341h0m2-326h0m2 262h0m6-20h0m1 6h0m1 121h0m0-92h0m1 20h0m0 6h0m2 79h0m7-77h0m4 59h0m6-72h0m0-19h0m1 98h0m0-20h0m7 29h0m2-98h0m1 86h0m1-17h0m2 3h0m6-57h0m0 10h0m0 43h0m2-33h0m1 46h0m0-8h0m2 4h0m0-105h0m0-23h0m1 51h0m7 75h0m2-73h0m3 29h0m3 38h0m1 16h0m0-178h0m2 89h0m0-61h0m3 128h0m1 15h0m3-74h0m4 3h0m5 32h0m2-38h0m0-9h0m1 71h0m3-11h0m1 30h0m0-73h0m1 52h0m0 6h0m3-52h0m0 25h0m6 40h0m4 6h0m0-321h0m0 135h0m0 50h0m2 113h0m0 4h0m1-47h0m0-30h0m0 91h0m2-42h0m2-11h0m0 38h0m1-77h0m2 34h0m5 38h0m6-133h0m1 155h0m0-14h0m1-46h0m0-7h0m0 50h0m2-84h0m1 27h0m2 33h0m1 6h0m0 8h0m3 5h0m6-26h0m6 22h0m0 13h0m1-1h0m2-77h0m1 65h0m3 17h0m2-78h0m2 70h0m1-2h0m0-61h0m3 46h0m4 43h0m3-129h0m8 133h0m1-57h0m1-293h0m0 34h0m10 264h0m1 13h0m0 15h0m0 21h0m2-244h0m7 154h0m2 60h0m1 34h0m6 1h0m0-15h0m2 6h0m8-6h0m19-37h0m2 42h0m4-59h0m3 12h0m2-24h0m3 27h0m0-230h0m0-40h0m2 39h0m2 289h0m0-62h0m3 2h0m3-40h0m1 83h0m10-39h0m7 30h0m0-49h0m11 21h0m1 10h0m0-12h0m1-70h0m2 10h0m0 76h0m1-37h0m2 23h0m7 36h0m1-124h0m0 122h0m0-122h0m1-42h0m1 51h0" stroke-opacity="0.2" stroke-width="10" class="s"/>
<path d="M213 357h0m2 100h0m1-170h0m0 100h0m1 19h0m3 57h0m0-23h0m3-63h0m0-16h0m1 99h0m1-59h0m0 99h0m3-54h0m2 8h0m2-71h0m0 107h0m0-14h0m1-27h0m2-14h0m1-92h0m1 81h0m0 37h0m5-28h0m2 29h0m0-48h0m3 79h0m1-55h0m4 61h0m1-24h0m1-25h0m1 17h0m2-14h0m0 49h0m4-25h0m2-15h0m2-6h0m1-200h0m0-160h0m1 46h0m0 1h0m0 118h0m2-127h0m0 23h0m2 104h0m2-97h0m1 64h0m2-113h0m1 125h0m2-85h0m1 12h0m0 71h0m4 45h0m1-21h0m1-111h0m1 37h0m0 92h0m0-27h0m1 55h0m3-185h0m1 82h0m0-106h0m1 199h0m0-78h0m4-30h0m1 14h0m5-46h0m1 171h0m1-182h0m0 161h0m0-165h0m1 142h0m0 0h0m3-27h0m0-55h0m0 65h0m0 43h0m3-111h0m1 93h0m1-74h0m0-30h0m0 146h0m4-120h0m0-65h0m1 30h0m2 97h0m3 65h0m13-88h0m4-48h0m1-21h0m0-3h0m0 26h0m1 3h0m1-52h0m1 111h0m1-142h0m0 49h0m1 46h0m1-76h0m3 113h0m3-194h0m3 179h0m2 5h0m4-45h0m0-111h0m2 382h0m1-184h0m0-154h0m0 21h0m3 283h0m0-46h0m2-1h0m0 48h0m0-7h0m4 36h0m1-146h0m0 141h0m1-66h0m1 94h0m3-93h0m2 60h0m1-24h0m4 22h0m13 27h0m0-40h0m4 36h0m3-35h0m6-20h0m1 3h0m0 6h0m1-4h0m1 2h0m0 35h0m3-15h0m3-81h0m8 102h0m0-34h0m3 32h0m4-20h0m1-71h0m2-52h0m7 150h0m2-24h0m1-31h0m1 53h0m1-8h0m3-15h0m0-18h0m1-18h0m2 59h0m0-70h0m6 53h0m3-53h0m0 67h0m3-80h0m0 87h0m2-40h0m4-6h0m1 22h0m1-126h0m0 120h0m0-217h0m1 163h0m3 31h0m2-23h0m1-13h0m1 85h0m2-107h0m1 25h0m2 18h0m2 61h0m5-58h0m2 26h0m2-30h0m1 22h0m2-49h0m1 47h0m2 13h0m0 28h0m1-99h0m3-99h0m1 147h0m1 3h0m1 48h0m10-8h0m0 23h0m2-42h0m3 19h0m5-14h0m1-120h0m3 123h0m0 25h0m0-48h0m2 16h0m3-94h0m7 62h0m0 69h0m1-317h0m5 280h0m2 31h0m1-86h0m3 88h0m4-18h0m0-5h0m6 22h0m2 15h0m3-2h0m1-41h0m2 11h0m2 23h0m7 5h0m4-7h0m1-7h0m1-4h0m5 26h0m8-6h0m2-88h0m0 83h0m0-10h0m1-1h0m6-35h0m4 49h0m3-25h0m1-12h0m0-139h0m1-57h0m1 159h0m1 80h0m2-47h0m0 42h0m4-19h0m6 17h0m1-37h0m2-29h0m1 72h0m1-41h0m4-44h0m1 59h0m3-37h0m1 19h0m3-15h0m1 24h0m1 11h0m2-96h0m7 114h0m1-86h0m1-183h0m0 232h0m7 32h0m1-154h0m1 44h0m0 100h0m1-209h0m0 55h0" stroke-opacity="0.2" stroke-width="10" class="s"/>
<path d="M213 332h0m4 108h0m5-89h0m1 26h0m1 33h0m1 31h0m0 13h0m0-104h0m0 47h0m0 14h0m1-8h0m0 65h0m3-19h0m1-4h0m0-32h0m1-6h0m4 85h0m1-140h0m5 80h0m3-20h0m1 27h0m0-23h0m5 70h0m1 12h0m1-16h0m12-20h0m0-13h0m5-287h0m1 27h0m10-17h0m6 28h0m1-19h0m0 124h0m1-114h0m0 12h0m3-22h0m0 56h0m2 58h0m1-183h0m4 233h0m2-7h0m3-202h0m1 184h0m0-28h0m1-109h0m4 127h0m3-113h0m0 107h0m1-67h0m1-54h0m1 12h0m0-6h0m0 123h0m3-43h0m0-96h0m1 130h0m0-14h0m7-15h0m1-7h0m0 55h0m2-25h0m3-71h0m0 11h0m0-3h0m0 43h0m6-163h0m1 52h0m2-1h0m1-21h0m3 74h0m3 30h0m2-67h0m3-33h0m0 66h0m3-73h0m2 37h0m2-20h0m3 3h0m0 126h0m0-20h0m1-110h0m1 325h0m0-211h0m1 25h0m2 72h0m0 116h0m1-111h0m0 44h0m0 55h0m3-12h0m5 13h0m1-14h0m2 21h0m3-15h0m4-18h0m2-1h0m6 42h0m6-54h0m1-5h0m4 60h0m2-86h0m3-24h0m1 99h0m2-56h0m0 21h0m1-17h0m1 25h0m3 36h0m3-141h0m1 108h0m2-2h0m4 39h0m0-12h0m2-34h0m1-8h0m12 52h0m8-45h0m0 21h0m4-67h0m3 36h0m0-6h0m5-32h0m0 27h0m5-32h0m2 94h0m0 2h0m0-79h0m2-24h0m1 29h0m4-232h0m2 266h0m3-11h0m0 16h0m1-57h0m1-24h0m0 74h0m2 33h0m0-42h0m4-8h0m1 7h0m2-28h0m0 13h0m1 34h0m4-12h0m0-60h0m1 101h0m3-2h0m3-14h0m0-20h0m0-35h0m0-32h0m1 102h0m1-55h0m5 59h0m0-48h0m2 35h0m3-91h0m1 76h0m0 29h0m2-38h0m2-1h0m0 1h0m3 13h0m4-5h0m1-8h0m1 37h0m2-22h0m3 0h0m3 0h0m0 24h0m0-43h0m4-77h0m1-58h0m1 100h0m0-8h0m6 42h0m0 43h0m1-68h0m0 58h0m1-312h0m1 250h0m1 12h0m3-31h0m1 54h0m4 16h0m4 26h0m1-8h0m2-48h0m6-46h0m7 82h0m5 2h0m4-1h0m1 23h0m4-23h0m4 2h0m4-41h0m1 44h0m3-32h0m4-59h0m4 48h0m1-15h0m0 46h0m2-30h0m2 18h0m0 26h0m3 13h0m1-48h0m3 56h0m2-11h0m0-19h0m0-18h0m4-22h0m9 30h0m2-6h0m0 10h0m7 2h0m3-9h0m5-18h0m0 46h0m3-98h0m5 106h0m1-84h0m1 24h0m3-22h0m1-1h0m0-3h0m2 40h0m0-21h0m0 53h0m0-52h0m1 46h0m1-29h0m0-119h0" stroke-opacity="0.2" stroke-width="10" class="s"/>
<path d="M215 253h0m1 207h0m1-169h0m3 157h0m3-56h0m0-51h0m0 98h0m2 26h0m1 36h0m3-100h0m3 59h0m0-4h0m4-27h0m0 43h0m1-105h0m1 50h0m0-46h0m0 50h0m2-28h0m0 28h0m2 12h0m6 53h0m0-34h0m6 20h0m3 22h0m3 2h0m0-21h0m2-93h0m2 15h0m2-172h0m1-64h0m1 105h0m2-85h0m1 97h0m1-31h0m1-95h0m3 87h0m1-111h0m2 133h0m2-75h0m0-14h0m0 13h0m1 35h0m0-18h0m3-16h0m3-13h0m3-15h0m2 121h0m1-171h0m0 173h0m0-86h0m2 136h0m0-86h0m1 75h0m0 16h0m0-51h0m3 18h0m0-16h0m0-29h0m0 102h0m1 29h0m0-234h0m3-25h0m1 81h0m0 13h0m1 66h0m4 74h0m3-39h0m1-162h0m0 82h0m1 100h0m0-179h0m4 121h0m2-52h0m3 15h0m1 72h0m2-52h0m0 76h0m1-4h0m2-124h0m1-8h0m1 96h0m1-78h0m0 10h0m5-97h0m1 54h0m0 47h0m2 7h0m1-40h0m3-54h0m1 137h0m0-153h0m3 18h0m0-12h0m2-31h0m3 156h0m0-132h0m3 27h0m0 93h0m2 0h0m0-12h0m0 67h0m0-135h0m1-33h0m2 111h0m0-86h0m1-40h0m2 352h0m2-257h0m1 236h0m4 17h0m3-21h0m1 32h0m1-55h0m4-24h0m0 7h0m1 31h0m2-29h0m0 32h0m6-1h0m4 10h0m2 33h0m1-34h0m5 13h0m0-16h0m4-50h0m2 48h0m4-1h0m2-12h0m0 3h0m1 11h0m5-31h0m3-55h0m10 65h0m3-3h0m3 38h0m0-158h0m0 148h0m8 21h0m3-49h0m0 31h0m1-16h0m1-26h0m1 0h0m3 60h0m3-104h0m4 70h0m3-31h0m1-29h0m6-5h0m4-179h0m1 227h0m0 31h0m3-48h0m0 56h0m4-80h0m2 24h0m2-8h0m1 21h0m1 22h0m4 19h0m0-47h0m6 47h0m0-12h0m0-8h0m5-31h0m1 65h0m8-58h0m1 53h0m0-44h0m2 23h0m1-38h0m0 43h0m2-18h0m8 47h0m2-30h0m0-2h0m0-16h0m6-2h0m0 22h0m0-71h0m1 25h0m0-117h0m2 135h0m0-3h0m2 3h0m2-117h0m1 25h0m1 101h0m0-57h0m2 73h0m4 7h0m0-65h0m0 13h0m1-188h0m1-112h0m1 171h0m5 194h0m4-100h0m1 66h0m6-17h0m0-32h0m4 62h0m2-8h0m2 3h0m0 2h0m0-7h0m3 8h0m0 10h0m3 26h0m2-15h0m0 5h0m1-68h0m6 3h0m3 57h0m13-2h0m2-66h0m6 37h0m1 8h0m1 10h0m1 3h0m0-61h0m1 52h0m4-295h0m1 50h0m2 289h0m0-47h0m1 15h0m3 12h0m0-26h0m1 28h0m2 2h0m1-31h0m2 19h0m3 17h0m1-21h0m0 21h0m1-50h0m0 1h0m4 47h0m6-27h0m1 33h0m0-13h0m1-10h0m5-10h0m2-22h0m0 24h0m4-115h0m2 77h0m0 20h0m0-90h0m2 85h0m0-23h0m4 10h0m0-12h0m4 21h0m0 17h0m1 29h0m1-229h0m0 135h0m0 36h0m0 64h0" stroke-opacity="0.2" stroke-width="10" class="s"/>
<path d="M213 383h0m0-4h0m0 22h0m1 20h0m2-2h0m0-52h0m1-44h0m2 102h0m1-44h0m3 81h0m0-99h0m0 79h0m3 34h0m0 23h0m3-14h0m2-90h0m1-39h0m1 39h0m3 21h0m0-29h0m2-33h0m2 47h0m1-35h0m1 130h0m2-109h0m1 53h0m4 54h0m1 1h0m4-30h0m3 29h0m4-15h0m1-38h0m2-16h0m0-47h0m3-215h0m1 106h0m1-131h0m1 130h0m2 14h0m1-138h0m0 73h0m3 32h0m3-39h0m6 95h0m2-69h0m1 3h0m0 41h0m0 17h0m2-52h0m1-33h0m0 30h0m0-128h0m0 78h0m1-122h0m0 215h0m2-138h0m3 196h0m3-141h0m3 16h0m0-54h0m1 48h0m0 62h0m2 30h0m3 13h0m1-43h0m0-111h0m2 60h0m0 11h0m1 27h0m1-121h0m1 54h0m0-60h0m2 186h0m1 51h0m1-193h0m2 80h0m1 93h0m1-12h0m3-18h0m0 17h0m1-89h0m0 30h0m3-53h0m2 203h0m5-292h0m1-13h0m0 16h0m1-7h0m2 2h0m3 92h0m2 45h0m3-12h0m2-8h0m3 1h0m0-96h0m3-16h0m3-35h0m0 140h0m5 190h0m1-325h0m3 282h0m0 60h0m0 24h0m0-6h0m6-20h0m5-6h0m1-13h0m1-53h0m1 31h0m1 61h0m3-9h0m1 19h0m0-11h0m0-37h0m1 5h0m0 33h0m1-94h0m1 57h0m0 16h0m0-22h0m0 6h0m7 33h0m1 20h0m3-117h0m2 46h0m1 11h0m0 10h0m2 17h0m4-3h0m0-42h0m1-4h0m3 74h0m1-31h0m0-59h0m1 40h0m8 40h0m1 6h0m0 2h0m2 13h0m4-8h0m0-12h0m3 3h0m0-36h0m1 15h0m4-143h0m0 5h0m5 173h0m2-11h0m1-2h0m2-47h0m1 51h0m1-31h0m1-12h0m0 37h0m2-4h0m1-73h0m9 73h0m2-58h0m11 6h0m0-184h0m5 137h0m1 101h0m0-32h0m1-42h0m3 4h0m3 79h0m1-16h0m1-3h0m5 0h0m3-44h0m1 62h0m1-11h0m0 8h0m0-97h0m1 13h0m5 32h0m3 65h0m0-20h0m1-30h0m2-9h0m0-1h0m1 5h0m6 4h0m3 47h0m5 1h0m1-46h0m6-34h0m0 19h0m5 38h0m11-66h0m1-269h0m1 250h0m0 58h0m4 54h0m1-27h0m4-4h0m1 23h0m2-17h0m0-192h0m0 24h0m1 184h0m9 12h0m5-154h0m6 155h0m0 3h0m0-19h0m1-3h0m3 16h0m6 5h0m1-24h0m3 7h0m8 9h0m2 11h0m2-42h0m4 16h0m4-3h0m5-12h0m2 9h0m1 10h0m3 16h0m3-52h0m1 20h0m7-57h0m1 67h0m3 14h0m4-31h0m3 26h0m0 6h0m0-27h0m5-25h0m1 2h0m1 1h0m1-53h0m0 98h0m3-105h0m3-2h0m0-4h0m0 66h0m2 32h0m0-274h0m0 253h0m8-32h0m1-62h0m0-1h0m1-144h0m0 27h0" stroke-opacity="0.2" stroke-width="10" class="s"/>
<path d="M213 429h0m3-40h0m1 81h0m0-54h0m6 8h0m0 74h0m1-64h0m1-53h0m1 73h0m5-77h0m0-29h0m0 123h0m1-29h0m0-45h0m0 5h0m0-15h0m3-22h0m1 9h0m0 22h0m0-39h0m2 41h0m0 63h0m2 20h0m1-9h0m1-40h0m6 63h0m0-60h0m11 57h0m3-10h0m1-27h0m0-42h0m2 40h0m1-314h0m4 91h0m0-105h0m0 145h0m0-47h0m2-67h0m3 104h0m1-107h0m0 8h0m1-9h0m0 116h0m3-43h0m11 48h0m0-114h0m0 185h0m1-56h0m0-20h0m1-110h0m0 17h0m1 126h0m3-185h0m4 182h0m0-63h0m0-110h0m2 171h0m0 12h0m1-171h0m2 39h0m3 42h0m0 39h0m1-115h0m0 117h0m2-17h0m1 68h0m0-89h0m1 141h0m1-196h0m2 127h0m1 20h0m0-87h0m1-82h0m0 136h0m3 7h0m2 12h0m0 37h0m6-85h0m0 16h0m6-47h0m1-18h0m2-10h0m4-4h0m2-76h0m1 165h0m3-31h0m2-41h0m2 29h0m0-101h0m1-21h0m2 102h0m0-89h0m1 117h0m0 7h0m0-9h0m3-73h0m4-64h0m1 289h0m0-25h0m1-158h0m4 245h0m1 24h0m4 9h0m2-151h0m0 126h0m2-3h0m2-6h0m1-64h0m1 98h0m0-33h0m0-60h0m5 18h0m6 48h0m0-17h0m3-13h0m0 49h0m4-17h0m1-103h0m3 133h0m2-32h0m12 24h0m3-59h0m0 19h0m0-62h0m1 69h0m2 15h0m0 17h0m1-98h0m12 88h0m6 5h0m1-2h0m0-16h0m2 11h0m0-3h0m4 8h0m5-30h0m1 29h0m2-18h0m6 2h0m0 24h0m3-84h0m3-17h0m3 51h0m3-177h0m0 24h0m1-52h0m1 89h0m4 70h0m0 25h0m1 5h0m0-17h0m1 35h0m4-5h0m5 29h0m5-23h0m8 37h0m2-29h0m0 16h0m0-73h0m5-110h0m1 132h0m3 27h0m1-1h0m3 39h0m8-3h0m2-9h0m0 24h0m5-32h0m0-41h0m5 62h0m5-31h0m6-177h0m0 183h0m5-3h0m0 30h0m1-22h0m1 3h0m0 23h0m1 13h0m9-105h0m1 11h0m0 65h0m2 22h0m3-88h0m0 50h0m1-8h0m5 39h0m1-13h0m2 5h0m21 30h0m3-52h0m1-57h0m2 49h0m3-41h0m3 39h0m3 4h0m3 46h0m0-15h0m0-24h0m2-107h0m4 106h0m2 32h0m4-51h0m4 43h0m4-61h0m1 45h0m0 13h0m2-30h0m0 14h0m4 29h0m1-18h0m4 1h0m4-24h0m2 3h0m7-125h0m1 170h0m1-271h0m0 261h0m1-15h0m0 26h0m2-79h0m4 72h0m0-51h0m1-79h0" stroke-opacity="0.2" stroke-width="10" class="s"/>
<path d="M213 388h0m0-30h0m0 118h0m0-52h0m1-107h0m10 56h0m1 41h0m7-4h0m0 82h0m3-92h0m2-47h0m0 38h0m1-38h0m0 114h0m0-23h0m3 22h0m1-2h0m0 6h0m2 1h0m0-76h0m3 49h0m3-39h0m0 47h0m1-18h0m1 70h0m1-52h0m3 19h0m11-384h0m0 108h0m0 85h0m3-112h0m1 104h0m8-71h0m2 55h0m3 9h0m1-7h0m1-12h0m2-22h0m0-31h0m2 34h0m1-104h0m2-12h0m7 33h0m1 122h0m2-101h0m1 161h0m5-127h0m0-15h0m3 81h0m2-101h0m1 119h0m0-109h0m4 98h0m2-33h0m0-21h0m1 15h0m2 31h0m0 42h0m7-35h0m1-48h0m4-90h0m0-28h0m1 75h0m1-89h0m0 40h0m1 110h0m2-44h0m0 57h0m1-158h0m1 89h0m5 39h0m0-89h0m1 37h0m1 56h0m0-15h0m3 32h0m0-138h0m1-3h0m0 42h0m0 88h0m3-2h0m2 46h0m1-70h0m0 46h0m5-128h0m1 145h0m0 24h0m1-74h0m0-143h0m1 367h0m1-43h0m3 41h0m5 46h0m7-27h0m4-16h0m2 28h0m3 0h0m4-56h0m11 43h0m0-15h0m0 2h0m6-63h0m1 65h0m3 37h0m1-44h0m4-62h0m0 88h0m0-96h0m0-6h0m0 67h0m9-43h0m0 4h0m2 64h0m7-3h0m1 4h0m0-16h0m2 30h0m5 8h0m4-14h0m5-14h0m1 3h0m3-11h0m1-35h0m2-11h0m3-6h0m1 48h0m3-38h0m1-2h0m4-65h0m0 84h0m1 36h0m1-15h0m1 10h0m0 10h0m0 20h0m0-46h0m1-41h0m4 74h0m4-73h0m0-29h0m0 16h0m2 91h0m1-52h0m3 16h0m4-17h0m4 24h0m3 25h0m0-23h0m3-22h0m1-6h0m3 53h0m3-95h0m2 45h0m1 57h0m3 3h0m11-14h0m1 17h0m0-99h0m4 58h0m0-139h0m0 150h0m1 29h0m2 3h0m1-37h0m6-14h0m2 49h0m2-4h0m3 7h0m1-22h0m2-11h0m6-24h0m6 44h0m1-33h0m0 11h0m0 24h0m3-4h0m9 3h0m5-9h0m4-93h0m5 96h0m1-52h0m1 33h0m1 24h0m7 16h0m2-29h0m3-7h0m0 27h0m2-92h0m3 100h0m1-25h0m3-20h0m4 7h0m2-4h0m0-272h0m0 259h0m0 0h0m2 32h0m0-41h0m3 49h0m0-5h0m3-21h0m0 33h0m1-63h0m0 22h0m1 43h0m6 2h0m0-83h0m1 35h0m8 49h0m0-42h0m0-6h0m3 53h0m2-45h0m3 27h0m2 20h0m10-237h0m0 215h0m1 5h0m0-63h0m6-3h0m0 9h0m1 61h0m0-98h0m1-173h0" stroke-opacity="0.2" stroke-width="10" class="s"/>
<path d="M213 378h0m3 77h0m1-15h0m0-112h0m2 123h0m1-8h0m1-32h0m1 50h0m0-22h0m0-18h0m1-98h0m0 80h0m0 71h0m0-115h0m9 49h0m0 32h0m5-5h0m0 13h0m1 32h0m0-92h0m3 13h0m3-8h0m1 83h0m3-62h0m0 39h0m5 5h0m6 26h0m0-21h0m5-68h0m1 47h0m0 29h0m1-188h0m1 22h0m0-184h0m0 53h0m0-10h0m2-53h0m1 71h0m3 107h0m3 68h0m1-192h0m0 62h0m4 20h0m1-53h0m3 96h0m2 29h0m1-179h0m4 79h0m0-105h0m1 110h0m0-93h0m1 24h0m0 8h0m2-15h0m0 41h0m1 153h0m0-10h0m7-165h0m0 55h0m1-17h0m1-57h0m0-3h0m7 12h0m1 44h0m0 169h0m1-227h0m3 205h0m0-45h0m1-109h0m0-144h0m1 206h0m1 2h0m0-37h0m1 121h0m4-3h0m6-69h0m1 20h0m0-5h0m3-68h0m2 8h0m1-58h0m3 61h0m0-141h0m0 2h0m1 177h0m2-127h0m1 118h0m5-76h0m5-132h0m0 144h0m3-5h0m0 123h0m4-59h0m0-133h0m1-20h0m1 361h0m0-27h0m1-229h0m1-59h0m2 306h0m6-140h0m0 182h0m0-64h0m1-11h0m0 2h0m1 4h0m3 20h0m3 3h0m2-137h0m2 130h0m1-64h0m0 92h0m1-28h0m0 25h0m4-76h0m1-18h0m2 88h0m0-70h0m2 87h0m7-78h0m1 62h0m0-34h0m1 50h0m0 17h0m1-113h0m0 30h0m3 74h0m0-51h0m5-4h0m2-108h0m1 139h0m1-92h0m2 10h0m1 91h0m4-41h0m5-25h0m3 81h0m0-47h0m3 34h0m1-90h0m0 78h0m1-165h0m4 177h0m0-32h0m9 0h0m0 15h0m4-51h0m5 32h0m1-2h0m0 15h0m1-40h0m3 67h0m1-24h0m3-13h0m2 3h0m1 31h0m3-63h0m0 59h0m0-25h0m0-64h0m1 45h0m0-222h0m1 258h0m1-92h0m3 23h0m9 3h0m3 83h0m4-34h0m4 39h0m0-30h0m1-44h0m6 49h0m5 23h0m0-105h0m0-2h0m3 56h0m4 21h0m0 1h0m9-9h0m1-5h0m0 20h0m6-61h0m0 57h0m8-8h0m6-23h0m1-32h0m0-195h0m0 187h0m0 106h0m0-287h0m1-70h0m1 292h0m0 67h0m1-6h0m4 5h0m4-6h0m3-44h0m3-72h0m1 86h0m3 23h0m2-88h0m1 73h0m2 13h0m3-138h0m0-8h0m2 150h0m0 8h0m4-26h0m3 22h0m1 9h0m1-6h0m9-10h0m0 22h0m0-29h0m3 28h0m8-2h0m1-51h0m5-8h0m0-48h0m0 79h0m1-30h0m4 58h0m3-34h0m0-31h0m0-236h0m1 91h0m2 184h0m2 17h0m0-32h0m4 2h0m3 16h0m4 11h0m1-53h0m8 13h0m3-14h0m0 42h0m5-29h0m0 55h0m0-102h0m2 10h0m3 78h0m2-37h0m4-29h0m0-202h0m1 46h0m8 179h0m1-71h0m0 72h0m0-99h0m0-22h0m0 59h0m1-171h0m0 172h0" stroke-opacity="0.2" stroke-width="10" class="s"/>
<path d="M213 441h0m3-79h0m1-40h0m0 136h0m6-75h0m6 60h0m2-23h0m1-52h0m1 57h0m3 46h0m0 6h0m0-11h0m0-152h0m5 39h0m3 46h0m0 40h0m4 35h0m0 19h0m2-40h0m3 10h0m4 18h0m0-34h0m4 40h0m2 4h0m2-41h0m0 24h0m2-224h0m2-71h0m4-51h0m0 114h0m3 93h0m1-50h0m3-19h0m0-86h0m0-11h0m0 74h0m5 129h0m0-5h0m0-150h0m3-37h0m3 12h0m0 83h0m0-179h0m1 193h0m0-37h0m2-12h0m2 98h0m1-134h0m0-17h0m0 122h0m3-123h0m1 7h0m0-48h0m0 139h0m2 47h0m1-111h0m0 51h0m0 56h0m1-139h0m4 107h0m0-25h0m1-94h0m2 143h0m0-43h0m2-71h0m0 61h0m1-74h0m0 61h0m0 39h0m3-142h0m0 146h0m0 9h0m3-39h0m0 15h0m0 63h0m1-6h0m1-110h0m4 111h0m0-108h0m3 26h0m4 181h0m2-256h0m0 100h0m1-154h0m1 136h0m0-142h0m4-2h0m0 92h0m10-5h0m4 54h0m0-175h0m1 29h0m2 58h0m3 50h0m0 36h0m2-139h0m1 311h0m0-2h0m1-242h0m1 18h0m2 248h0m0-33h0m0 16h0m6-60h0m1 56h0m0 4h0m6-7h0m1 57h0m5-2h0m7-19h0m2-27h0m0 21h0m0-89h0m1 84h0m4-9h0m3 52h0m1-12h0m1-44h0m3-15h0m2 9h0m4 5h0m0-1h0m1 15h0m0-21h0m6 1h0m0 13h0m0 32h0m3-11h0m4 1h0m2-10h0m1 2h0m2 16h0m0-18h0m1-33h0m5 51h0m0-1h0m10-19h0m0 6h0m5 15h0m3-12h0m3 7h0m3-76h0m3 31h0m1-31h0m1 17h0m1 31h0m1-38h0m6 35h0m1-32h0m0-233h0m0 96h0m2 120h0m0 0h0m3 4h0m0 67h0m1-63h0m1 39h0m0-26h0m0 59h0m3-47h0m0-58h0m6 92h0m0-30h0m3-6h0m2-49h0m0 55h0m3-66h0m1 13h0m3 70h0m0-37h0m0 15h0m3 44h0m0-10h0m3-80h0m1-104h0m1 139h0m1-28h0m2 37h0m4-7h0m6 38h0m1-2h0m2-6h0m6-33h0m10 50h0m7-20h0m0-21h0m1 41h0m0-279h0m11 287h0m1 0h0m2-185h0m5 95h0m11 119h0m7-143h0m0 58h0m1-40h0m13 116h0m6-23h0m3-17h0m0 26h0m2 20h0m0-47h0m2 6h0m4 35h0m3-56h0m1-115h0m2 131h0m1 25h0m0 8h0m3-65h0m6 70h0m0-78h0m3 14h0m1 63h0m0-6h0m2-59h0m9 19h0m0-18h0m2 32h0m1-24h0m3-41h0m2 86h0m1 4h0m3-5h0m0-9h0m0 11h0m3-151h0m0 16h0m0 109h0m1-10h0m1-48h0m5 31h0m2 17h0m3-9h0m1-203h0" stroke-opacity="0.2" stroke-width="10" class="s"/>
<path d="M213 404h0m1 28h0m2 41h0m1-23h0m2-65h0m1-73h0m0 165h0m0-11h0m1-92h0m4 55h0m4-19h0m2-38h0m0 22h0m4-19h0m1 49h0m0 66h0m0-131h0m1 26h0m1 31h0m0 22h0m6 2h0m0-51h0m0 77h0m0-46h0m3 24h0m4 27h0m0 15h0m1-13h0m2 10h0m2-15h0m1 26h0m7-40h0m1 4h0m2-197h0m5-91h0m4 145h0m0-183h0m3 53h0m0 74h0m1 10h0m1-111h0m5 108h0m1-56h0m0-38h0m1-29h0m4 115h0m0-77h0m0 0h0m1-89h0m0 145h0m0 106h0m7-102h0m0-45h0m1 98h0m2-149h0m1 126h0m1-137h0m3 65h0m2 45h0m0-75h0m2 69h0m9 90h0m0 13h0m3-52h0m5-61h0m1 75h0m1 32h0m0-102h0m2 147h0m4-259h0m1-6h0m0-44h0m1 119h0m1-105h0m6 178h0m4-143h0m0 80h0m3 39h0m1-137h0m0 151h0m6 18h0m3 41h0m1-94h0m0 40h0m1 221h0m0-48h0m0-338h0m2 175h0m1 146h0m1-9h0m2 23h0m4 47h0m0-38h0m5-13h0m1-4h0m2 35h0m1 41h0m4-94h0m0 26h0m1 9h0m5 27h0m2 31h0m0-9h0m0-15h0m1 15h0m0 5h0m0-9h0m4 10h0m1-38h0m0 28h0m3-24h0m7-41h0m0-10h0m2 11h0m6 37h0m2-23h0m0 3h0m1 53h0m3-46h0m3 43h0m6-45h0m0 49h0m0-39h0m3-60h0m0 97h0m1-14h0m0-149h0m1 6h0m0 116h0m1-176h0m4 201h0m0-36h0m5 19h0m1 23h0m1 5h0m1-18h0m1-21h0m3 28h0m1-85h0m1 33h0m1 32h0m4 26h0m0-10h0m1 7h0m4-74h0m2 61h0m2 2h0m0-77h0m0 54h0m4-59h0m1 60h0m0-28h0m2 4h0m1 52h0m2-105h0m1 41h0m2 32h0m2-30h0m3 70h0m0-60h0m1 10h0m1 7h0m2 1h0m0 34h0m3-27h0m0 26h0m1-25h0m2-35h0m0 3h0m3 12h0m6 53h0m4-135h0m0 91h0m1-54h0m0 69h0m6 32h0m1-66h0m3 7h0m6 1h0m1 1h0m5-135h0m12 139h0m0 36h0m10-3h0m1 30h0m4 6h0m3-33h0m9 12h0m6 6h0m2-19h0m1 19h0m2 16h0m5-7h0m1 7h0m4-101h0m0 87h0m3-10h0m0 17h0m2 6h0m3-6h0m4-8h0m3-16h0m0-76h0m0 61h0m0 40h0m1-37h0m2-69h0m3 84h0m3-59h0m2 40h0m0 35h0m0-28h0m1 33h0m2-249h0m10 221h0m2 4h0m2 16h0m3-17h0m1 10h0m2 11h0m2-10h0m13-10h0m1-1h0m0-27h0m7 1h0m5 31h0m6-53h0m1 63h0m0-281h0" stroke-opacity="0.2" stroke-width="10" class="s"/>
<path d="M982 760V1027M991 759V1031M1000 738V1018M1009 735V1031M1018 762V1016M1027 749V1019M1036 738V1012M1046 793V1028M1057 703V1014M1066 705V1029M1075 704V1029" stroke-opacity="0.34" stroke-width="9" class="s"/>
<path d="M985 737V1031M994 751V1019M1003 761V1038M1012 740V1026M1021 761V1036M1030 742V1018M1039 750V1029M1051 698V1026M1060 696V1037M1069 702V1026" stroke-opacity="0.34" stroke-width="9" class="s"/>
<path d="M988 762V1018M997 737V1031M1006 759V1029M1015 760V1035M1024 737V1025M1033 739V1017M1043 810V1011M1054 704V1029M1063 707V1015M1072 709V1012" stroke-opacity="0.34" stroke-width="9" class="s"/>
<path d="M931 1085V1149M940 1085V1149M949 1087V1149M958 1087V1147M967 1084V1148M1077 1091V1146M1086 1089V1144M1095 1092V1146M1104 1094V1145M1113 1092V1146M1122 1092V1146M1131 1089V1144M1140 1091V1147M1149 1091V1145M1158 1095V1147M1167 1088V1146M1176 1092V1147M1185 1092V1144M1194 1091V1145M1203 1095V1144M1212 1092V1143M1221 1093V1145M1230 1095V1144M1239 1096V1143M1248 1090V1144M1257 1091V1146M1266 1092V1143M1275 1094V1145M1284 1095V1147M1293 1088V1146M1302 1092V1144M1311 1091V1144M1320 1087V1144M1329 1092V1144M1338 1088V1146M1347 1089V1143M1356 1086V1146M1365 1092V1146M1374 1093V1146M1383 1094V1145" stroke-opacity="0.62" stroke-width="9" class="s"/>
<path d="M934 1086V1149M943 1087V1149M952 1088V1150M962 1084V1148M971 1085V1150M1080 1094V1144M1089 1087V1147M1098 1089V1144M1107 1095V1145M1116 1089V1144M1125 1093V1143M1134 1090V1147M1143 1089V1145M1152 1088V1145M1161 1092V1147M1170 1087V1146M1179 1090V1144M1188 1093V1146M1197 1088V1146M1206 1096V1144M1215 1091V1146M1224 1093V1146M1233 1093V1145M1242 1087V1145M1251 1092V1146M1260 1090V1144M1269 1086V1146M1278 1094V1143M1287 1091V1145M1296 1087V1147M1305 1093V1144M1314 1086V1144M1323 1090V1145M1332 1095V1146M1341 1093V1143M1350 1092V1144M1359 1092V1146M1368 1090V1146M1377 1095V1146M1386 1095V1144" stroke-opacity="0.62" stroke-width="9" class="s"/>
<path d="M937 1085V1146M947 1082V1148M955 1083V1149M964 1086V1146M973 1086V1148M1083 1090V1145M1092 1088V1143M1101 1091V1143M1110 1092V1144M1119 1091V1145M1128 1096V1143M1137 1090V1143M1146 1094V1146M1155 1086V1145M1164 1087V1145M1173 1096V1146M1182 1095V1144M1191 1091V1145M1200 1092V1147M1209 1096V1146M1218 1096V1146M1227 1087V1144M1236 1095V1144M1245 1092V1145M1254 1095V1145M1263 1090V1144M1272 1095V1146M1281 1094V1144M1290 1088V1145M1299 1087V1145M1308 1091V1144M1317 1088V1143M1326 1094V1143M1335 1087V1146M1344 1096V1146M1353 1089V1143M1362 1088V1144M1371 1092V1146M1380 1089V1145M1389 1091V1144" stroke-opacity="0.62" stroke-width="9" class="s"/>
<path d="M934 1097h0m1-2h0m3 29h0m4-89h0m3 11h0m0 81h0m3-11h0m1 19h0m0-123h0m2 99h0m1-2h0m1-71h0m0 92h0m2-51h0m1 41h0m1-62h0m7 23h0m2-4h0m0 17h0m1 42h0m1-34h0m7-17h0m7-241h0m1 101h0m0-255h0m1 149h0m1 59h0m1-92h0m0 140h0m0 105h0m3-133h0m0 93h0m1-121h0m0 129h0m0-33h0m1 116h0m0-113h0m0-173h0m0 25h0m1 216h0m0-11h0m0-299h0m0 99h0m0 212h0m1-165h0m0-1h0m1 3h0m0 59h0m0-132h0m0 94h0m1-167h0m1 70h0m0-36h0m1-34h0m0 233h0m0 46h0m1-107h0m0-66h0m1-81h0m1 251h0m1-141h0m3-87h0m2-80h0m0 193h0m1 127h0m1-87h0m0-34h0m0 45h0m1-134h0m0 173h0m0-21h0m2-233h0m1-34h0m2 313h0m1-96h0m2 144h0m1-101h0m0-96h0m1-159h0m1 321h0m0-198h0m1-27h0m0 163h0m1-1h0m1-34h0m0-216h0m1 99h0m0 3h0m1 15h0m1 5h0m1-116h0m0 75h0m2-25h0m1 44h0m1 7h0m0 64h0m1-62h0m1 27h0m1 65h0m0-45h0m1 36h0m0-139h0m0 286h0m1-38h0m0-187h0m1-26h0m1 153h0m0-87h0m0 161h0m1-215h0m1 209h0m1-350h0m0 184h0m1 75h0m0-105h0m1 113h0m0-176h0m0 9h0m1-18h0m0 290h0m1 43h0m0-136h0m1 106h0m0-131h0m1-199h0m1 210h0m1-13h0m1 38h0m2-78h0m0-70h0m0 67h0m0 48h0m0 77h0m1 33h0m1-108h0m0-41h0m0-150h0m1 240h0m1-92h0m1-51h0m1 25h0m1 76h0m0 101h0m1-257h0m0 89h0m0-122h0m2 161h0m0-158h0m0 4h0m0 68h0m0 172h0m3-216h0m1 150h0m1-96h0m1-2h0m2 33h0m1 25h0m0-39h0m0-107h0m2 234h0m0 46h0m1-143h0m1 95h0m0-38h0m0-182h0m5 293h0m1 2h0m3-14h0m0 43h0m2-12h0m3-17h0m5-26h0m1 69h0m5-36h0m1 16h0m6-35h0m1 6h0m0 25h0m2-12h0m2 60h0m2-47h0m10 4h0m6-2h0m0-5h0m5-12h0m3 5h0m5 11h0m1 60h0m0-52h0m7-40h0m1 39h0m3 32h0m7-69h0m1 79h0m5-81h0m1 33h0m5 59h0m3-54h0m1-2h0m5 20h0m2 27h0m4-17h0m1-37h0m2-5h0m3 2h0m1 12h0m3 50h0m0-100h0m2 83h0m4 18h0m3-56h0m7-21h0m3 23h0m1-20h0m6 48h0m2 3h0m3-59h0m2-26h0m3 48h0m0 18h0m1-15h0m6-48h0m1 35h0m3 12h0m3-25h0m5 35h0m2 31h0m0-24h0m10-13h0m3 4h0m6-34h0m0-18h0m12 26h0m2 45h0m3 28h0m1-59h0m1 5h0m2 0h0m1 4h0m5-1h0m0-1h0m2-37h0m6 44h0m3-9h0m1 8h0m9 15h0m10-17h0m1-28h0m0 5h0m0 68h0m13-57h0m1-10h0m5 24h0m2-3h0m0-10h0m0 41h0m4-161h0m5 167h0m4-22h0m1-32h0m0 15h0m6-45h0m1 44h0m3 2h0m6 17h0m1 10h0" stroke-opacity="0.2" stroke-width="9" class="s"/>
<path d="M933 1129h0m8-73h0m0 88h0m0-87h0m3 68h0m3-50h0m1 65h0m8-75h0m8 66h0m8-8h0m10-191h0m0 79h0m1-142h0m0-174h0m1 106h0m0 198h0m3-42h0m0-31h0m1-192h0m2 170h0m1 0h0m1-102h0m1 323h0m1-406h0m1 208h0m0 59h0m1-236h0m1 104h0m0-98h0m0 296h0m1-228h0m0-4h0m1-61h0m1 318h0m1-37h0m0-281h0m0 201h0m1 73h0m0-176h0m0-19h0m0 209h0m1-236h0m0 246h0m0-90h0m2-122h0m0 131h0m1-55h0m1 166h0m0-195h0m0 111h0m2-22h0m2-191h0m1 42h0m1 16h0m1 31h0m0-168h0m1 218h0m3-20h0m0-121h0m2 199h0m0-72h0m2-60h0m0 63h0m0-77h0m1-141h0m0 363h0m0-334h0m1 43h0m0 29h0m0-108h0m1 347h0m2-273h0m1-64h0m0 274h0m0-208h0m2 186h0m1-127h0m1 236h0m0-29h0m0-67h0m2 14h0m2 21h0m0-33h0m0-28h0m1 85h0m0-302h0m0 149h0m1 177h0m0-130h0m0-83h0m0-73h0m0 121h0m0 57h0m2-163h0m1 222h0m0-186h0m0-12h0m1-41h0m0 295h0m0-237h0m0 67h0m1 81h0m1-1h0m0-141h0m2 174h0m0-25h0m0-151h0m1 78h0m1 173h0m1 1h0m1-167h0m2-112h0m1-15h0m0-13h0m1-54h0m2 161h0m1-180h0m0 317h0m0-243h0m3 160h0m0 44h0m1-22h0m3 88h0m0-298h0m0 64h0m1 165h0m1-117h0m1 215h0m0-109h0m0 58h0m1-103h0m1-172h0m0-60h0m0 94h0m1-77h0m2 53h0m0 114h0m1 210h0m1-47h0m1 101h0m3-40h0m1 3h0m9-20h0m9-8h0m3 78h0m1-41h0m2 19h0m0-39h0m6 1h0m4 26h0m10 9h0m3-103h0m0 125h0m2-74h0m1-38h0m2-13h0m0 37h0m3 65h0m2-84h0m1 88h0m0-44h0m0 21h0m2-13h0m6 57h0m6-75h0m4 35h0m6-14h0m0-43h0m4 95h0m1-55h0m0 23h0m2-28h0m2 10h0m2-16h0m5 12h0m11 3h0m2-50h0m0 37h0m1 12h0m2 17h0m2 27h0m7-76h0m2 13h0m0 52h0m1-43h0m1-45h0m8 96h0m0 6h0m1-65h0m6 16h0m1-1h0m8 22h0m3 13h0m1-59h0m6-12h0m3-6h0m10 12h0m2 9h0m0 18h0m2 17h0m5 32h0m2-13h0m5-9h0m10-33h0m1 58h0m5-108h0m2 87h0m8-48h0m2 74h0m0-11h0m1-43h0m11-59h0m9 53h0m3 60h0m3-56h0m3 3h0m3 12h0m5-32h0m1-30h0m2 59h0m1 12h0m1-15h0m1-20h0m1 10h0m2-6h0m2-50h0m1-16h0m0 117h0m9-75h0m1 34h0m1 34h0m2-42h0m6 27h0m3-27h0m1 23h0m1 2h0m6-13h0m3-20h0m4 34h0m7-59h0" stroke-opacity="0.2" stroke-width="9" class="s"/>
<path d="M931 1142h0m1-83h0m4 1h0m3 80h0m3-97h0m1 24h0m4 42h0m0-17h0m4-50h0m2 83h0m6-39h0m1 29h0m1-3h0m3-34h0m3 66h0m3-12h0m1-7h0m1-22h0m12-376h0m1 114h0m3-133h0m0 303h0m1-139h0m0-83h0m0-5h0m1 27h0m0 166h0m2 9h0m1-13h0m1-132h0m2-36h0m1 144h0m2-96h0m0 180h0m0-155h0m1 155h0m0 9h0m0-33h0m0-96h0m1-7h0m0-26h0m1 14h0m2 32h0m1 131h0m2-317h0m0 299h0m1-12h0m0-38h0m0-119h0m1 145h0m0 61h0m1-347h0m1 85h0m0 19h0m2-111h0m0 309h0m1-304h0m0 233h0m1 10h0m0-86h0m0-2h0m1-143h0m1 25h0m1 180h0m2 45h0m0-211h0m1 89h0m0 85h0m3-184h0m0 78h0m0-146h0m2 241h0m1-86h0m1 197h0m0 17h0m1-265h0m0 60h0m0-5h0m3-59h0m0 130h0m0 147h0m1-291h0m0-35h0m3 118h0m0 60h0m0 0h0m1-18h0m0-166h0m0 70h0m1 238h0m1-201h0m1-40h0m0 113h0m0 133h0m0-75h0m1-163h0m0-30h0m0 217h0m1 21h0m0-99h0m2-216h0m0 270h0m1-71h0m1-83h0m0 184h0m0-117h0m1-113h0m0 88h0m2 11h0m0-116h0m0-45h0m1 303h0m0-26h0m0-191h0m2 230h0m2 30h0m0-287h0m0 41h0m1 129h0m0-259h0m1 149h0m4 122h0m0-138h0m1-62h0m1-62h0m1 195h0m0 42h0m1-164h0m0-72h0m1 123h0m0-16h0m0 157h0m0 76h0m1-273h0m0 228h0m1-167h0m1 231h0m1-36h0m1-10h0m0-176h0m2-106h0m0 270h0m0-113h0m0-187h0m1 295h0m0-192h0m5 271h0m2 47h0m7 6h0m1-71h0m2 60h0m0-45h0m0-37h0m2 49h0m0-11h0m1 55h0m0 5h0m1-81h0m1 19h0m9-6h0m0 18h0m5 24h0m6-17h0m7-66h0m15 53h0m0 2h0m2 9h0m26-18h0m5 76h0m9-11h0m14-92h0m0 17h0m1 41h0m5 32h0m1-26h0m1-46h0m3 22h0m0 23h0m1-17h0m6 2h0m10 38h0m4-58h0m3 55h0m1-5h0m8 20h0m7-50h0m1-8h0m3 5h0m0-21h0m1 7h0m7 18h0m2 33h0m6 9h0m5 5h0m0-58h0m4 7h0m1-28h0m5 24h0m3 20h0m1-43h0m5 83h0m3-45h0m2 23h0m3-56h0m2-26h0m9-35h0m8 124h0m2-61h0m0 21h0m1-25h0m0 77h0m2-88h0m1 22h0m2 55h0m3-92h0m3 53h0m2-7h0m5-15h0m3-11h0m1 28h0m2-17h0m3 47h0m1-6h0m1-44h0m5-19h0m0-5h0m1 44h0m1 19h0m3-23h0m1-109h0m0 114h0m1-31h0m0-4h0m1-16h0m27 13h0m1 88h0m3-92h0" stroke-opacity="0.2" stroke-width="9" class="s"/>
<path d="M939 1106h0m0-3h0m0 7h0m0-40h0m3-15h0m5 91h0m0-109h0m3 51h0m5 37h0m3 19h0m3-9h0m1-91h0m2 0h0m1 58h0m7-30h0m1 15h0m9-135h0m1 77h0m4-60h0m4 52h0m0 43h0m0-59h0m1-182h0m1 29h0m0-138h0m2 174h0m0 182h0m0-326h0m1 191h0m0-37h0m2-104h0m3 165h0m0 42h0m1 44h0m0-29h0m0-58h0m2-72h0m1-144h0m1 308h0m0-77h0m0 60h0m2-74h0m2 117h0m0-254h0m0 94h0m1-79h0m1 195h0m0-33h0m2-148h0m0 82h0m1-201h0m0 253h0m0-207h0m0-33h0m1 192h0m0-87h0m1-27h0m0-78h0m0 275h0m2-253h0m0 2h0m1 186h0m0 17h0m0-205h0m1 184h0m0-171h0m2 128h0m1 71h0m0 80h0m1-132h0m0-113h0m0-20h0m1-96h0m0 56h0m0 55h0m0 44h0m0 12h0m1-100h0m1 333h0m0-331h0m0 15h0m0-21h0m1-66h0m0 374h0m1-203h0m0 235h0m0-129h0m0-279h0m0 343h0m0-26h0m2-99h0m0-176h0m0 62h0m0 207h0m1-107h0m1-101h0m2-102h0m1 117h0m0 239h0m2-55h0m0 26h0m0-45h0m0 3h0m1-68h0m0-150h0m1 291h0m1-129h0m1-156h0m3 30h0m0-52h0m1 262h0m1-304h0m0 246h0m0-234h0m0 55h0m0-16h0m2 132h0m2 67h0m0 84h0m1-291h0m1 200h0m0 16h0m1-158h0m1 262h0m0-96h0m2 95h0m0-94h0m0 63h0m1-63h0m0-267h0m1 220h0m0-116h0m1 104h0m3 149h0m0-204h0m0-57h0m0 43h0m1 96h0m3 30h0m0 38h0m1-42h0m0 25h0m1-75h0m0-7h0m0 107h0m2-253h0m1 260h0m1-321h0m0 156h0m0-29h0m0 254h0m1-53h0m0 38h0m1-133h0m4 196h0m1-55h0m7 58h0m1-50h0m1 61h0m3-80h0m2 19h0m1-5h0m0 42h0m4-50h0m3-9h0m0 63h0m3-38h0m4 6h0m1-10h0m2-6h0m2 45h0m1-56h0m5 22h0m0 48h0m7-45h0m0-22h0m0-1h0m2 40h0m2 6h0m0-32h0m3 45h0m0-79h0m2 30h0m1-9h0m5-3h0m2 29h0m1-33h0m1 72h0m8 3h0m3-36h0m8-22h0m2 9h0m3 51h0m1-14h0m0-41h0m2-4h0m1 7h0m0 10h0m2 32h0m2-6h0m6-32h0m0 42h0m3-5h0m5 3h0m1-56h0m0 14h0m4-29h0m2 76h0m6-75h0m3 11h0m3 72h0m2-88h0m3 46h0m1-20h0m1-31h0m1 24h0m0-27h0m5-14h0m4 98h0m1-39h0m0-42h0m3-2h0m1 76h0m1-36h0m4 33h0m2 24h0m1-95h0m5 19h0m4 7h0m0-23h0m6-1h0m0 59h0m15-19h0m4-1h0m2-45h0m5 88h0m3-46h0m4 1h0m1-3h0m2-19h0m3 23h0m2-1h0m5 1h0m9-13h0m1 14h0m1-42h0m14 35h0m2 5h0m6-29h0m5 9h0m0 2h0m2-11h0m6 22h0m5-19h0m1 22h0m0-20h0m1 26h0m3-15h0m1-16h0m1-20h0m4 14h0m0 70h0m4 10h0m3-42h0m2 53h0m7-69h0m1 3h0m1-14h0m0 80h0m1-72h0m1 19h0m2-22h0m0-9h0" stroke-opacity="0.2" stroke-width="9" class="s"/>
<path d="M941 1012h0m5 119h0m5-45h0m1 9h0m3 21h0m3 14h0m0-78h0m2 86h0m5-17h0m0-56h0m8-56h0m10-26h0m2-226h0m0 69h0m2 12h0m0 22h0m0 235h0m2-155h0m0 32h0m1-197h0m0 54h0m0 123h0m1-198h0m1 157h0m0-25h0m1-54h0m0 100h0m1 38h0m0-239h0m1 132h0m2 176h0m0-41h0m1 27h0m0-99h0m2 16h0m0-52h0m1 81h0m1 54h0m0-207h0m4 20h0m1-19h0m0 148h0m2-83h0m3 72h0m0 68h0m0-163h0m1-44h0m1 39h0m3 128h0m0-63h0m0-227h0m1 186h0m1 155h0m0-203h0m1 201h0m1-183h0m0-34h0m0 215h0m0-114h0m2 122h0m0-335h0m0 207h0m1 166h0m0-367h0m2 170h0m0-22h0m0-164h0m0 364h0m1-121h0m0 96h0m1-205h0m0-39h0m0-51h0m1 288h0m1-261h0m1 8h0m1 4h0m0-15h0m1-34h0m1 355h0m0-83h0m0-243h0m1 217h0m2-214h0m0 86h0m0 163h0m1-91h0m0-200h0m2 312h0m0-298h0m3 175h0m1-138h0m2 237h0m1-31h0m0-131h0m0 169h0m1-280h0m0-11h0m1 50h0m0 253h0m2-202h0m1 244h0m1-210h0m0 217h0m3-128h0m0-51h0m0-183h0m3 356h0m0-241h0m3 206h0m0-63h0m1-104h0m1-132h0m0 30h0m0 161h0m0 129h0m0-225h0m2 107h0m1-73h0m1-155h0m0 30h0m1 198h0m0-114h0m0 228h0m2 58h0m1-47h0m0-127h0m0 6h0m0-178h0m1 33h0m2-8h0m3 340h0m0-66h0m2 83h0m5-52h0m1 28h0m4-28h0m2-81h0m0 46h0m3 45h0m1-12h0m0 47h0m1-37h0m10-13h0m3-45h0m1 38h0m0 5h0m8-50h0m0 106h0m1-96h0m2 22h0m8 37h0m2 4h0m3-39h0m4 15h0m6-8h0m17 15h0m0-25h0m3 41h0m2 38h0m1-25h0m1-4h0m0 14h0m1-48h0m2 8h0m0-3h0m2 2h0m1 2h0m4-36h0m3 85h0m4-79h0m2 57h0m5-49h0m1 20h0m5 32h0m14-37h0m1 20h0m7-8h0m12-32h0m7 2h0m0 26h0m1-82h0m4 90h0m2-6h0m1 28h0m1-51h0m2 26h0m0 11h0m5-30h0m1 19h0m2-5h0m3 40h0m8-44h0m1 0h0m1 2h0m6 4h0m0-40h0m0 62h0m1-91h0m0 16h0m12 100h0m1-64h0m3 48h0m6-32h0m9 52h0m3-99h0m6 10h0m1 30h0m2-29h0m11 62h0m4-17h0m1-11h0m1-13h0m0 41h0m3-27h0m7-37h0m4 13h0m3 7h0m1 8h0m19 47h0m0 3h0m7-103h0m4 39h0m1 25h0" stroke-opacity="0.2" stroke-width="9" class="s"/>
<path d="M934 1099h0m5-47h0m1 71h0m1 6h0m0-119h0m3 66h0m5-2h0m3 71h0m2-38h0m1-90h0m3 82h0m2 9h0m3 3h0m6-9h0m15-181h0m0 103h0m0-50h0m2-145h0m0 37h0m0-95h0m1-5h0m1 198h0m2-119h0m2 202h0m1-200h0m0 82h0m1 57h0m0-68h0m1 42h0m1-249h0m0 225h0m1-6h0m2 63h0m1 17h0m0-165h0m2-45h0m1 26h0m0 172h0m0 28h0m0 1h0m1-91h0m1 16h0m0 178h0m0-291h0m1-100h0m0 56h0m0 215h0m1-260h0m0 223h0m2 96h0m0 7h0m0-285h0m0 105h0m0-158h0m1 76h0m1 145h0m0-233h0m2 205h0m0 127h0m0-100h0m2-151h0m0 3h0m2 39h0m1-21h0m1 34h0m1 22h0m0-37h0m0-155h0m4 187h0m0-38h0m0 234h0m0-36h0m2-89h0m0-119h0m2 162h0m0 54h0m0-354h0m0 182h0m1-95h0m0 259h0m1-355h0m0 270h0m0-193h0m1 84h0m0-15h0m1 88h0m0-110h0m1 117h0m1-120h0m1-36h0m0 278h0m2-334h0m3 18h0m0 305h0m0-209h0m0 214h0m0-202h0m1-24h0m1 242h0m0-113h0m1-155h0m1 244h0m0-108h0m3 192h0m1-163h0m0 85h0m1-60h0m0 126h0m1-292h0m0-76h0m1 122h0m0-12h0m0-145h0m0 316h0m1-292h0m1 177h0m1-108h0m1 27h0m1-17h0m0 172h0m1 21h0m0-85h0m1-153h0m1 140h0m2-187h0m0 303h0m1-61h0m0-28h0m1-25h0m0-1h0m1 3h0m1-153h0m0-30h0m2 346h0m1-182h0m1 31h0m1-124h0m1 101h0m1-16h0m1 16h0m1 131h0m1-202h0m0 100h0m0 48h0m1-80h0m2 174h0m5-34h0m1-25h0m1 87h0m1 38h0m3-2h0m1-56h0m0 28h0m2-21h0m4-38h0m2-8h0m1 95h0m1 19h0m1-16h0m3 15h0m5-136h0m1 74h0m6-1h0m0 8h0m4 42h0m0-76h0m1-43h0m1 98h0m13-79h0m0-28h0m1 82h0m1-30h0m3 86h0m12-90h0m6 34h0m0-7h0m2-23h0m2 62h0m4-56h0m1-16h0m1 39h0m2-15h0m3 6h0m4-6h0m6 17h0m5-5h0m0 60h0m1-122h0m3 64h0m2-49h0m5-30h0m10 61h0m1 13h0m4 12h0m6-55h0m4 104h0m7-47h0m5-3h0m3-19h0m0 20h0m2 38h0m2-38h0m0 54h0m6-95h0m2 8h0m0 9h0m0 24h0m9-20h0m3 10h0m2 57h0m1-10h0m3-98h0m2 70h0m4 37h0m4-24h0m1-27h0m3-8h0m1 13h0m2-40h0m4 26h0m5 57h0m5 5h0m2-50h0m2 53h0m12-43h0m1 27h0m4 15h0m4-41h0m1-58h0m2 37h0m1 8h0m3-15h0m1 4h0m3 14h0m1 55h0m4-40h0m0 12h0m10-52h0m5 25h0m2-27h0m2 26h0m2-20h0m3 6h0m0-28h0m0 44h0m16-26h0m6 13h0m2-6h0m0-75h0" stroke-opacity="0.2" stroke-width="9" class="s"/>
<path d="M933 1059h0m1 42h0m1-14h0m1-14h0m0 56h0m0-50h0m4 18h0m2 47h0m2-15h0m1-18h0m2 14h0m3-48h0m1 56h0m1-6h0m1 16h0m1-10h0m0-43h0m9-57h0m5 86h0m2 23h0m2-107h0m3 44h0m8-260h0m1-68h0m0 111h0m1 13h0m0-134h0m1 155h0m0 167h0m0-91h0m0-276h0m1 26h0m1 59h0m2 269h0m1-192h0m0 82h0m0 82h0m1 22h0m0-29h0m0-118h0m0-195h0m0 216h0m1-184h0m0 157h0m1 178h0m1-203h0m1 66h0m0-53h0m1 86h0m2-129h0m0-79h0m1 209h0m0-112h0m1 10h0m0-108h0m0 156h0m1-59h0m0-86h0m0-31h0m0 80h0m0-109h0m1 93h0m0-116h0m1 32h0m0 279h0m0 39h0m0 29h0m0 89h0m1-82h0m0-144h0m0-172h0m0 294h0m0-97h0m2 109h0m1-276h0m0 2h0m1 277h0m0-48h0m1-129h0m1-58h0m0 60h0m0-124h0m0-40h0m1 149h0m1 168h0m0 10h0m1-21h0m0-52h0m2-20h0m1-98h0m0-23h0m0 73h0m0-46h0m2-10h0m0 42h0m1 29h0m1 111h0m1-44h0m1-279h0m1 248h0m1 21h0m0-103h0m1-137h0m0-42h0m1 85h0m0-92h0m1 57h0m0 90h0m1 190h0m0-7h0m1 27h0m1-47h0m0 24h0m1 86h0m1-335h0m0 54h0m0 112h0m1 83h0m1-335h0m0 102h0m0 85h0m2 66h0m0-217h0m1 90h0m2 107h0m0 14h0m1 75h0m2-312h0m2 164h0m1-30h0m0-115h0m1 339h0m0-20h0m1-216h0m0-106h0m1 25h0m0 154h0m1 68h0m0-85h0m0-110h0m0 96h0m1 79h0m0 8h0m1-254h0m0 346h0m0-54h0m1-237h0m2 174h0m0 174h0m0-351h0m1 282h0m1-73h0m0 43h0m1 28h0m0-86h0m0-235h0m1 57h0m0 275h0m1-10h0m1-55h0m0 98h0m0-170h0m1-40h0m0-154h0m0 178h0m0-174h0m1 210h0m0-207h0m1 198h0m0 122h0m1-26h0m1-106h0m0 57h0m1-52h0m0 107h0m1-114h0m2 113h0m0-74h0m0 47h0m0-270h0m1 6h0m0 181h0m1 21h0m0-175h0m1 338h0m1-160h0m0-11h0m0-134h0m1-30h0m0 245h0m1-182h0m9 232h0m1 38h0m2-1h0m1 56h0m0-59h0m1-30h0m1 79h0m3 8h0m0-57h0m3-9h0m1 23h0m1-2h0m0 46h0m1-32h0m11-45h0m9 26h0m4-6h0m1 29h0m1-24h0m1 35h0m1-35h0m5 30h0m1-48h0m0-13h0m1-36h0m5 36h0m7 76h0m1-60h0m3 19h0m4-17h0m5 8h0m9 14h0m1-16h0m4-14h0m3-15h0m2 19h0m1 26h0m3-4h0m1 43h0m6-19h0m1-54h0m3 19h0m1 10h0m0-10h0m0 5h0m9 0h0m7-9h0m2 25h0m1 19h0m2-63h0m1 57h0m2-42h0m1-163h0m0 135h0m2 40h0m2 22h0m1-8h0m3-31h0m3-23h0m7 82h0m0-76h0m3 85h0m2-27h0m4-21h0m1-12h0m0 34h0m7-43h0m2-14h0m1 60h0m0-38h0m4 13h0m5-1h0m3-37h0m0-20h0m2 96h0m2-112h0m3 74h0m2-21h0m1 54h0m5-40h0m5 30h0m2-19h0m8 25h0m6-29h0m1 20h0m1-20h0m13-21h0m4 70h0m1-37h0m1-14h0m5 35h0m6 17h0m3-50h0m5 24h0m0-32h0m3 14h0m1-26h0m1-15h0m0 32h0m1 3h0m1-12h0m1 7h0m8-17h0m1 61h0m1-67h0m1 64h0m9-57h0m10-42h0m1 61h0m1 1h0m2 25h0" stroke-opacity="0.2" stroke-width="9" class="s"/>
<path d="M938 1148h0m2-64h0m1 31h0m0 49h0m3-55h0m0-41h0m5 4h0m1 69h0m0-2h0m3 4h0m4-15h0m4 17h0m2-86h0m3 87h0m0-73h0m3-17h0m0 42h0m0-7h0m2 4h0m1 15h0m3-80h0m7-298h0m0 208h0m1 56h0m1-144h0m0 183h0m0-50h0m2-39h0m0 86h0m0-325h0m4 368h0m1-178h0m0-141h0m1 262h0m1-168h0m1 40h0m1-124h0m0 27h0m0-11h0m1-46h0m0 69h0m1 223h0m2-118h0m2-82h0m0 156h0m4-103h0m0 164h0m1-313h0m1 8h0m0 285h0m0-110h0m1-174h0m0 272h0m1-79h0m1-160h0m0 56h0m1-107h0m0 22h0m1 114h0m0 6h0m1 121h0m0-67h0m2-138h0m0 83h0m1-152h0m0 90h0m0 47h0m1 57h0m0-73h0m1 105h0m0-168h0m1 126h0m0 157h0m6-199h0m1-99h0m0-7h0m0 269h0m2-312h0m0-2h0m1 14h0m0 19h0m0 191h0m1-87h0m0 228h0m1-219h0m0 191h0m1-48h0m1-74h0m0-1h0m0-144h0m1 17h0m0 136h0m3-150h0m1 130h0m0-155h0m1-9h0m0 208h0m0-210h0m2 167h0m1 102h0m0-284h0m0 311h0m2 60h0m1-341h0m0 63h0m0-42h0m0 191h0m1-274h0m0 74h0m2 12h0m1 238h0m1 6h0m0-2h0m1 9h0m1-146h0m0-157h0m1-9h0m0 262h0m3-149h0m1-2h0m1-20h0m0 40h0m0 158h0m0-7h0m0-173h0m1 213h0m1-275h0m0 145h0m1 81h0m0 17h0m0-210h0m0-65h0m1 335h0m2-292h0m1 283h0m2-153h0m2 46h0m3 99h0m0-105h0m1 67h0m0-69h0m1 28h0m0 62h0m0-4h0m2-44h0m3 104h0m4-9h0m1 8h0m4 18h0m0-33h0m3-34h0m2 20h0m4-23h0m1 44h0m3 0h0m3 58h0m2-2h0m5 2h0m1-67h0m2-36h0m5 19h0m2 66h0m0-47h0m5-1h0m1 13h0m1 52h0m6-66h0m2 0h0m0 20h0m4 6h0m3-6h0m8 24h0m1-64h0m3 40h0m6-33h0m6 15h0m5 16h0m1 50h0m6-65h0m15 62h0m1 5h0m4-11h0m1 0h0m5-13h0m1-16h0m3-24h0m0-15h0m3 57h0m1-90h0m5 33h0m4 24h0m1-38h0m1 70h0m5 11h0m3-22h0m2 13h0m2-32h0m0 9h0m9-7h0m5-26h0m8-97h0m1 113h0m2 31h0m7-43h0m7-4h0m6 62h0m10-48h0m4 54h0m1-66h0m2 36h0m4-51h0m0 5h0m9-13h0m2 48h0m1 20h0m8-41h0m2 18h0m4-13h0m0 28h0m3-23h0m6 30h0m5-23h0m9-16h0m7 0h0m1-9h0m2 28h0m0-9h0m1 39h0m2-52h0m3-25h0m3 36h0m4-15h0m7 37h0m0-15h0m5 59h0m4-58h0" stroke-opacity="0.2" stroke-width="9" class="s"/>
<path d="M933 1137h0m8-25h0m6-9h0m3-13h0m1-12h0m3 30h0m3-55h0m0 42h0m1 2h0m16 43h0m1-42h0m8-328h0m1 82h0m1 183h0m0-225h0m1 86h0m0 134h0m3-63h0m2-104h0m1-53h0m0 30h0m0-35h0m1-49h0m1 200h0m1-232h0m0 4h0m1 20h0m0 49h0m0-78h0m1 129h0m1-116h0m2 182h0m1-194h0m0-16h0m2 0h0m1 18h0m0 150h0m2 63h0m0-202h0m3 183h0m1-164h0m1 101h0m1 197h0m0-263h0m0 55h0m1 170h0m2 4h0m0-225h0m1 147h0m0 47h0m0-176h0m3 92h0m1 20h0m1-151h0m0 291h0m0 63h0m0-283h0m2 144h0m1 51h0m0-83h0m0-206h0m1 269h0m1 16h0m2-76h0m0-68h0m1 66h0m1-94h0m0 55h0m0 114h0m1-289h0m1 97h0m0 70h0m0 49h0m0 40h0m1-43h0m0-3h0m0-116h0m0 185h0m1-106h0m0-101h0m2 78h0m1-67h0m0 227h0m1-193h0m1-81h0m1 154h0m0 16h0m0-80h0m1-68h0m0 188h0m2 95h0m0-292h0m1 82h0m2-169h0m0 4h0m1 144h0m0 228h0m1-102h0m1-110h0m2 195h0m0 18h0m0-354h0m2 130h0m1 160h0m0-58h0m1-273h0m1 246h0m0-9h0m0 80h0m1-105h0m0 21h0m0 87h0m1-233h0m1 199h0m1-48h0m0 57h0m2-168h0m0-95h0m0 369h0m1-89h0m1 90h0m1-114h0m1 38h0m0-295h0m1 11h0m1 326h0m0-211h0m1-77h0m0 206h0m1-127h0m2-16h0m0 144h0m1-241h0m0 342h0m2-43h0m1 71h0m0-75h0m2 85h0m10-25h0m2 3h0m3 27h0m2-43h0m0 44h0m2 0h0m5-39h0m1 19h0m1-17h0m3-14h0m1-12h0m9 66h0m2-35h0m1 19h0m1 37h0m4-35h0m2-46h0m1-24h0m1 20h0m6 11h0m1 66h0m2-45h0m1 1h0m5-15h0m3 16h0m1 2h0m2 37h0m1-22h0m8-19h0m11-59h0m3 40h0m2 21h0m5 11h0m11-11h0m4-35h0m1 73h0m1-36h0m10-29h0m2 48h0m0 23h0m7-6h0m13-69h0m10 80h0m2-69h0m1-5h0m4 6h0m2-33h0m2 22h0m2 22h0m6 44h0m5-37h0m4 4h0m9-10h0m3 0h0m5 36h0m1 21h0m9-6h0m2-63h0m5 16h0m2 4h0m9-3h0m2-8h0m2 7h0m1 23h0m1-28h0m9 36h0m1 21h0m1-82h0m2 69h0m2-96h0m0-1h0m0 67h0m2-4h0m0-37h0m2 76h0m5-77h0m1 19h0m8 59h0m1-76h0m4 33h0m0-4h0m3 24h0m5-55h0m2 54h0m4 22h0m2-22h0m1-35h0m1-6h0m8 24h0m2-1h0m6 1h0" stroke-opacity="0.2" stroke-width="9" class="s"/>
<path d="M931 992h0m2 136h0m2-13h0m4-73h0m7 4h0m2 38h0m3 59h0m4-78h0m4-13h0m1 88h0m6-49h0m2 18h0m1-11h0m2 19h0m4-11h0m7-377h0m1 2h0m0 273h0m0-130h0m2-163h0m1 156h0m0 136h0m1-199h0m0 35h0m1 169h0m2-152h0m0-84h0m1 138h0m2 84h0m0-273h0m0 268h0m1-247h0m0 120h0m0 20h0m1-127h0m0-60h0m0 315h0m2-178h0m0 201h0m0-294h0m0 105h0m1-40h0m0 168h0m1-247h0m2 175h0m0 52h0m1-248h0m1 36h0m1 61h0m1 246h0m0-314h0m1 206h0m1-80h0m2 191h0m0-200h0m0-108h0m0 148h0m0 63h0m3 98h0m1-290h0m0 288h0m1-15h0m0-2h0m0-62h0m2 73h0m0-55h0m1-32h0m0-237h0m3 299h0m0 10h0m0-134h0m1-82h0m0 177h0m0-162h0m0-9h0m1 204h0m1-125h0m1-110h0m1 202h0m0-272h0m1 57h0m0 289h0m0-333h0m1 3h0m0 133h0m1 193h0m0-256h0m0-63h0m1 298h0m0 0h0m1-219h0m1 241h0m1-10h0m1-304h0m1 128h0m1-135h0m1 3h0m0 261h0m0-85h0m0 76h0m1-197h0m0 10h0m0 49h0m2-95h0m2-52h0m0 393h0m1-338h0m0 72h0m1 231h0m1-290h0m0 228h0m2-74h0m0 136h0m0-252h0m1-19h0m2 12h0m0-93h0m0 335h0m0-155h0m1 12h0m0-131h0m0 64h0m1-140h0m0 196h0m0 81h0m0-280h0m1 186h0m3 179h0m0-378h0m1 125h0m0 196h0m0-139h0m1 170h0m0-42h0m1-11h0m0-107h0m2 130h0m0-81h0m0-7h0m3-66h0m1-160h0m0 127h0m0 144h0m0 87h0m3-274h0m0 239h0m2-331h0m0 379h0m0-130h0m0 85h0m1-15h0m0 47h0m0-341h0m1 344h0m3-195h0m4 215h0m5 49h0m1-48h0m5-18h0m2-2h0m0 32h0m0-30h0m4 88h0m1-83h0m1 47h0m1-52h0m3 36h0m2 45h0m1-98h0m1 65h0m5-33h0m2 21h0m3-27h0m4 12h0m6 8h0m2 38h0m6-53h0m1 0h0m4 0h0m1 73h0m1-56h0m3-17h0m3 68h0m1-77h0m1 49h0m1-16h0m4 22h0m7-24h0m10-20h0m14 15h0m3 48h0m12-61h0m1 28h0m11-46h0m0 4h0m5 34h0m3-19h0m0 67h0m1-72h0m1-3h0m6 25h0m8 24h0m15-48h0m16 6h0m0 14h0m2-36h0m7-17h0m0 55h0m4-5h0m1 14h0m2 25h0m4-21h0m7-16h0m4 5h0m0-7h0m3 23h0m9-58h0m0 47h0m2-30h0m1 68h0m1-14h0m3-33h0m1 4h0m2 6h0m0-10h0m1 39h0m2-22h0m8-38h0m1-12h0m2 77h0m4-53h0m8 57h0m1-53h0m3 38h0m2-31h0m4 20h0m2-52h0m8 13h0m1 0h0m3 4h0m14 70h0m2-43h0" stroke-opacity="0.2" stroke-width="9" class="s"/>
<path d="M933 1081h0m1 66h0m1-59h0m7 57h0m1-3h0m2-28h0m2-26h0m0 3h0m2-2h0m11-15h0m1 50h0m1-7h0m12-65h0m9-71h0m0-42h0m1-157h0m0 112h0m2 195h0m0-319h0m0 216h0m0-243h0m0 88h0m1 164h0m1-140h0m0 188h0m2-241h0m2 233h0m2-179h0m0 22h0m0-105h0m1-52h0m0 185h0m0-60h0m1 36h0m1-137h0m0 267h0m1 36h0m1-273h0m1 5h0m1 22h0m0 221h0m0-179h0m1 225h0m1-61h0m0-194h0m0-38h0m1 42h0m0 216h0m1-74h0m0-210h0m1 214h0m1 18h0m2-74h0m0 37h0m0-47h0m0-178h0m0 154h0m0-140h0m1 103h0m0-19h0m1 163h0m1-107h0m0-118h0m0 208h0m1-52h0m0-127h0m1 194h0m0-81h0m0 109h0m1-245h0m0 85h0m0 59h0m1 18h0m0 72h0m1-82h0m1-34h0m0-40h0m0 197h0m3 23h0m1-288h0m1 226h0m0-270h0m1 161h0m0 148h0m0-99h0m1 124h0m1-114h0m1-40h0m0-49h0m0 131h0m1-104h0m1-119h0m0 93h0m0-66h0m0 248h0m1-40h0m1-142h0m0 174h0m0-113h0m1-46h0m0-41h0m1 178h0m0-108h0m1-153h0m0 198h0m0 78h0m1-23h0m0-138h0m0-169h0m1 254h0m0-44h0m1-16h0m0-100h0m0 60h0m1-61h0m0 21h0m0 333h0m1-280h0m2-175h0m0 26h0m1 81h0m0 0h0m1-50h0m0 45h0m1 35h0m0 24h0m2 215h0m1-301h0m0 212h0m0-129h0m1 26h0m1 25h0m0 99h0m1 78h0m2-45h0m1 5h0m2-284h0m0 302h0m1-323h0m1 61h0m0 31h0m1 212h0m0-315h0m0 359h0m0-207h0m1 27h0m0 138h0m0 52h0m0-240h0m1 196h0m1-195h0m2 131h0m0-234h0m0 300h0m3-154h0m0-181h0m2 247h0m1-274h0m0 314h0m1-87h0m1 120h0m0-39h0m0-110h0m1-31h0m0-92h0m0 262h0m1-32h0m1-223h0m1 239h0m0-226h0m5 307h0m1 23h0m1 37h0m2-9h0m0-53h0m3 8h0m5-61h0m5 65h0m8-29h0m2-5h0m4-15h0m1-2h0m1 20h0m0 65h0m8-40h0m5-58h0m0 52h0m4 6h0m2-4h0m1-25h0m2 9h0m5 16h0m1-6h0m0-9h0m0 73h0m3-74h0m2 11h0m2 0h0m7 0h0m8-30h0m0 53h0m1-24h0m0-10h0m4-16h0m0-14h0m1 51h0m0-27h0m3 44h0m1-29h0m2 7h0m12 44h0m11-5h0m6-42h0m2-29h0m1 27h0m7-26h0m1 11h0m3 9h0m1-23h0m1 64h0m0-23h0m2-3h0m2 6h0m0 17h0m5-25h0m3 45h0m4-12h0m2-18h0m5 1h0m6-99h0m2 48h0m3 68h0m2-33h0m1 3h0m3-7h0m2-8h0m2 26h0m0-68h0m0 24h0m2 48h0m3-48h0m0 82h0m7-53h0m0-15h0m8-13h0m1 16h0m0 3h0m4 13h0m1-30h0m2 74h0m5-109h0m9 87h0m10-56h0m1 55h0m0 23h0m12-94h0m6 49h0m0 41h0m2-36h0m3-76h0m2 112h0m4-39h0m1-5h0m0 13h0m3-70h0m4 41h0m6 58h0m3-40h0m0-10h0m1-4h0m13-11h0m4 6h0m1 34h0m2 36h0" stroke-opacity="0.2" stroke-width="9" class="s"/>
<path d="M934 1115h0m1-21h0m6 12h0m1 20h0m1 9h0m0-54h0m0 8h0m1 37h0m2-25h0m1-35h0m5 32h0m1-45h0m5-61h0m9 126h0m0-34h0m1 64h0m0-3h0m1-9h0m1-1h0m3 0h0m1-63h0m8-300h0m1 72h0m1 27h0m0-86h0m0 53h0m3-2h0m0 24h0m2 148h0m6-34h0m0-23h0m0 133h0m0-276h0m1 92h0m1 102h0m0-289h0m1 167h0m0 175h0m1-4h0m0-342h0m1 223h0m0-160h0m0 227h0m1-154h0m0 29h0m2-109h0m0 257h0m1-212h0m0 19h0m1-16h0m1 202h0m0-23h0m0 3h0m3 49h0m0-195h0m2-91h0m0 6h0m0-31h0m1 14h0m3 306h0m1-123h0m0-83h0m1-39h0m0 113h0m1 65h0m0 11h0m1 5h0m1 65h0m0-344h0m1 297h0m1-261h0m0 247h0m1 50h0m0-264h0m0-22h0m1 228h0m0-5h0m1-214h0m0 202h0m0-104h0m2 104h0m0-148h0m1 157h0m0 76h0m0-223h0m0 84h0m2 15h0m2-16h0m0-120h0m0 52h0m1-150h0m1 342h0m0-297h0m0 120h0m2 137h0m0-20h0m2-65h0m1-173h0m0 216h0m2-159h0m1 192h0m1-278h0m0 94h0m1 214h0m0 76h0m1-71h0m0-178h0m1-165h0m4 265h0m0 0h0m1-192h0m1 177h0m1-194h0m0 6h0m3 305h0m0-249h0m0-69h0m1 48h0m0 92h0m1 75h0m3-36h0m0 133h0m0-331h0m0 65h0m1-19h0m2 237h0m1 58h0m0-259h0m0 194h0m1-22h0m0-253h0m0 254h0m1 38h0m0 131h0m3-328h0m0-104h0m0 78h0m0 144h0m1-194h0m0 148h0m1 126h0m1-71h0m0-76h0m0-182h0m1 270h0m1-86h0m0-124h0m1 44h0m3 303h0m7 49h0m5-87h0m1 54h0m2-32h0m1-49h0m1 112h0m2-61h0m5 16h0m0 3h0m2-66h0m1 45h0m4 62h0m5-49h0m7 55h0m4-55h0m4 34h0m4 7h0m8-14h0m2-62h0m2 56h0m7-48h0m0 31h0m4-22h0m5-15h0m1 5h0m3 19h0m0-31h0m2 35h0m1-26h0m2 64h0m0 10h0m4-46h0m6 29h0m6 23h0m1-30h0m3-33h0m4 17h0m3 24h0m4-2h0m0-29h0m1 41h0m5-37h0m7-1h0m2-25h0m1 68h0m0-1h0m2-41h0m7-43h0m1 38h0m1 5h0m3 0h0m6 10h0m3 25h0m2-48h0m4-10h0m1 44h0m3-24h0m4-23h0m2-30h0m1 54h0m2-5h0m5 50h0m2-42h0m4 35h0m6-57h0m7-16h0m2 23h0m2 18h0m6 26h0m4-8h0m2-5h0m1 31h0m5-56h0m2 23h0m2-60h0m1 28h0m12 17h0m10-1h0m4 44h0m0-37h0m1-15h0m0-26h0m1 6h0m5 32h0m0-9h0m0-37h0m1 38h0m1 55h0m3-65h0m4 35h0m0-25h0m5 43h0m2-49h0m4 60h0m5-96h0m1-1h0m3 0h0m12 24h0" stroke-opacity="0.2" stroke-width="9" class="s"/>
<path d="M933 1112h0m8-7h0m0-4h0m4-7h0m3-41h0m2 12h0m0 79h0m1-11h0m9-52h0m0 0h0m1 17h0m4 36h0m1-72h0m0 78h0m2-32h0m0 22h0m4-32h0m1-46h0m0 71h0m11-400h0m1 195h0m0 8h0m1 21h0m0 33h0m1-134h0m0 32h0m1-17h0m1 144h0m0 41h0m1-143h0m1-45h0m3 131h0m2-17h0m0 53h0m1-292h0m1 343h0m0-42h0m0-273h0m1 299h0m1-122h0m0-218h0m1 145h0m0-110h0m0-21h0m1 44h0m2 169h0m1-86h0m1-103h0m0-44h0m2 54h0m0 253h0m0-159h0m1 71h0m0 54h0m0-13h0m2-136h0m1 259h0m0-269h0m2 66h0m1-25h0m0-26h0m1-138h0m0 329h0m1-1h0m1-227h0m0 196h0m1-263h0m0 284h0m1-120h0m0-90h0m0 236h0m1-239h0m1 57h0m1 34h0m0-199h0m1 392h0m0-237h0m1 79h0m1-184h0m1 43h0m1 70h0m1-148h0m0-16h0m2 308h0m0 7h0m0-176h0m0 131h0m1-250h0m0-10h0m0 205h0m1 26h0m1 6h0m1-248h0m0 331h0m1-315h0m1 273h0m0-112h0m1 66h0m0-158h0m2 216h0m0-137h0m2 169h0m0-332h0m0 64h0m1 72h0m0 201h0m2-146h0m1-19h0m1-127h0m0-36h0m1 218h0m0 33h0m0-143h0m1 187h0m2-188h0m2 218h0m1-157h0m0 169h0m0-297h0m0 287h0m1-132h0m0-221h0m1 231h0m0 118h0m1-28h0m0 50h0m0-92h0m2 11h0m1-246h0m1 22h0m1 74h0m0-90h0m2 22h0m2 241h0m0-241h0m1 197h0m0-110h0m0 188h0m1-162h0m0 107h0m0 44h0m1 40h0m0-173h0m1 67h0m0 0h0m2 81h0m1 25h0m1-230h0m0 88h0m1-36h0m1-178h0m16 436h0m5-50h0m0-81h0m2 57h0m4-30h0m4 47h0m9-11h0m1 57h0m1-44h0m5-22h0m1 21h0m1-14h0m4 31h0m0 38h0m2-106h0m4 51h0m1 5h0m3-40h0m11-9h0m1 106h0m6-60h0m1-50h0m3 59h0m2-24h0m11-31h0m2 57h0m0 43h0m7-65h0m9-9h0m1 4h0m6-26h0m10 31h0m4-48h0m1 66h0m5 0h0m2-3h0m4 2h0m1-5h0m2-16h0m4 18h0m1 30h0m1-58h0m7 27h0m2 2h0m1-5h0m0 44h0m0-64h0m1 10h0m2 70h0m1-28h0m4-49h0m7 22h0m12 38h0m9-7h0m2-57h0m3 10h0m0-6h0m9-31h0m5 102h0m2-19h0m4-6h0m1-44h0m11 66h0m1-48h0m3-31h0m3 81h0m0-28h0m4-55h0m1 36h0m4-8h0m2-25h0m4 51h0m1 37h0m5-27h0m3-54h0m9 24h0m4-15h0m1 41h0m13-25h0m3-48h0m1 46h0m2 25h0m3-50h0" stroke-opacity="0.2" stroke-width="9" class="s"/>
<path d="M938 1095h0m1 11h0m1 32h0m4 3h0m4-43h0m6 41h0m6-20h0m2-21h0m4-63h0m16-41h0m1 78h0m0-72h0m1-52h0m0-242h0m1 182h0m0 99h0m1-247h0m0 30h0m1 32h0m0-59h0m1 174h0m0 1h0m1 92h0m0-107h0m0 73h0m0 64h0m1-15h0m1-289h0m0 308h0m0-296h0m0 144h0m0-94h0m2-8h0m2 156h0m1 11h0m1-130h0m1 104h0m0 57h0m1-191h0m1 114h0m2 87h0m0 114h0m0-165h0m1-80h0m0 12h0m0 241h0m4-44h0m0-158h0m1 59h0m1-95h0m0 12h0m0-27h0m2 78h0m2-242h0m2 239h0m0-201h0m1 79h0m1-106h0m1 60h0m0 302h0m1-385h0m1 247h0m0-223h0m1 33h0m1 399h0m1-234h0m0-128h0m1 245h0m0 27h0m1-25h0m0 16h0m0-201h0m0 197h0m2-135h0m0-202h0m0 212h0m2-45h0m2 131h0m0-127h0m0-85h0m0 230h0m1-224h0m0 122h0m1 100h0m0-178h0m0 255h0m1-61h0m2-220h0m1 300h0m1-58h0m0-16h0m0-116h0m0-155h0m1 113h0m1 160h0m0-72h0m0-57h0m1-144h0m0 161h0m1-183h0m1-49h0m1 210h0m1-156h0m0 131h0m0-185h0m1 112h0m1 218h0m1-254h0m1 288h0m1-44h0m0-227h0m1 13h0m0 79h0m2-51h0m0 194h0m1-47h0m1 3h0m1 38h0m0-106h0m1 38h0m0-177h0m2 290h0m1-377h0m1 310h0m1-301h0m0 282h0m2 60h0m0-198h0m1 66h0m1 128h0m1-205h0m2-149h0m0 115h0m0 176h0m1 59h0m1-120h0m1 132h0m0-165h0m0-79h0m0 155h0m2-17h0m0-16h0m0-14h0m0-185h0m0 342h0m2-350h0m1 360h0m3-3h0m8 12h0m4 57h0m1-52h0m1-8h0m6-20h0m4 38h0m1-40h0m2 24h0m6 7h0m0-11h0m2 16h0m2-12h0m2-25h0m3 27h0m9 0h0m1 57h0m1-57h0m1-13h0m5-5h0m3 76h0m2-56h0m1 15h0m1-24h0m0 7h0m4-26h0m3 9h0m3 33h0m3-33h0m0 64h0m0-30h0m9 22h0m1 5h0m3-53h0m0 10h0m2-33h0m1 21h0m0 37h0m3-2h0m10-82h0m3 60h0m5 54h0m6-58h0m2-10h0m3-14h0m1-16h0m7 26h0m2-44h0m4 64h0m1-37h0m6 59h0m1 7h0m2 24h0m3-29h0m3-31h0m1-6h0m1-5h0m3-18h0m1 28h0m5 56h0m3-73h0m8-16h0m5 29h0m2 10h0m0-78h0m1 82h0m2-24h0m1 76h0m8-110h0m13 49h0m1-32h0m3 40h0m8-60h0m0 60h0m1 0h0m2 22h0m1 16h0m3-47h0m9 15h0m11 27h0m2-68h0m4 89h0m4-15h0m2-43h0m6-10h0m1 14h0m0-10h0m5 19h0m1-25h0m6 11h0m13-21h0m2 26h0m10 33h0m1 7h0m0 6h0m2 7h0m0-12h0m1-35h0" stroke-opacity="0.2" stroke-width="9" class="s"/>
<path d="M937 1034h0m3 105h0m0-59h0m0 17h0m3 31h0m0-22h0m2-18h0m5 32h0m6-62h0m1-1h0m5 6h0m0 17h0m1-17h0m4 25h0m8-10h0m7-279h0m0 241h0m1-240h0m0 209h0m1-5h0m0-230h0m1 113h0m1-161h0m1 251h0m1-84h0m0 241h0m0-239h0m1-131h0m0 88h0m0 137h0m0-110h0m1-45h0m0-85h0m0 218h0m2 36h0m0-272h0m1 57h0m0 179h0m1-61h0m0 129h0m1 59h0m0-119h0m0-110h0m0 165h0m0-327h0m0 410h0m1-319h0m1 165h0m0-101h0m2 6h0m1 115h0m2 94h0m1-350h0m0 76h0m1-47h0m2 240h0m0-273h0m0 246h0m1-106h0m0 143h0m1-174h0m1 183h0m1-313h0m1 274h0m0-126h0m0 259h0m1-264h0m0-16h0m0 169h0m0-55h0m2-13h0m1 70h0m0-78h0m1 129h0m0-275h0m1-15h0m0-23h0m1 30h0m0 287h0m3-224h0m1 205h0m2-109h0m1 113h0m1-197h0m1-57h0m0 103h0m1-116h0m2 144h0m0-118h0m3 238h0m0-108h0m2-116h0m0 60h0m0 103h0m1-194h0m0 176h0m1 77h0m1 16h0m1-104h0m0-77h0m0-100h0m1-7h0m0 167h0m0 149h0m1-160h0m1-176h0m1 185h0m0 64h0m3 91h0m1-233h0m1 75h0m0-76h0m1-28h0m1-91h0m0 211h0m1-7h0m1-78h0m1 79h0m2-239h0m1 182h0m1-8h0m1-110h0m1 168h0m0-111h0m1 204h0m0-98h0m0 114h0m1-75h0m1-274h0m1 109h0m0 250h0m0-118h0m1 91h0m1-137h0m1 81h0m0-93h0m0 69h0m1-97h0m1 233h0m0-360h0m2 237h0m1-229h0m0 237h0m0-19h0m0-5h0m1-76h0m0 254h0m0-166h0m1-94h0m0 182h0m3-163h0m7 221h0m3 33h0m2 6h0m4-38h0m0-31h0m7 29h0m3-19h0m1-21h0m1 34h0m1 50h0m3-2h0m0-92h0m0 51h0m3 14h0m5-20h0m3 4h0m8 1h0m4 47h0m4-10h0m3-38h0m2-15h0m2 14h0m0-61h0m1 110h0m1-80h0m8 69h0m6-43h0m1 3h0m1-23h0m6 16h0m1-18h0m0 50h0m1 18h0m3-65h0m3 21h0m9 44h0m3-1h0m0 3h0m4-61h0m2 62h0m5-9h0m3-31h0m1 23h0m2-24h0m11 54h0m6-49h0m2-120h0m0 14h0m5 127h0m4-39h0m7 58h0m1-48h0m1-55h0m0 55h0m5 32h0m5-49h0m0 13h0m1-6h0m0 57h0m1-85h0m0 21h0m1 19h0m1-54h0m5 65h0m3-18h0m1-45h0m2 102h0m1-20h0m5 3h0m4-37h0m8 40h0m0-47h0m2 12h0m1 7h0m10-8h0m1 45h0m3-1h0m3-59h0m0 42h0m2-1h0m7-17h0m2-28h0m1 10h0m4 4h0m10-2h0m1 1h0m2 21h0m1-63h0m2 82h0m7-98h0m0 78h0m1-19h0m4-30h0m0 33h0m1-7h0m5 8h0m4 13h0m1-88h0m1 94h0m0-24h0m4 3h0m3 5h0m1-18h0m7 7h0m1-4h0m10 11h0m1-16h0m0 2h0m4-17h0m1 10h0m0 10h0" stroke-opacity="0.2" stroke-width="9" class="s"/>
<path d="M934 1081h0m1 54h0m8-37h0m0 32h0m1-47h0m1 1h0m0-46h0m3 43h0m0-1h0m3-3h0m0 44h0m14-64h0m3-7h0m2 28h0m1-16h0m4 47h0m8-206h0m0-110h0m1 7h0m1 250h0m0-321h0m1 81h0m2-56h0m2 155h0m1-174h0m1 114h0m0-140h0m1 315h0m0-228h0m0-11h0m1 198h0m0-31h0m0-150h0m1-48h0m0 132h0m0 36h0m0-147h0m1 108h0m1 91h0m2-267h0m2 156h0m0 145h0m0-121h0m1-187h0m0 215h0m1-190h0m1 71h0m1-75h0m1 416h0m0-274h0m0 155h0m1-63h0m1-48h0m0 111h0m1-40h0m0-202h0m0 221h0m1-208h0m2 176h0m2 72h0m1-284h0m0 78h0m0-114h0m1 59h0m1 91h0m1 93h0m0 0h0m1-108h0m0 21h0m0-71h0m0 202h0m3-255h0m1 106h0m1 29h0m3-53h0m0 227h0m2-223h0m0 123h0m0-244h0m0 40h0m2 53h0m0 41h0m1 218h0m0-324h0m0-23h0m0-9h0m1 203h0m0 50h0m1-85h0m0-122h0m0 322h0m2-72h0m1-66h0m1-109h0m1 114h0m0-168h0m1 184h0m0-72h0m1 151h0m0-149h0m0 153h0m1-56h0m0-243h0m2 85h0m1 113h0m0 110h0m1-213h0m0 193h0m1-164h0m1 77h0m3 20h0m0-71h0m1 87h0m0-58h0m0 178h0m1-90h0m2-328h0m0 89h0m1 18h0m2 243h0m1 6h0m0-150h0m1 155h0m1-82h0m1 0h0m0 25h0m0-103h0m2 235h0m0-372h0m0 250h0m1 23h0m1-212h0m1 147h0m0-74h0m0 24h0m0-37h0m1 104h0m0-103h0m0 8h0m0 181h0m1-51h0m0-54h0m1-34h0m1-153h0m2 243h0m0 26h0m0-325h0m1 77h0m0 180h0m1-152h0m0 168h0m0 49h0m0-244h0m2 298h0m7-18h0m1 21h0m2 9h0m3-9h0m9-21h0m6 56h0m2 1h0m3-66h0m3 29h0m1 51h0m1-63h0m1 50h0m0 17h0m8-52h0m2 20h0m2 24h0m1-73h0m2 81h0m17-63h0m1-46h0m0 30h0m1 72h0m4-81h0m0 9h0m3 11h0m5-10h0m1 26h0m5-15h0m1 36h0m6-22h0m5-39h0m2-8h0m1 46h0m0-42h0m9 9h0m3 35h0m2-7h0m7 41h0m2-35h0m6 39h0m3-60h0m1 70h0m6-48h0m3-25h0m0 57h0m2 12h0m1-73h0m12 23h0m0 51h0m0-48h0m2 3h0m2 9h0m1-9h0m6-9h0m1 6h0m6 9h0m1-30h0m3 47h0m2-63h0m5-27h0m2 99h0m1-22h0m3-47h0m0 65h0m6-47h0m0-12h0m14 78h0m5-28h0m0-21h0m1 0h0m4 0h0m2-98h0m0 92h0m2-14h0m3 19h0m1-62h0m0 114h0m1-52h0m4 1h0m4-7h0m0 9h0m2 3h0m8-23h0m1 14h0m2-2h0m4 4h0m1 22h0m5-85h0m1 112h0m3-73h0m11 21h0m1 22h0m12-39h0m1 63h0m7-123h0m2 82h0m5-9h0m2-60h0m0 51h0" stroke-opacity="0.2" stroke-width="9" class="s"/>
<path d="M932 1035h0m6-23h0m0 28h0m1 56h0m1-63h0m0 110h0m1-96h0m3 83h0m4 5h0m5-41h0m0 40h0m2-35h0m0-14h0m2 24h0m4-31h0m1 69h0m0-104h0m2 42h0m0 30h0m2-12h0m4-34h0m1 47h0m1-36h0m0-44h0m0 57h0m3-12h0m0-4h0m9-14h0m0-322h0m0 264h0m0 26h0m1-280h0m0 295h0m0-7h0m1-111h0m1 71h0m0 55h0m0 55h0m1-97h0m0 33h0m1-158h0m0 75h0m0 52h0m0-77h0m2 135h0m0-300h0m1 143h0m0-135h0m3-47h0m0 71h0m1 235h0m0-162h0m1-66h0m0-116h0m0 229h0m1-46h0m1 158h0m0-315h0m2 354h0m3-257h0m1-72h0m2 156h0m0-187h0m0 64h0m2-61h0m0 301h0m3-238h0m0 28h0m0-2h0m1 238h0m0-136h0m1-143h0m0 114h0m1-162h0m1 79h0m0 288h0m0-364h0m0-13h0m2 226h0m0 16h0m1-166h0m0-63h0m1 59h0m1-64h0m0 335h0m2-117h0m1 37h0m0 128h0m1-230h0m1 130h0m1-250h0m0 329h0m1 32h0m1-213h0m1 213h0m1-125h0m0-204h0m0 32h0m0 199h0m0-264h0m0 245h0m1-52h0m1-67h0m1 106h0m2-87h0m1 89h0m0-75h0m0 98h0m0-298h0m1 353h0m1-231h0m1 143h0m2 79h0m2-115h0m0-157h0m1 57h0m0-71h0m0 118h0m1 102h0m1-192h0m0 184h0m0-2h0m1-133h0m0 27h0m0 132h0m1 55h0m1-314h0m1 39h0m2 139h0m0-119h0m0 22h0m0-69h0m1 53h0m0 25h0m1 245h0m0-270h0m1 33h0m1 268h0m0-363h0m0 105h0m1 251h0m1-168h0m0-124h0m1 0h0m1-4h0m1 238h0m3-105h0m0-49h0m1 111h0m2-161h0m0-73h0m0 181h0m5 77h0m0-292h0m1 37h0m0 227h0m1 133h0m0-214h0m0-212h0m5 394h0m3 13h0m7 0h0m4 6h0m2-39h0m8-51h0m0 51h0m1-19h0m1 76h0m0-51h0m1-7h0m1 5h0m3 48h0m2-64h0m0-25h0m7 58h0m4-17h0m7 7h0m13 10h0m1 43h0m2-38h0m2 14h0m2-35h0m7 10h0m0-13h0m0 60h0m4-72h0m0-5h0m5 28h0m2 51h0m6-175h0m0 143h0m3 11h0m1-40h0m2-1h0m2 5h0m5 17h0m2-6h0m0-20h0m2 15h0m5 37h0m7-35h0m29-9h0m9 18h0m4-12h0m1 15h0m4-18h0m3-17h0m0 20h0m5-30h0m6 31h0m0 0h0m3-26h0m0-23h0m7 51h0m4 18h0m7-21h0m0-28h0m1 76h0m1 1h0m0-68h0m0-40h0m1 42h0m2-11h0m1-34h0m9 64h0m7 0h0m9 6h0m1-7h0m5-38h0m0 23h0m6-18h0m10 54h0m2-39h0m4 29h0m7-7h0m0-44h0m4 77h0m1-43h0m6 3h0m1-44h0m1-10h0m3 61h0m4-38h0m1 41h0m1-57h0m1 30h0m0 7h0m5 52h0m0-66h0m0 27h0m0-9h0" stroke-opacity="0.2" stroke-width="9" class="s"/>
<path d="M934 1140h0m5-11h0m0-90h0m3 36h0m2 55h0m1-15h0m2-83h0m3 110h0m1-39h0m0-39h0m1 35h0m2-8h0m3 39h0m8-43h0m3 8h0m1 26h0m3 16h0m2-101h0m2 111h0m6-30h0m0-87h0m2 19h0m0-197h0m0 196h0m1-260h0m0 94h0m0 86h0m2-120h0m1 187h0m2-264h0m1 214h0m1-24h0m0-99h0m0-69h0m1 134h0m1-51h0m1 34h0m0-146h0m1 64h0m0 195h0m0-80h0m0 113h0m1-90h0m0 66h0m0 16h0m0-297h0m0 2h0m1 24h0m0 147h0m0-128h0m1-51h0m0 201h0m1-67h0m1-142h0m0 61h0m0 130h0m1-149h0m1 83h0m1 120h0m1 39h0m0-200h0m1 73h0m0-99h0m1 153h0m0-165h0m0 289h0m1-184h0m1 43h0m0 54h0m0 38h0m1 16h0m2-33h0m1 72h0m0-76h0m0 66h0m0-269h0m0 176h0m0-79h0m1 27h0m2 114h0m1-28h0m0-264h0m1 120h0m0-64h0m1 117h0m1-23h0m1-149h0m0 185h0m2 53h0m0-175h0m1 151h0m0-151h0m2 76h0m0-72h0m1-89h0m0 364h0m1-352h0m1 175h0m0 219h0m0-319h0m1 105h0m1-158h0m1 134h0m3 179h0m1-345h0m0 246h0m0-213h0m1 30h0m0-68h0m0 76h0m1 0h0m1 89h0m1 153h0m1-259h0m0-4h0m2 111h0m3-117h0m0 204h0m1-259h0m1 47h0m1 118h0m1-180h0m1 294h0m1-54h0m0 124h0m0-351h0m0 149h0m2 164h0m0-176h0m1 123h0m1-275h0m0 199h0m1 55h0m0-211h0m1 183h0m0-89h0m0-37h0m1 205h0m1 31h0m1 29h0m0-105h0m1 95h0m0-193h0m0-112h0m3 22h0m0 44h0m0-77h0m1 379h0m2-244h0m0-55h0m0 116h0m0-123h0m1 300h0m0-282h0m1 96h0m0 17h0m0 99h0m1-31h0m1-51h0m0 65h0m1-71h0m0-41h0m0-215h0m3 161h0m2 222h0m1 45h0m5-37h0m12 3h0m1 11h0m3-14h0m0 50h0m1-83h0m0 26h0m7-36h0m4 75h0m3-32h0m5 22h0m1-36h0m3 73h0m6-68h0m2-18h0m2 40h0m0-54h0m2 63h0m1 27h0m6-34h0m4-12h0m8 44h0m6-37h0m5-20h0m4 14h0m1-4h0m4 31h0m1 24h0m4-7h0m3-63h0m10 53h0m4 1h0m1-34h0m1-64h0m2 29h0m1 6h0m2 2h0m9 24h0m0-23h0m7 16h0m14-10h0m1 20h0m10 0h0m3-35h0m4 32h0m5-32h0m9 38h0m0-23h0m1-37h0m3 48h0m1 35h0m10-65h0m2 24h0m1-31h0m12 17h0m0 10h0m3-15h0m4 27h0m3-45h0m0 25h0m5 79h0m4-56h0m1-2h0m1-16h0m1 62h0m6-44h0m3-7h0m4 60h0m1-51h0m1-53h0m2 67h0m1-93h0m1 18h0m1 31h0m1 20h0m5 8h0m5-1h0m1-6h0m3 62h0m25-72h0m0-3h0m1 14h0m1-2h0m0 8h0m6 9h0m4-8h0" stroke-opacity="0.2" stroke-width="9" class="s"/>
<path d="M932 1096h0m0-71h0m1 80h0m9-19h0m5 46h0m0-96h0m2 65h0m4 24h0m10-41h0m1 33h0m2 13h0m1-86h0m2 58h0m2 17h0m0 17h0m1-47h0m3-22h0m7-230h0m1 190h0m0 43h0m0-378h0m0 218h0m1-101h0m1-73h0m0 10h0m1-12h0m1 226h0m1 45h0m2-33h0m1-133h0m0-143h0m2 268h0m0 105h0m1-381h0m2 154h0m0 17h0m1-81h0m0 102h0m1 72h0m2 57h0m0-246h0m2 174h0m1-69h0m0 146h0m0 93h0m0-33h0m1-91h0m1-57h0m3 7h0m0 105h0m0-158h0m1 58h0m1-95h0m1-13h0m1 154h0m0 50h0m0-188h0m1-3h0m1 84h0m0 95h0m3 17h0m0-53h0m1 51h0m0-211h0m0 176h0m1-221h0m0 182h0m0 44h0m2 29h0m0-29h0m1-290h0m0 282h0m2-38h0m1-242h0m2 222h0m0 77h0m3-6h0m1-85h0m1-176h0m2 244h0m1 33h0m3-84h0m0 112h0m1-334h0m1 79h0m0-12h0m1-43h0m0 292h0m0-279h0m2 0h0m3 133h0m0 60h0m0-138h0m0-54h0m1-39h0m1-4h0m1 0h0m0 254h0m0-71h0m1-91h0m1 162h0m0-85h0m2 145h0m0-147h0m1-136h0m0 238h0m1-225h0m0 237h0m0-141h0m0 153h0m1 95h0m0-107h0m1-215h0m3 202h0m0-110h0m0 150h0m1-115h0m0 66h0m1-5h0m0 45h0m1-51h0m1-95h0m0-78h0m2 146h0m1-72h0m0-79h0m0 322h0m0-309h0m2 10h0m1 93h0m5-157h0m1 81h0m5 227h0m3 33h0m2 35h0m0-31h0m10-9h0m1 6h0m3-69h0m1 73h0m3 0h0m2 27h0m0-27h0m6-6h0m1-26h0m2 13h0m0 31h0m2-29h0m4 66h0m2-50h0m0-25h0m1-4h0m1 41h0m4-59h0m5 36h0m0 18h0m1 45h0m6-56h0m5 3h0m2 0h0m6 1h0m3-46h0m6 16h0m1-23h0m1 48h0m1 30h0m1 20h0m5-59h0m2 11h0m1 24h0m0 33h0m10-93h0m0-36h0m2 108h0m8-31h0m9 43h0m3-80h0m2 18h0m1 17h0m7 39h0m8-5h0m2-33h0m6 45h0m2-30h0m2-35h0m10 57h0m2-17h0m1-8h0m2-48h0m9 11h0m0 88h0m4-107h0m2 60h0m9-27h0m2 6h0m3 3h0m0 13h0m1 30h0m0-47h0m3 27h0m1-32h0m1 13h0m3-90h0m2 79h0m6 23h0m5-29h0m6-3h0m5 16h0m2-17h0m0 3h0m1 15h0m1 32h0m0-30h0m1 5h0m3-16h0m1-44h0m9 53h0m1-1h0m3-10h0m4-33h0m1 40h0m0-22h0m3 41h0m3-16h0m2-68h0m3 113h0m3-47h0m1 43h0m2-45h0m0-19h0m5 11h0m3 27h0m1-56h0m1 45h0m5-34h0m2 30h0m2-15h0m3 5h0m1 10h0m4 47h0m0-47h0m1-19h0" stroke-opacity="0.2" stroke-width="9" class="s"/>
<path d="M933 1098h0m1 21h0m4-23h0m1 25h0m0 18h0m5-94h0m1 63h0m0 20h0m1-98h0m3 55h0m4 21h0m2-76h0m0 23h0m1 17h0m0 47h0m0 24h0m2-33h0m3-10h0m5 13h0m1 4h0m3 2h0m0-26h0m1-1h0m11-53h0m1-113h0m2 108h0m2-198h0m0 133h0m2 46h0m0-153h0m0 38h0m1 4h0m1 149h0m1-50h0m0-42h0m1-236h0m0 135h0m0 68h0m0 46h0m1 133h0m0-386h0m0 181h0m2-112h0m0 201h0m1 58h0m1-23h0m0 11h0m0-302h0m2 31h0m1 103h0m1 182h0m2-66h0m0-75h0m2 81h0m2-65h0m0-22h0m1-5h0m0-34h0m1-179h0m2 342h0m0-240h0m1 198h0m0-73h0m0 118h0m1-262h0m1 224h0m0-164h0m0-111h0m1 330h0m0-70h0m1 58h0m1-69h0m1-64h0m0 158h0m2-131h0m0 65h0m3 31h0m1-160h0m0 136h0m0-15h0m0-36h0m0-83h0m1 60h0m1-142h0m0 4h0m0-19h0m1 320h0m0-138h0m1-83h0m0 169h0m2 3h0m0-32h0m2 2h0m0-255h0m0 375h0m1-16h0m0-347h0m0-21h0m1 296h0m1-14h0m1-150h0m1 97h0m0-97h0m0 1h0m1-179h0m0 67h0m0 145h0m0-187h0m0 120h0m1-101h0m2 96h0m1 222h0m1-218h0m1-116h0m0 308h0m1-99h0m1 93h0m3-245h0m0 224h0m1-180h0m0 101h0m1 14h0m0-165h0m1 165h0m3-153h0m1-73h0m1 351h0m3-167h0m1 16h0m1 27h0m0 112h0m2-61h0m0-88h0m0-33h0m0-169h0m2 115h0m0 38h0m1-46h0m1-129h0m0 358h0m1 25h0m1-309h0m0 55h0m1 227h0m0-71h0m0-63h0m0 117h0m1-209h0m0 219h0m0-2h0m1-260h0m1 294h0m0-233h0m5 248h0m2 3h0m3-15h0m0-35h0m8 93h0m4-3h0m2-4h0m0-35h0m1 58h0m1-50h0m3-6h0m2 3h0m4-16h0m1 70h0m1-48h0m1-33h0m1 11h0m1 19h0m2-43h0m0 67h0m4-52h0m5 60h0m7 3h0m1-43h0m5 24h0m1-67h0m1 76h0m5 1h0m6-55h0m6 26h0m21 3h0m2-23h0m2 6h0m1 15h0m1 2h0m6-39h0m0 34h0m7-10h0m3 13h0m1 29h0m6-41h0m5-18h0m4 50h0m1-42h0m0 35h0m3-11h0m0-40h0m8-2h0m2 34h0m0 29h0m0-34h0m8-12h0m1 8h0m1 29h0m0-33h0m1-22h0m2 4h0m0 7h0m2 30h0m2 44h0m1-15h0m0-6h0m4-91h0m1 68h0m1-20h0m2 9h0m3 13h0m2 49h0m5-77h0m5 61h0m3-96h0m4 63h0m4-10h0m2 35h0m3-31h0m3 14h0m8-45h0m2 50h0m8 5h0m0-40h0m3 20h0m0 21h0m2-24h0m1 22h0m1-21h0m1-31h0m4 81h0m1 6h0m6-44h0m2-83h0m3 113h0m0-51h0m8 0h0m1-32h0m8 28h0m0 33h0m2-49h0m11 31h0m5-3h0m2-26h0m2-10h0m1 41h0m1-7h0m3-42h0m3 95h0" stroke-opacity="0.2" stroke-width="9" class="s"/>
<path d="M936 995h0m5 93h0m6 30h0m1 9h0m5-86h0m2 40h0m1-22h0m1 16h0m2 50h0m7-3h0m1-46h0m3 37h0m1-22h0m2 45h0m0-6h0m2-32h0m8-230h0m1 73h0m0 8h0m0-22h0m1 112h0m2 39h0m0-44h0m1 70h0m1-179h0m0-76h0m0-136h0m1 168h0m0-95h0m1 47h0m0 85h0m0-154h0m1 251h0m1 10h0m1-77h0m0-22h0m0-20h0m1 173h0m0-247h0m0 187h0m1-2h0m0-174h0m0 208h0m0-53h0m2 23h0m1-260h0m0 175h0m0 134h0m0 61h0m1-333h0m0 268h0m1-68h0m0-110h0m3-149h0m0 305h0m2-119h0m0 112h0m1-129h0m0 27h0m0-78h0m0 194h0m2-326h0m1 300h0m0-290h0m0 236h0m0-26h0m3-88h0m1 179h0m0-153h0m0 53h0m0-87h0m1 8h0m0 106h0m0-67h0m0-69h0m1 16h0m0 15h0m2 241h0m0-222h0m1 25h0m0 165h0m0-29h0m0-5h0m2-281h0m1-3h0m0 221h0m4-276h0m1 230h0m0-80h0m1-29h0m0 152h0m1-40h0m2 140h0m0-178h0m2-195h0m2 204h0m1-214h0m1 379h0m0-237h0m0-49h0m1 269h0m0-302h0m0 15h0m1 76h0m0 13h0m1 188h0m0-296h0m0 214h0m0-70h0m0-123h0m2-6h0m0-33h0m3 72h0m1 174h0m1 137h0m1-58h0m0-330h0m1 185h0m1-25h0m0 140h0m2-301h0m1 134h0m1 103h0m0-22h0m0 42h0m1-272h0m3 253h0m0 29h0m2 78h0m1-169h0m1-26h0m0 109h0m1 86h0m0-36h0m1 11h0m0-1h0m1-269h0m0 244h0m1-251h0m0 31h0m0 10h0m0 234h0m1-248h0m1 99h0m0 176h0m1 12h0m1-5h0m0-92h0m0-46h0m1 104h0m0-147h0m0-157h0m4 219h0m0 92h0m0-228h0m0 60h0m1 159h0m3 97h0m2 16h0m2-54h0m1 26h0m3-38h0m6 10h0m2-16h0m1-41h0m0 63h0m1-47h0m1-23h0m8 67h0m1-7h0m1 34h0m3 27h0m1-68h0m3 16h0m3-57h0m2 69h0m5-31h0m3 12h0m1 14h0m5-5h0m1-61h0m8 23h0m1 33h0m0-54h0m0 72h0m0-18h0m3 1h0m0 0h0m3-41h0m4 32h0m6 21h0m1 6h0m1-30h0m1-6h0m3 52h0m1-11h0m4-33h0m4-24h0m7 59h0m1-26h0m1-6h0m3-8h0m5 14h0m1 43h0m4-4h0m14-44h0m6 56h0m9-56h0m10 23h0m4-26h0m1 61h0m0-55h0m11-10h0m3 25h0m4 32h0m1 7h0m1 20h0m2-62h0m3-48h0m3 53h0m5-33h0m4-28h0m3 32h0m1-44h0m0 28h0m4 31h0m2 48h0m4-50h0m4-1h0m1-4h0m3-70h0m0 71h0m3-1h0m0 6h0m3-29h0m7 71h0m1-47h0m0-27h0m3 20h0m2 1h0m4 31h0m2-89h0m5 86h0m1-18h0m1-32h0m2 20h0m0 7h0m2 7h0m2-32h0m1-1h0m8-23h0m3-10h0m3 41h0m8 77h0m0-121h0m0 42h0m2-38h0m3 33h0m1-26h0m7 74h0m6-22h0m4 0h0m3-21h0" stroke-opacity="0.2" stroke-width="9" class="s"/>
<path d="M935 1086h0m5 10h0m0 1h0m0-33h0m4 20h0m4 31h0m0-37h0m2 14h0m5-57h0m0 51h0m2-20h0m1-52h0m8 0h0m4 7h0m2 66h0m2-71h0m1 105h0m8-284h0m0-18h0m1 218h0m0-316h0m0 235h0m1 62h0m1-51h0m1-74h0m0-62h0m3 39h0m1 25h0m0 51h0m0 63h0m1-228h0m0 44h0m0 62h0m1-100h0m0 127h0m0-153h0m1-25h0m1 377h0m1-386h0m1 16h0m0 202h0m2-237h0m2 226h0m0-181h0m0 14h0m1 73h0m1-149h0m0 314h0m1 94h0m0-286h0m0 229h0m1-14h0m0-53h0m1-246h0m1 8h0m0 320h0m1-277h0m1 4h0m0 264h0m1 35h0m0-44h0m1-347h0m2 302h0m0 83h0m1-169h0m0-130h0m2 107h0m1-165h0m1 124h0m0 1h0m1 25h0m0-182h0m0 322h0m1-166h0m0 232h0m1-32h0m1-278h0m1 150h0m0 116h0m1-193h0m0 3h0m1 94h0m2 141h0m0-220h0m0 130h0m2-54h0m1-133h0m0 149h0m1-159h0m0 188h0m0-13h0m0 66h0m0-281h0m0 15h0m0 229h0m2-277h0m0 106h0m0 103h0m0 60h0m1 56h0m2-209h0m1 38h0m1-85h0m1 91h0m0-14h0m0 176h0m0 2h0m1-63h0m0-33h0m3 65h0m1-7h0m0-88h0m2 140h0m0-22h0m1-216h0m1-35h0m0-98h0m0 159h0m1-91h0m0 11h0m1 354h0m0-214h0m1-36h0m1-104h0m2 56h0m0 151h0m0 30h0m0-82h0m1 146h0m2-190h0m1 21h0m1 132h0m0-84h0m1-29h0m0 147h0m1-213h0m1 146h0m1-292h0m0 156h0m2 19h0m0-65h0m0 42h0m1-95h0m0 50h0m0 222h0m0-293h0m1 292h0m1-194h0m1-93h0m1 144h0m0 63h0m0-247h0m1 233h0m1 8h0m1-44h0m1-9h0m0-131h0m1 232h0m0-64h0m0 99h0m1-243h0m3 230h0m0 97h0m1 28h0m4-97h0m15 49h0m11 20h0m10-19h0m3-4h0m3 4h0m1-26h0m4 65h0m0-53h0m4-12h0m4 23h0m2 2h0m3-9h0m3-20h0m3 34h0m2 11h0m3-37h0m1 31h0m2-11h0m5 6h0m4 21h0m5 12h0m3-62h0m0 59h0m2-55h0m3 45h0m1-31h0m2-28h0m0 10h0m1 36h0m1-48h0m3 43h0m1 2h0m7-6h0m7 11h0m5-26h0m3 4h0m2 37h0m0-30h0m2-2h0m1 51h0m2-50h0m2-11h0m4-20h0m1 64h0m0-32h0m5 21h0m1-41h0m6 53h0m1-46h0m0 30h0m1-49h0m4-1h0m6 78h0m4-81h0m3 88h0m5-57h0m2-4h0m2-28h0m0 46h0m1-39h0m1 32h0m7-6h0m2 56h0m4-11h0m1-71h0m0-7h0m1 33h0m10 6h0m4 46h0m5 3h0m7-56h0m1 24h0m1-38h0m4-7h0m3 21h0m2-8h0m2 36h0m5-21h0m0-18h0m2 11h0m1 59h0m1-63h0m11-53h0m1 61h0m1 1h0m3 17h0m1-8h0m0-54h0m0 45h0m2 1h0m1-30h0m1-9h0m1 93h0m6-24h0m6-58h0m7 29h0m0 31h0m5-5h0m1-63h0m3 55h0m1-58h0m1 35h0m1-48h0m5 23h0" stroke-opacity="0.2" stroke-width="9" class="s"/>
<path d="M936 1102h0m1-13h0m6-74h0m2 84h0m4 21h0m0 15h0m1 9h0m6-28h0m4-13h0m1-76h0m2 77h0m1 0h0m8-14h0m10-220h0m2-73h0m0-2h0m1 267h0m1-145h0m0-126h0m0 183h0m1-13h0m0-63h0m0-85h0m0-72h0m1 245h0m0-256h0m1 137h0m0 191h0m0-194h0m1 72h0m0-109h0m0 110h0m1-223h0m0 211h0m0 16h0m0 130h0m0-123h0m0-70h0m1-128h0m3 11h0m0 390h0m0-258h0m1-18h0m1-136h0m0 313h0m2-151h0m1-134h0m0 213h0m0 6h0m1-104h0m0 35h0m2 131h0m3-142h0m0 118h0m0-103h0m2 150h0m0-318h0m0 234h0m2 35h0m0-331h0m1 354h0m0-3h0m2-243h0m0 50h0m1 5h0m0-75h0m1 333h0m1-396h0m0 74h0m1 68h0m0 133h0m2-26h0m2-256h0m0 363h0m0-327h0m1 330h0m0-311h0m2 7h0m1 282h0m0-350h0m3 239h0m1 174h0m1-85h0m1-191h0m0-84h0m1 7h0m2 335h0m0-142h0m1 5h0m0-9h0m3-196h0m0 80h0m1 70h0m0-59h0m1 118h0m0-203h0m2 141h0m0-189h0m0 324h0m1-2h0m1 38h0m0-262h0m4 227h0m1-189h0m1-100h0m2 239h0m3-169h0m0 201h0m0-87h0m1-38h0m0-184h0m1 307h0m1-82h0m1 52h0m0-76h0m1 80h0m1-44h0m1-56h0m1 27h0m0-191h0m2 273h0m1-133h0m0 130h0m0-62h0m1-61h0m1-151h0m0 179h0m0 1h0m0-40h0m1-96h0m0 248h0m1-231h0m0 90h0m1 206h0m2-270h0m0-27h0m1 292h0m1-326h0m0 242h0m0-39h0m1-208h0m5 286h0m3 60h0m6-12h0m4 23h0m1-11h0m2 23h0m0-39h0m1-1h0m2 34h0m2-56h0m2 80h0m0-38h0m4 50h0m5-70h0m3 48h0m3-89h0m6 93h0m7-47h0m0 46h0m3-34h0m5 48h0m5-59h0m2-5h0m0-4h0m2 19h0m0-37h0m0 36h0m1 50h0m6-56h0m0 4h0m10-16h0m2 62h0m5-46h0m5-34h0m2-15h0m1 44h0m2 45h0m7-36h0m0 31h0m6-32h0m1 46h0m3-47h0m1-9h0m3 31h0m7-20h0m11-16h0m1-18h0m1 6h0m7 46h0m2-23h0m0 5h0m10-19h0m3 39h0m3-86h0m0 4h0m6 70h0m2-23h0m0 9h0m0 38h0m1-56h0m12 24h0m0-4h0m0 4h0m1-19h0m4 36h0m4-21h0m0 30h0m1-29h0m3-1h0m8 3h0m0-26h0m7-67h0m2 130h0m4-43h0m1 23h0m2-37h0m2 31h0m4 20h0m1-32h0m0-25h0m1 23h0m1-51h0m2 61h0m1-8h0m1-22h0m5 3h0m2 20h0m2-25h0m0 17h0m3-9h0m3 72h0m2-77h0m3-30h0m4 19h0m5 34h0m1-30h0m4-7h0m8 3h0m0 31h0m4-34h0m7 15h0m3-3h0m0 50h0m1-53h0m1 28h0m11 25h0" stroke-opacity="0.2" stroke-width="9" class="s"/>
<path d="M931 1032h0m3 102h0m4-4h0m1 11h0m4-34h0m2-12h0m0-4h0m3 27h0m1 9h0m0-27h0m4 0h0m1 42h0m5-23h0m2-20h0m5 47h0m0-36h0m1-38h0m2-15h0m13-357h0m1 287h0m0-112h0m1-83h0m2 85h0m2 160h0m0 18h0m1-202h0m1-152h0m1 184h0m1 160h0m0-145h0m1-39h0m0-101h0m0 15h0m0 64h0m1 202h0m0-26h0m1-187h0m1 243h0m1-304h0m1 244h0m1-275h0m1 301h0m0-345h0m2 199h0m0 28h0m1 201h0m0-69h0m0-54h0m1-101h0m0-149h0m1 285h0m0-5h0m0 14h0m1-167h0m2-59h0m2-59h0m0 158h0m0 136h0m1-189h0m1-124h0m0 205h0m1-31h0m0 1h0m0 109h0m1-304h0m0-22h0m0 131h0m0 105h0m1-220h0m0 328h0m0-155h0m1-196h0m2 206h0m2 139h0m0-86h0m0-199h0m1 288h0m0-22h0m0-8h0m2-305h0m0 158h0m0 115h0m1 101h0m1-236h0m1 83h0m0 3h0m2-46h0m0 172h0m1-27h0m1-256h0m0 123h0m0-6h0m3 153h0m1-331h0m1 46h0m0 147h0m0 0h0m1 109h0m0-261h0m2 270h0m3-252h0m1 67h0m1-47h0m2 270h0m0-285h0m0 56h0m0 185h0m1-131h0m4 151h0m2-341h0m1 191h0m0 14h0m0-29h0m1-167h0m1 218h0m0 75h0m0 30h0m2-78h0m1-162h0m3 82h0m4 19h0m2-130h0m2 179h0m0 61h0m0-23h0m0-150h0m1 5h0m0 51h0m1-67h0m0 27h0m2-66h0m1 95h0m0 112h0m1 13h0m0-14h0m9 101h0m1 9h0m1 0h0m3-3h0m3 5h0m4-10h0m9 47h0m3-43h0m3 9h0m1-59h0m0 58h0m0-9h0m6-97h0m1 98h0m1-3h0m3 20h0m1-59h0m3 90h0m5-68h0m11 48h0m1-49h0m4 5h0m3 5h0m4-15h0m5 24h0m5-1h0m1-4h0m4-23h0m3 18h0m1 31h0m3-49h0m3 39h0m1-65h0m3 104h0m0-70h0m1 84h0m0-99h0m1 84h0m4-77h0m2 56h0m3 25h0m2 8h0m1-63h0m7 63h0m9-45h0m0-26h0m2 16h0m7-14h0m1-60h0m10 46h0m0 52h0m3-42h0m4 75h0m0-52h0m2 33h0m0-40h0m2 6h0m0 18h0m4-19h0m1-11h0m3-25h0m1 21h0m0 50h0m1-12h0m1-29h0m8 19h0m2-27h0m2-14h0m2 47h0m8-26h0m3-26h0m2 27h0m2 6h0m0 45h0m1-4h0m0-72h0m2 31h0m2 1h0m0 52h0m0-9h0m5-22h0m7-47h0m0 22h0m1-30h0m2 57h0m6-32h0m9 22h0m0-13h0m2 26h0m9-35h0m2 54h0m3-29h0m0-17h0m0-50h0m6 103h0m0-12h0m7-71h0m5 33h0m2-60h0m10 112h0m1-54h0m3-26h0m2 19h0m1 2h0m3 15h0m4-14h0m4-2h0m3-27h0" stroke-opacity="0.2" stroke-width="9" class="s"/>
<path d="M932 1052h0m3 76h0m3-60h0m0-5h0m1 41h0m3 19h0m1 13h0m0-84h0m2 28h0m1-7h0m0 64h0m5-22h0m1-57h0m9 26h0m4-48h0m2 29h0m1 67h0m0-43h0m0 9h0m1-43h0m1 73h0m2-56h0m2 16h0m1 22h0m0-30h0m7-170h0m1-95h0m1 183h0m0-163h0m1 0h0m0 173h0m1-95h0m5 140h0m0-156h0m0 167h0m1-193h0m3-7h0m0-88h0m1-35h0m0 97h0m1 27h0m4 153h0m2 102h0m0-168h0m1 93h0m1-157h0m1 141h0m0-79h0m0 15h0m1-210h0m0 104h0m1 43h0m0-41h0m2 113h0m1-61h0m1 99h0m3-141h0m0 201h0m1-187h0m0 50h0m1-68h0m0-161h0m1 162h0m0-116h0m3 296h0m0-340h0m0 183h0m1 26h0m1 5h0m2 88h0m1-264h0m0 158h0m0 122h0m2-184h0m1 82h0m0-199h0m1 310h0m1-197h0m1 96h0m0 171h0m3-339h0m1-42h0m0 340h0m1-274h0m1 238h0m0-291h0m2 167h0m0-14h0m0-39h0m1 177h0m1-32h0m1-133h0m1 52h0m0-38h0m1-111h0m0 209h0m1-166h0m0 109h0m0-77h0m2-44h0m1 55h0m0 200h0m0-156h0m1-106h0m0 24h0m1-29h0m0 223h0m2 26h0m0-162h0m0 91h0m1 106h0m1-244h0m0 94h0m0-87h0m2-7h0m0 185h0m0-40h0m3 65h0m0-86h0m0-211h0m0 203h0m0-193h0m1 182h0m1-89h0m0 195h0m0 6h0m2-212h0m0 22h0m0 58h0m1 164h0m3-135h0m0-33h0m1 219h0m1-113h0m0-205h0m0 206h0m1-187h0m2 94h0m0 125h0m0-262h0m1 250h0m0-41h0m0-51h0m2 10h0m0-118h0m1 298h0m1-72h0m6-7h0m3 38h0m13 51h0m1-63h0m9-9h0m1 64h0m2 8h0m4-82h0m0 32h0m0-9h0m1-5h0m5 4h0m10 9h0m0-59h0m2 94h0m0 13h0m6-2h0m2 0h0m2-45h0m1-48h0m2 95h0m2-46h0m5 52h0m1-46h0m1-14h0m5-33h0m1 38h0m5 11h0m1-45h0m5 5h0m1 61h0m5-62h0m1 76h0m3-26h0m4-67h0m4 101h0m2-57h0m3 1h0m1 58h0m2-73h0m4-23h0m0-9h0m3 59h0m3-58h0m6 84h0m3-97h0m2 36h0m1 1h0m0 73h0m0-54h0m3 2h0m0-3h0m2 47h0m8-51h0m17-1h0m6-87h0m1 155h0m4-101h0m3 55h0m7-29h0m8 32h0m1-69h0m1 91h0m3-33h0m4 0h0m2-2h0m3 49h0m0 4h0m1-62h0m1-30h0m0 38h0m1 42h0m3-55h0m1-21h0m0 28h0m1 5h0m8 13h0m2-19h0m0-13h0m1-3h0m3-9h0m4 16h0m1 13h0m1 1h0m1-10h0m7-49h0m5 31h0m2 16h0m7-26h0m1 87h0m1-67h0m0-13h0m8 33h0m4-13h0m1 29h0m1-11h0m1-5h0m6 47h0m3-41h0m8-7h0m6 4h0m1-17h0m4 35h0" stroke-opacity="0.2" stroke-width="9" class="s"/>
<path d="M937 1077h0m4 58h0m1-10h0m1-9h0m1-31h0m4-7h0m0-26h0m1 85h0m3-34h0m3 28h0m4-96h0m0 45h0m3-30h0m1 47h0m10 42h0m2-65h0m7-390h0m1 153h0m0 192h0m1-16h0m0-7h0m0-116h0m1 174h0m0-291h0m1 206h0m0-33h0m0 65h0m0-66h0m1-85h0m0-17h0m1 136h0m1 77h0m0-9h0m1-345h0m1 317h0m1-316h0m0 114h0m1 97h0m0-224h0m1 363h0m3-132h0m1-112h0m0 222h0m0-163h0m1 92h0m0-132h0m0 118h0m1-134h0m1-54h0m1-68h0m1 88h0m0 88h0m2 203h0m1-323h0m3 198h0m1-113h0m0-40h0m0 277h0m1-214h0m0 97h0m0-94h0m1 63h0m0-19h0m0-101h0m1-38h0m0 35h0m2-41h0m0 258h0m2-138h0m0-52h0m0 83h0m0 46h0m1 94h0m0-149h0m1 189h0m0-310h0m1 94h0m1 164h0m1-168h0m0-147h0m0 358h0m1-40h0m0-57h0m1-138h0m0 204h0m0-228h0m1 83h0m1-199h0m0 222h0m1 0h0m0 113h0m1-335h0m4 135h0m0-40h0m0-102h0m1 363h0m0-194h0m1-72h0m1 159h0m0-92h0m0-170h0m1 103h0m1 130h0m0-2h0m1-182h0m1-29h0m1 24h0m0 96h0m0 104h0m0 50h0m1 3h0m1-182h0m1-47h0m0-19h0m0 288h0m0-249h0m0-35h0m0 60h0m0 247h0m1-106h0m1-176h0m0 333h0m1-185h0m0-42h0m0-111h0m1 232h0m0-45h0m0 16h0m0-184h0m1 160h0m2-40h0m2-56h0m2-27h0m1 188h0m0-105h0m1 156h0m1-288h0m0 74h0m1 178h0m1-40h0m0-189h0m1-69h0m0 161h0m1-149h0m0 147h0m0-3h0m2-64h0m0 156h0m0-178h0m1 154h0m0-37h0m1-42h0m2-140h0m0 256h0m1 53h0m2-54h0m0 52h0m2-289h0m2 120h0m1-68h0m0 119h0m0-63h0m1-171h0m1 462h0m5-45h0m3 19h0m0-28h0m3 37h0m4-57h0m2 12h0m8 45h0m0-41h0m1 4h0m7-9h0m1-40h0m3 31h0m0 0h0m1 4h0m5-35h0m9 63h0m0-40h0m0 53h0m0-63h0m4 56h0m1-49h0m1 60h0m7 1h0m1-23h0m4 18h0m3 9h0m5 1h0m0-5h0m5 1h0m1-85h0m3 39h0m1 11h0m0 5h0m3 25h0m1 4h0m1-34h0m0-10h0m5 25h0m3 39h0m1-24h0m0-47h0m3 19h0m1-18h0m5-43h0m10 60h0m0-15h0m5 30h0m1-65h0m6 47h0m0 2h0m1 50h0m1-14h0m0-34h0m14 11h0m0-37h0m7-29h0m6 42h0m3-25h0m4 5h0m2-19h0m0 10h0m5 29h0m5 47h0m7-19h0m1-36h0m5 25h0m4 48h0m0-60h0m3 3h0m2 3h0m2-39h0m1-4h0m1 12h0m2 55h0m1-70h0m3-47h0m6 85h0m9-50h0m2 47h0m0 8h0m1-31h0m1 81h0m1-20h0m0-11h0m7-46h0m2 16h0m3 34h0m6 15h0m1-49h0m7 15h0m1 0h0m1 46h0m2-58h0m1 2h0m1 38h0m3-34h0m1-30h0m1 30h0m3-20h0m2-25h0m0 25h0m2 24h0m2-54h0m2 54h0m3-3h0m3 5h0m4 1h0m3-23h0m0-43h0m0 18h0m3 48h0m0-31h0m2 22h0m6-23h0m4 79h0m1-9h0m0-66h0m3 27h0" stroke-opacity="0.2" stroke-width="9" class="s"/>
<path d="M933 1118h0m1-20h0m2 25h0m6 8h0m1-5h0m0 17h0m3-87h0m0 59h0m5-102h0m0 109h0m6-118h0m1 94h0m1 0h0m4 6h0m3-31h0m0-42h0m1 59h0m4 57h0m3-17h0m8-322h0m1 210h0m2-281h0m0 48h0m2 118h0m2 8h0m0-153h0m0 288h0m0-280h0m0 246h0m1 8h0m0-166h0m2 24h0m0-94h0m1 122h0m1-118h0m0 317h0m0-416h0m1 323h0m0-54h0m0 33h0m1-27h0m2 38h0m1 64h0m1-8h0m0-176h0m0-102h0m1-16h0m0 140h0m1 128h0m3-185h0m2-47h0m0 223h0m1-158h0m1-165h0m1 239h0m2-30h0m2-124h0m0 260h0m1-127h0m0 60h0m2-96h0m0 115h0m0-222h0m1-21h0m0 87h0m0 76h0m0-149h0m1 54h0m0-49h0m1 56h0m2-57h0m0 155h0m0-243h0m0 229h0m1 7h0m1-6h0m1-184h0m1 91h0m1 259h0m1-81h0m0 62h0m0-10h0m0-84h0m2 26h0m2 57h0m1-40h0m0-160h0m0 20h0m2 100h0m0-155h0m0 5h0m3-72h0m0 136h0m1-32h0m1-124h0m1 61h0m1 210h0m1-140h0m0 43h0m1 63h0m0 63h0m0-242h0m1-33h0m1 163h0m1 170h0m1-394h0m0 256h0m1-201h0m0 204h0m3-20h0m0-135h0m1 215h0m0 54h0m0-282h0m1 16h0m1 11h0m1 134h0m0 20h0m0-256h0m0 125h0m1-80h0m0 100h0m0-39h0m0 94h0m1 127h0m1-97h0m1 0h0m2 95h0m0-296h0m4 194h0m1 70h0m0-252h0m0 52h0m0 234h0m0-174h0m1-28h0m1-112h0m1 63h0m2 286h0m0-296h0m0 138h0m0 120h0m1-197h0m1 124h0m0-228h0m1 290h0m1-98h0m1 151h0m3 2h0m3 9h0m5 5h0m4-24h0m8 3h0m0 13h0m1 24h0m1-20h0m3-26h0m2 29h0m1 10h0m3 28h0m1-99h0m3 58h0m0-4h0m7-16h0m8 57h0m3-87h0m0 2h0m5 98h0m0 8h0m1-7h0m1-45h0m0-27h0m9 17h0m2-16h0m1 26h0m2 32h0m4-30h0m3-19h0m7 8h0m3-9h0m10 66h0m2-49h0m7-11h0m2 11h0m4-42h0m3 78h0m3-36h0m2 26h0m2-57h0m3 29h0m3-22h0m1 15h0m3 61h0m4-41h0m1 18h0m1-41h0m5-15h0m1 19h0m0-5h0m6-6h0m2 12h0m1-4h0m5-13h0m1 22h0m2-24h0m1 21h0m6-31h0m3 39h0m1 36h0m7-31h0m0-9h0m7 27h0m2-57h0m16 37h0m4-12h0m9 6h0m1-32h0m2 34h0m1-26h0m8 3h0m0 59h0m1 5h0m3-17h0m2 8h0m0-11h0m10-22h0m1-51h0m1 49h0m2 52h0m0-11h0m3-67h0m1-24h0m0 49h0m1-41h0m0-38h0m1 122h0m5-50h0m2-7h0m3 50h0m3 17h0m7-108h0m0 58h0m4-47h0m2 37h0m1 6h0m4-12h0m0 42h0m4 16h0m3-73h0m1 19h0m9 11h0m2-7h0m1 5h0" stroke-opacity="0.2" stroke-width="9" class="s"/>
<path d="M932 1090h0m0-9h0m2-7h0m1 72h0m3-45h0m2-23h0m0 35h0m1 31h0m1-77h0m2 78h0m2-109h0m1 111h0m4-6h0m2-24h0m3-14h0m3 9h0m8 15h0m5-54h0m2 2h0m8-242h0m2-42h0m1 219h0m0-298h0m0 106h0m1 102h0m1-72h0m0-17h0m1 32h0m0-37h0m1 288h0m1-62h0m0-368h0m0 94h0m1 130h0m0 62h0m0 31h0m1-176h0m0 186h0m1-286h0m0 305h0m0-217h0m1 26h0m0 212h0m1-126h0m0 108h0m1-128h0m0 83h0m1-55h0m0-12h0m1-195h0m1 306h0m0-257h0m0 243h0m3-323h0m0 324h0m1-216h0m3 241h0m0-210h0m1 219h0m1-227h0m0-125h0m1 286h0m2-134h0m0 34h0m0-119h0m0-80h0m0 24h0m2 247h0m0 38h0m1-45h0m0-163h0m1 104h0m2-109h0m0 191h0m0-31h0m0-219h0m1-17h0m2 183h0m0-65h0m0-125h0m0 163h0m1-113h0m0 20h0m0 142h0m0 168h0m0-334h0m1 385h0m1-115h0m0-64h0m1 102h0m0-119h0m1-14h0m0 88h0m2 5h0m2-44h0m0-5h0m1-73h0m0-70h0m0 184h0m1-217h0m0-5h0m0 61h0m0-113h0m1 100h0m0 53h0m1 94h0m1-61h0m0-197h0m1 209h0m1 69h0m0 76h0m2-112h0m0 48h0m0-163h0m3-161h0m1 228h0m0 170h0m0-131h0m1-167h0m1 61h0m1 33h0m0-143h0m0 68h0m2 32h0m2 194h0m3-272h0m0 84h0m0 233h0m1-34h0m1-74h0m1 63h0m0-132h0m2 50h0m1-102h0m1-54h0m0 19h0m1 138h0m1-110h0m1 198h0m1-204h0m1 73h0m0 66h0m1-103h0m1 126h0m1-8h0m0-112h0m1-137h0m1 184h0m0-150h0m0 63h0m0 4h0m0 69h0m2-168h0m0 324h0m1-65h0m1 8h0m0-108h0m0-60h0m0 61h0m0-142h0m1 272h0m1-306h0m1 171h0m1 187h0m2 47h0m1-5h0m0-16h0m6 15h0m0-36h0m2 1h0m1-13h0m1 14h0m3-86h0m2 123h0m3 0h0m2-41h0m1-45h0m0 60h0m5 19h0m9-45h0m10 60h0m11-85h0m6 38h0m0-33h0m4 29h0m4 27h0m0-21h0m1-20h0m0 11h0m1-47h0m1 54h0m2 50h0m0-52h0m2 41h0m0 8h0m1-56h0m7 3h0m8-40h0m2 10h0m6 37h0m0 54h0m6-60h0m2 47h0m2-85h0m1 36h0m0-56h0m12 31h0m1 54h0m3-23h0m3-60h0m3 25h0m1 60h0m0-62h0m2 5h0m1 89h0m0-84h0m1 16h0m6-8h0m3 36h0m5-74h0m1 34h0m2 48h0m5-39h0m0 0h0m7-29h0m2-14h0m1 32h0m4 5h0m5 48h0m1-43h0m1-5h0m0 27h0m0-44h0m2 36h0m1-43h0m3 42h0m1-7h0m1 32h0m3-26h0m1 32h0m4-55h0m6-11h0m1 40h0m5 38h0m3-48h0m5 33h0m2-57h0m4 81h0m0-53h0m5-34h0m2 86h0m5-53h0m0-47h0m1 82h0m1-43h0m1 19h0m0-28h0m10 46h0m6-29h0m0-15h0m2 18h0m7-16h0m2 15h0m5 19h0m0-39h0m9-4h0m4 53h0m10-24h0m4-1h0m2-15h0m7-8h0m3 22h0" stroke-opacity="0.2" stroke-width="9" class="s"/>
<path d="M932 1043h0m0 75h0m1 26h0m0-27h0m3-19h0m2-2h0m3 1h0m2 20h0m2-25h0m0 7h0m2 14h0m7-6h0m1 13h0m5 17h0m1-87h0m2 31h0m2-2h0m2 30h0m1-48h0m1 84h0m1-90h0m3 4h0m3 0h0m6-153h0m0 126h0m1-70h0m1-230h0m2-29h0m1 137h0m0-32h0m0 7h0m1 28h0m1-87h0m0 283h0m0-321h0m1 111h0m0 19h0m1-28h0m2 16h0m0-72h0m0-9h0m0-36h0m2 329h0m0-213h0m1-73h0m0-78h0m0 272h0m2 54h0m0-178h0m1-79h0m0 182h0m0 27h0m1-131h0m0 124h0m1 53h0m1 27h0m1-36h0m2-12h0m1 88h0m0-97h0m1 57h0m0-324h0m0 239h0m2 57h0m1 24h0m0-220h0m0-102h0m2 53h0m0-25h0m2 79h0m0 112h0m1-105h0m0 4h0m0 214h0m1 13h0m0-370h0m1 189h0m1 74h0m0-189h0m1 238h0m0-292h0m1 343h0m0-96h0m1 13h0m0-204h0m0 72h0m4-91h0m0 305h0m1-9h0m0-326h0m1 113h0m1 9h0m1 61h0m2 81h0m2 75h0m1-91h0m1 141h0m0-151h0m0-12h0m1-36h0m0-96h0m1 118h0m1-101h0m0 248h0m1-156h0m0-129h0m1 200h0m1 137h0m0-77h0m1-231h0m1 143h0m0 151h0m1-338h0m2-6h0m0 256h0m1-72h0m0 106h0m1 95h0m0-239h0m1-76h0m0 80h0m0 53h0m2-67h0m1 207h0m0-239h0m2 79h0m0 107h0m1-162h0m0 61h0m2-232h0m1 310h0m0-321h0m1 23h0m0 76h0m0-63h0m2 97h0m0 131h0m2-245h0m0 222h0m2-136h0m2-81h0m0 29h0m1 101h0m0 117h0m0-106h0m2-50h0m1 75h0m1-55h0m0 197h0m1-218h0m2-39h0m0-19h0m2 333h0m2-36h0m2 24h0m6-13h0m8 3h0m2 43h0m0-33h0m1 53h0m8-21h0m4 7h0m1-19h0m0-53h0m1-23h0m5 44h0m2 42h0m4-31h0m4 37h0m1 7h0m3-53h0m0 8h0m1-9h0m2-40h0m1 33h0m3 22h0m2-5h0m3-54h0m3 102h0m6-48h0m8-11h0m5 68h0m9-74h0m3 22h0m1-11h0m1 7h0m8-55h0m2 4h0m4 36h0m4 52h0m3-20h0m1-21h0m12 25h0m8-48h0m2 68h0m9 1h0m1-158h0m1 89h0m2 44h0m1-45h0m0 54h0m0-26h0m3 33h0m1-2h0m0-19h0m1 32h0m3-67h0m3 16h0m2 42h0m3-69h0m1 22h0m0 5h0m9-21h0m5 6h0m5-33h0m7 89h0m9-43h0m2-3h0m3 14h0m1 3h0m1-22h0m3 66h0m2-46h0m1 45h0m4 7h0m5-55h0m2-76h0m9 124h0m2-60h0m2 9h0m1 13h0m5-5h0m2 38h0m2-112h0m9 97h0m2-27h0m2-46h0m4 72h0m3-52h0m0 64h0m1-43h0m1 3h0m0 58h0m5-76h0m1 27h0m3-40h0m6 79h0m5-46h0m2 35h0m4 3h0m7-85h0" stroke-opacity="0.2" stroke-width="9" class="s"/>
<path d="M933 1117h0m1 2h0m1-54h0m2-2h0m5 7h0m0 11h0m4 35h0m1-50h0m1 49h0m0 18h0m1-17h0m0-66h0m1 56h0m2-2h0m1-34h0m2 36h0m7 22h0m2 5h0m1-59h0m1 72h0m0-27h0m5-38h0m0 38h0m0-29h0m1-22h0m3 37h0m7-59h0m1-310h0m0 72h0m1 200h0m0-280h0m1 320h0m1-48h0m0-114h0m0 23h0m0-4h0m0-200h0m0 190h0m1-22h0m2-165h0m0 405h0m0-360h0m1 247h0m0-28h0m1-87h0m1-120h0m1 101h0m1-96h0m1 26h0m0 112h0m1 71h0m0-94h0m0-90h0m1 54h0m0 108h0m2-47h0m0 95h0m0 104h0m1-40h0m1-87h0m0-115h0m0 208h0m0-346h0m1 50h0m0 203h0m1-47h0m1-132h0m0 236h0m1-91h0m1 47h0m0-184h0m1-93h0m0 131h0m1 25h0m3-148h0m0 123h0m0 7h0m0 133h0m1-45h0m3-84h0m0-13h0m0-108h0m0 104h0m1 201h0m1-18h0m1-231h0m2-84h0m0 254h0m1 65h0m0-212h0m3 124h0m0 97h0m2-262h0m1 31h0m0 302h0m0-402h0m1 218h0m1 115h0m0-325h0m0 214h0m0 124h0m0-235h0m0-2h0m1 87h0m0-31h0m5-101h0m1 158h0m0 145h0m1-51h0m0-177h0m1-30h0m0 32h0m0 29h0m0-55h0m1 7h0m0-131h0m0 338h0m0-4h0m2-12h0m1-129h0m0 150h0m1-103h0m0-213h0m0 144h0m2 72h0m0-69h0m0 49h0m1-102h0m0 74h0m0-136h0m0 256h0m1-242h0m0 182h0m1-183h0m1 68h0m0 226h0m0-346h0m0 165h0m2 30h0m0 136h0m0-125h0m1-19h0m2 28h0m0 76h0m1-60h0m0 16h0m0-282h0m1 285h0m0-150h0m0 12h0m0 277h0m0-56h0m1-303h0m1 166h0m2 39h0m1 100h0m1-227h0m0-103h0m0 90h0m1 69h0m0 168h0m3-188h0m0 156h0m1-70h0m1 90h0m1-316h0m0 242h0m0-233h0m0-2h0m1 276h0m0-153h0m3 217h0m1-41h0m1-68h0m10 173h0m0-18h0m1-25h0m0 40h0m3-76h0m4 43h0m4-25h0m3-14h0m2 64h0m2-33h0m5-9h0m1 9h0m2-27h0m4 21h0m0 4h0m1 58h0m2-28h0m3-41h0m4 9h0m3 52h0m1-85h0m5 27h0m2 9h0m9-10h0m0 57h0m2-122h0m5 70h0m5 48h0m0 3h0m2-59h0m1 12h0m2-41h0m1-9h0m3 27h0m3 53h0m5-46h0m1-46h0m1 60h0m0 6h0m1 43h0m0-40h0m6 3h0m8-10h0m2-7h0m5-44h0m4 49h0m5-8h0m0 8h0m4-40h0m7 55h0m0-22h0m2 18h0m2-44h0m0 73h0m2-46h0m1 45h0m0-29h0m0-9h0m0-2h0m6-10h0m3-6h0m0 23h0m2 32h0m2-19h0m7 16h0m2-45h0m1-2h0m1-21h0m2 3h0m2 20h0m1 14h0m2-58h0m1 110h0m0-66h0m4 22h0m0-51h0m0 62h0m18-35h0m2 10h0m5-56h0m5 30h0m1 28h0m0-15h0m0-46h0m0 56h0m2 11h0m3-12h0m1-32h0m0 39h0m2-48h0m3 56h0m5 7h0m8-75h0m3 92h0m2-39h0m9 62h0m1-6h0m0-62h0m1 41h0m3 17h0m5-28h0m1-23h0m3-24h0m7 10h0m1-42h0m11 80h0m15-44h0m2-33h0m10 10h0" stroke-opacity="0.2" stroke-width="9" class="s"/>
</svg></body></html>
